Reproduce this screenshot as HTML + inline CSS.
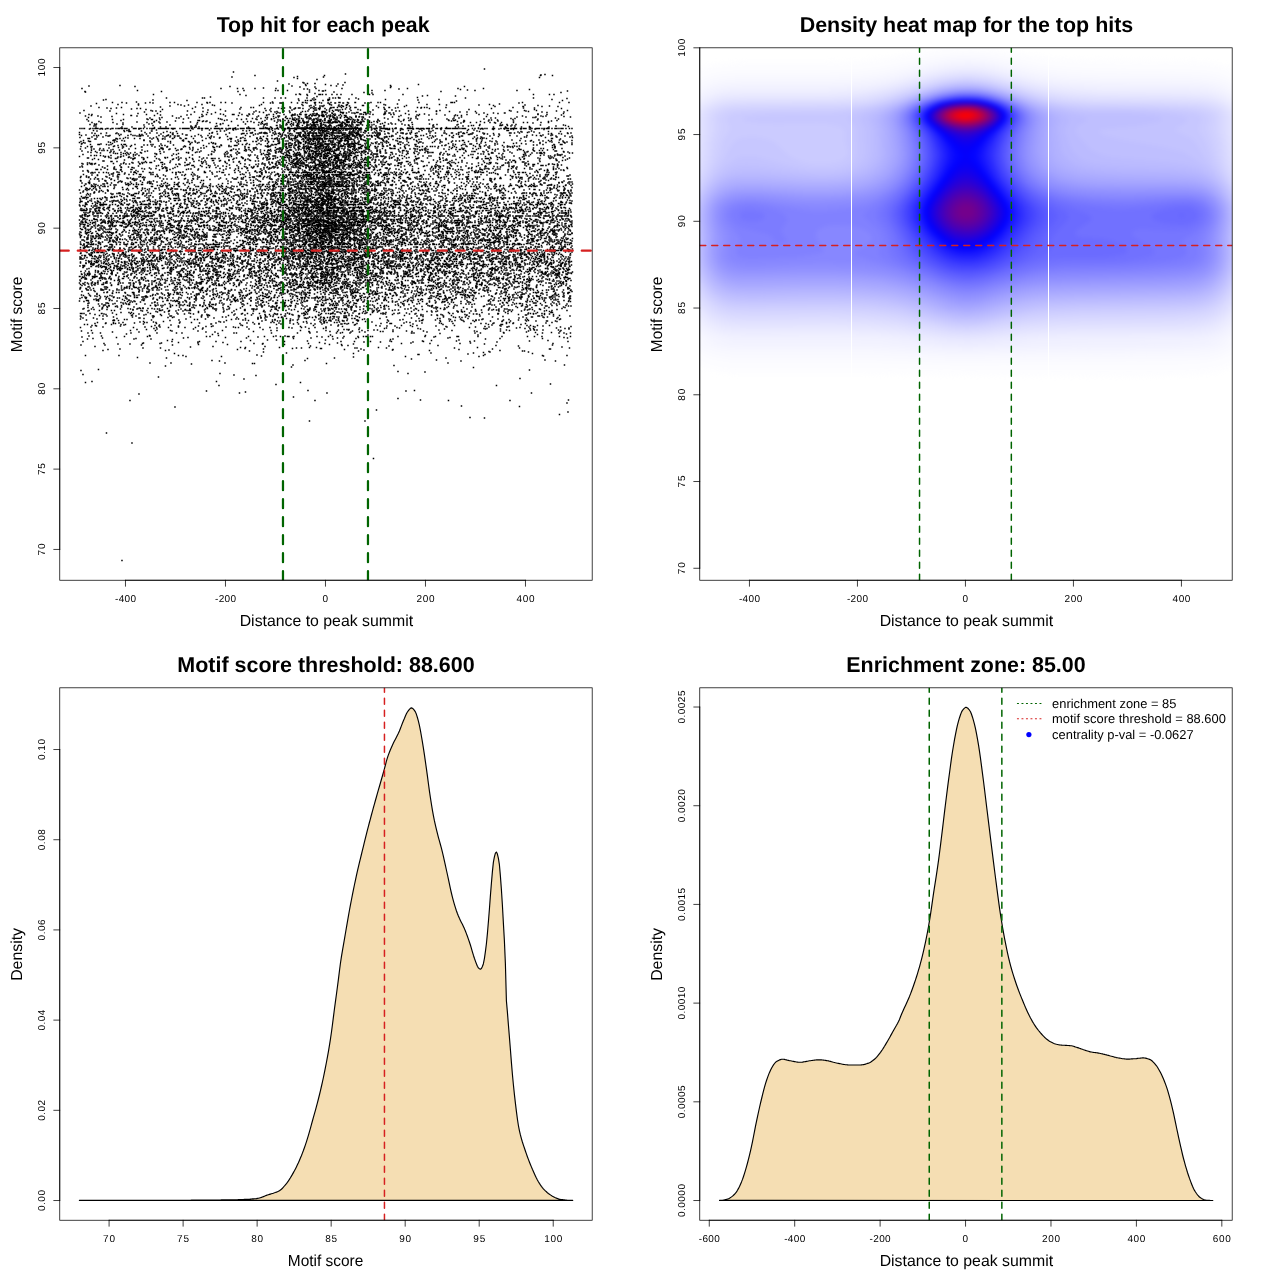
<!DOCTYPE html><html><head><meta charset="utf-8"><title>plot</title><style>html,body{margin:0;padding:0;background:#fff}svg{display:block}text{font-family:"Liberation Sans",sans-serif;fill:#000;text-rendering:geometricPrecision;opacity:.999}</style></head><body>
<svg width="1280" height="1280" viewBox="0 0 1280 1280">
<rect width="1280" height="1280" fill="#fff"/>
<defs>
<clipPath id="c0"><rect x="59.76" y="47.81" width="532.43" height="532.43"/></clipPath>
<clipPath id="c1"><rect x="699.76" y="47.81" width="532.43" height="532.43"/></clipPath>
<clipPath id="c2"><rect x="59.76" y="687.81" width="532.43" height="532.43"/></clipPath>
<clipPath id="c3"><rect x="699.76" y="687.81" width="532.43" height="532.43"/></clipPath>
<filter id="hb" x="-5%" y="-5%" width="110%" height="110%" color-interpolation-filters="sRGB"><feGaussianBlur stdDeviation="2"/></filter>
</defs>
<g id="scatter" clip-path="url(#c0)">
<g transform="translate(58.730 0) scale(.5)" stroke="#000" stroke-width="3" fill="none">
<path d="M0 138h1080" stroke-dasharray="0 850 3 3999"/>
<path d="M0 144h1080" stroke-dasharray="0 348 3 3999"/>
<path d="M0 148h1080" stroke-dasharray="0 572 3 3999"/>
<path d="M0 149h1080" stroke-dasharray="0 971 3 3999"/>
<path d="M0 150h1080" stroke-dasharray="0 963 3 3999"/>
<path d="M0 151h1080" stroke-dasharray="0 391 3 136 3 429 3 21 3 3999"/>
<path d="M0 153h1080" stroke-dasharray="0 476 3 3999"/>
<path d="M0 154h1080" stroke-dasharray="0 345 3 180 3 3999"/>
<path d="M0 155h1080" stroke-dasharray="0 469 3 488 3 3999"/>
<path d="M0 157h1080" stroke-dasharray="0 476 3 3999"/>
<path d="M0 159h1080" stroke-dasharray="0 515 3 3999"/>
<path d="M0 162h1080" stroke-dasharray="0 436 3 3999"/>
<path d="M0 165h1080" stroke-dasharray="0 487 3 81 3 3999"/>
<path d="M0 166h1080" stroke-dasharray="0 489 3 3999"/>
<path d="M0 167h1080" stroke-dasharray="0 496 3 12 3 3999"/>
<path d="M0 168h1080" stroke-dasharray="0 459 3 95 3 3999"/>
<path d="M0 169h1080" stroke-dasharray="0 492 3 37 3 183 3 3999"/>
<path d="M0 170h1080" stroke-dasharray="0 567 3 3999"/>
<path d="M0 171h1080" stroke-dasharray="0 121 3 369 3 47 3 116 3 3999"/>
<path d="M0 172h1080" stroke-dasharray="0 59 3 403 3 86 3 3999"/>
<path d="M0 173h1080" stroke-dasharray="0 151 3 187 3 319 3 144 3 3999"/>
<path d="M0 174h1080" stroke-dasharray="0 481 3 27 3 3999"/>
<path d="M0 175h1080" stroke-dasharray="0 662 3 3999"/>
<path d="M0 176h1080" stroke-dasharray="0 408 3 3999"/>
<path d="M0 177h1080" stroke-dasharray="0 45 3 275 3 30 3 8 3 21 3 39 3 77 3 49 3 128 3 98 3 48 3 3999"/>
<path d="M0 178h1080" stroke-dasharray="0 489 3 4 3 180 3 3999"/>
<path d="M0 179h1080" stroke-dasharray="0 802 3 135 3 3999"/>
<path d="M0 180h1080" stroke-dasharray="0 500 3 313 3 3999"/>
<path d="M0 181h1080" stroke-dasharray="0 156 3 210 3 60 3 2 3 16 3 60 3 10 3 90 3 23 3 177 3 81 3 3999"/>
<path d="M0 182h1080" stroke-dasharray="0 526 5 485 3 3999"/>
<path d="M0 183h1080" stroke-dasharray="0 51 3 150 3 150 3 403 3 3999"/>
<path d="M0 184h1080" stroke-dasharray="0 52 3 445 3 46 3 3999"/>
<path d="M0 185h1080" stroke-dasharray="0 609 3 391 3 3999"/>
<path d="M0 186h1080" stroke-dasharray="0 625 3 3999"/>
<path d="M0 187h1080" stroke-dasharray="0 511 3 3999"/>
<path d="M0 188h1080" stroke-dasharray="0 480 3 3999"/>
<path d="M0 189h1080" stroke-dasharray="0 188 3 170 3 109 3 6 3 10 3 21 6 1 3 4 3 9 3 7 3 5 3 19 3 32 3 4 3 57 3 258 3 29 3 6 3 3999"/>
<path d="M0 191h1080" stroke-dasharray="0 373 3 120 3 237 3 3999"/>
<path d="M0 192h1080" stroke-dasharray="0 726 3 63 3 3999"/>
<path d="M0 193h1080" stroke-dasharray="0 515 3 3999"/>
<path d="M0 194h1080" stroke-dasharray="0 302 3 3999"/>
<path d="M0 195h1080" stroke-dasharray="0 558 3 155 3 3999"/>
<path d="M0 196h1080" stroke-dasharray="0 214 3 69 3 1 3 115 3 20 3 9 3 6 3 40 3 11 3 28 3 4 3 2 3 4 5 29 3 216 3 133 3 3999"/>
<path d="M0 197h1080" stroke-dasharray="0 1015 3 3999"/>
<path d="M0 198h1080" stroke-dasharray="0 478 3 25 3 70 3 16 3 3999"/>
<path d="M0 199h1080" stroke-dasharray="0 93 3 416 3 22 6 109 3 104 3 223 3 3999"/>
<path d="M0 200h1080" stroke-dasharray="0 88 3 96 3 319 3 167 3 35 3 3999"/>
<path d="M0 201h1080" stroke-dasharray="0 255 3 221 3 10 3 1 3 3 5 20 3 7 4 465 3 3999"/>
<path d="M0 202h1080" stroke-dasharray="0 794 3 3999"/>
<path d="M0 204h1080" stroke-dasharray="0 154 3 269 3 3999"/>
<path d="M0 205h1080" stroke-dasharray="0 106 3 16 3 53 3 37 3 6 3 42 3 17 3 3 3 19 3 6 3 73 3 36 3 14 3 19 4 2 3 15 5 5 3 20 3 13 5 12 3 12 4 28 3 11 3 2 3 74 3 61 6 1 3 133 3 71 3 16 3 3999"/>
<path d="M0 206h1080" stroke-dasharray="0 134 3 35 3 12 3 106 3 46 3 74 3 2 3 11 8 27 3 16 3 26 3 10 4 10 4 12 4 7 3 30 3 5 3 297 3 3999"/>
<path d="M0 207h1080" stroke-dasharray="0 74 3 434 3 3999"/>
<path d="M0 208h1080" stroke-dasharray="0 158 3 379 3 133 3 201 3 3999"/>
<path d="M0 209h1080" stroke-dasharray="0 117 3 117 3 45 3 116 3 78 3 53 3 32 3 70 3 83 3 22 3 97 3 3999"/>
<path d="M0 210h1080" stroke-dasharray="0 158 3 82 3 12 3 45 3 203 3 29 3 12 3 12 3 75 3 119 3 62 3 89 3 3999"/>
<path d="M0 211h1080" stroke-dasharray="0 310 3 87 3 84 3 13 3 23 3 32 3 7 3 29 5 83 3 171 3 86 3 3999"/>
<path d="M0 212h1080" stroke-dasharray="0 63 3 155 3 26 3 247 3 18 3 1 3 30 3 5 3 11 3 51 3 343 3 3999"/>
<path d="M0 213h1080" stroke-dasharray="0 446 3 60 3 15 3 31 3 4 3 119 3 178 3 53 4 34 3 29 3 3999"/>
<path d="M0 214h1080" stroke-dasharray="0 202 3 67 3 186 3 3999"/>
<path d="M0 215h1080" stroke-dasharray="0 79 3 42 3 236 3 17 3 2 3 114 3 13 3 19 3 1 5 4 3 5 3 7 3 5 3 6 5 22 3 17 3 8 3 7 4 14 3 36 3 5 3 3 3 2 3 35 3 131 3 3999"/>
<path d="M0 216h1080" stroke-dasharray="0 95 3 16 3 170 3 148 3 9 3 9 3 7 3 3 6 18 3 5 6 27 3 126 3 48 3 202 3 19 3 3999"/>
<path d="M0 217h1080" stroke-dasharray="0 103 3 49 3 4 3 101 3 142 3 9 3 18 6 21 3 13 3 18 3 7 6 7 3 7 3 196 3 121 3 137 3 3999"/>
<path d="M0 218h1080" stroke-dasharray="0 144 3 214 3 105 3 100 3 6 3 66 3 3999"/>
<path d="M0 219h1080" stroke-dasharray="0 173 3 30 3 113 3 122 3 49 3 18 3 43 3 28 3 51 3 165 3 128 3 3999"/>
<path d="M0 220h1080" stroke-dasharray="0 297 3 121 3 41 3 42 7 17 3 3 3 9 8 1 3 38 3 22 3 35 3 3999"/>
<path d="M0 221h1080" stroke-dasharray="0 49 3 131 3 227 3 130 3 34 3 175 3 136 3 27 3 21 3 59 3 3999"/>
<path d="M0 222h1080" stroke-dasharray="0 101 3 82 3 4 3 60 3 73 3 58 3 53 3 8 3 34 3 58 3 93 3 16 3 4 3 15 3 53 3 146 3 27 3 58 3 3999"/>
<path d="M0 223h1080" stroke-dasharray="0 202 3 82 3 133 3 9 3 48 3 3 3 13 3 15 7 7 3 5 3 68 3 91 3 38 3 23 3 49 3 103 3 3999"/>
<path d="M0 224h1080" stroke-dasharray="0 170 3 97 3 116 3 8 3 28 3 91 3 4 3 27 3 14 3 40 3 26 3 147 3 11 3 98 3 46 3 41 3 3999"/>
<path d="M0 225h1080" stroke-dasharray="0 296 3 13 3 93 3 26 3 21 3 19 3 40 3 2 3 29 8 23 6 9 6 360 3 3999"/>
<path d="M0 226h1080" stroke-dasharray="0 41 3 316 3 78 3 91 3 7 3 26 3 8 3 1 3 60 3 4 5 4 3 163 3 12 3 16 3 19 4 3999"/>
<path d="M0 227h1080" stroke-dasharray="0 114 3 40 3 36 3 235 3 72 3 3 3 28 3 18 3 21 3 19 3 1 3 30 3 39 3 182 3 128 3 3999"/>
<path d="M0 228h1080" stroke-dasharray="0 304 3 15 3 54 3 5 3 81 3 7 3 22 3 4 5 7 3 23 3 47 6 14 3 27 3 76 3 21 3 200 3 3999"/>
<path d="M0 229h1080" stroke-dasharray="0 59 3 3 3 60 3 43 3 86 3 19 3 6 3 31 3 15 6 13 3 12 3 36 3 6 3 18 3 14 3 12 5 6 5 5 3 10 3 9 3 3 3 12 3 11 3 43 3 2 3 11 3 19 3 11 3 3 3 27 3 18 3 92 3 21 3 14 3 98 3 15 3 3999"/>
<path d="M0 230h1080" stroke-dasharray="0 202 3 50 3 157 3 48 8 2 3 13 4 12 3 7 3 21 3 7 3 160 3 21 3 29 3 18 3 209 3 3999"/>
<path d="M0 231h1080" stroke-dasharray="0 64 3 76 4 43 3 165 3 14 3 36 3 47 3 33 3 2 3 2 6 4 3 1 8 7 3 8 3 6 3 8 6 107 3 32 3 75 3 5 3 3999"/>
<path d="M0 232h1080" stroke-dasharray="0 52 3 22 3 75 3 68 3 58 3 42 3 42 3 18 3 36 6 22 3 31 3 3 3 27 3 4 3 1 3 15 3 26 3 194 3 133 3 34 3 7 3 3999"/>
<path d="M0 233h1080" stroke-dasharray="0 105 3 135 3 39 3 140 3 22 3 22 3 38 3 4 6 10 3 27 3 18 3 4 3 76 3 31 3 138 3 110 3 39 3 3999"/>
<path d="M0 234h1080" stroke-dasharray="0 83 3 309 3 40 3 39 3 9 7 36 3 2 3 5 3 4 3 16 3 4 3 9 3 3 3 3 5 10 3 43 3 135 3 108 3 15 3 17 3 66 3 3999"/>
<path d="M0 235h1080" stroke-dasharray="0 58 3 144 3 72 3 129 3 1 3 14 3 16 3 39 3 50 5 10 3 5 3 3 3 5 3 21 3 336 3 1 3 3999"/>
<path d="M0 236h1080" stroke-dasharray="0 181 3 16 3 31 3 2 3 16 3 205 3 2 3 25 6 12 3 30 4 2 3 3 3 85 3 45 3 12 3 73 3 7 3 61 3 6 3 117 3 3999"/>
<path d="M0 237h1080" stroke-dasharray="0 318 3 65 3 14 3 23 3 23 4 2 3 15 3 2 3 8 3 5 3 7 3 15 3 6 3 35 3 122 3 197 3 5 3 3999"/>
<path d="M0 238h1080" stroke-dasharray="0 175 3 70 3 71 3 30 3 16 3 16 3 19 3 6 3 20 3 17 3 5 3 9 3 9 5 5 3 2 3 14 3 15 3 1 3 22 5 2 3 18 3 2 3 43 3 56 3 56 3 9 3 59 3 105 3 38 3 3999"/>
<path d="M0 239h1080" stroke-dasharray="0 55 3 48 3 19 3 46 3 4 5 12 3 121 3 36 3 28 3 26 3 10 3 7 3 16 6 2 3 32 3 5 3 1 5 18 3 6 5 18 3 3 3 3 3 5 3 6 3 29 3 38 3 8 3 53 3 159 3 3999"/>
<path d="M0 240h1080" stroke-dasharray="0 335 3 103 3 25 4 5 3 24 7 10 3 5 3 8 5 25 6 14 3 4 3 15 4 82 3 34 3 36 3 11 3 64 3 2 3 9 3 77 3 3999"/>
<path d="M0 241h1080" stroke-dasharray="0 123 3 68 3 80 6 47 3 78 3 37 3 4 3 11 3 5 3 4 3 27 3 11 3 4 3 34 3 19 3 37 3 39 3 6 3 8 3 77 3 6 5 16 3 183 3 3999"/>
<path d="M0 242h1080" stroke-dasharray="0 58 3 171 3 53 3 4 3 132 3 4 3 2 3 33 5 4 3 8 3 15 3 1 5 1 3 9 7 6 5 1 4 14 3 8 3 1 3 13 4 10 3 17 3 141 3 23 3 45 3 16 3 28 3 73 3 3999"/>
<path d="M0 243h1080" stroke-dasharray="0 79 3 108 3 93 3 4 3 48 3 29 3 4 3 20 3 55 3 12 3 7 3 15 3 4 3 4 4 13 6 15 4 12 3 1 3 4 3 6 3 5 3 3 3 7 3 7 3 3 3 45 3 110 3 10 3 30 3 133 3 3999"/>
<path d="M0 244h1080" stroke-dasharray="0 155 3 31 3 7 3 13 3 44 3 103 3 87 3 12 3 18 5 9 3 36 9 10 3 5 6 228 3 3999"/>
<path d="M0 245h1080" stroke-dasharray="0 65 3 15 3 21 3 65 3 69 3 26 3 22 3 85 3 7 3 2 3 28 3 19 5 16 4 1 3 2 6 1 5 6 13 10 5 1 9 2 5 1 7 2 3 3 5 4 6 3 3 1 5 3 10 13 3 1 3 9 3 12 3 51 3 114 3 9 3 13 3 8 3 6 3 11 3 21 3 17 3 5 3 24 3 12 3 3999"/>
<path d="M0 246h1080" stroke-dasharray="0 127 3 71 3 264 3 53 3 12 3 1 5 17 3 95 3 137 3 66 3 72 3 3999"/>
<path d="M0 247h1080" stroke-dasharray="0 185 3 126 3 10 3 76 3 6 3 36 3 7 3 9 3 10 3 17 3 10 4 38 3 4 3 11 3 14 3 41 3 3999"/>
<path d="M0 248h1080" stroke-dasharray="0 70 3 1 3 38 3 61 3 93 3 44 3 47 3 28 3 6 3 63 4 13 3 4 3 3 3 55 3 2 4 28 3 36 3 13 3 4 3 4 3 10 3 52 3 139 3 3999"/>
<path d="M0 249h1080" stroke-dasharray="0 61 3 63 3 192 3 85 3 42 3 4 3 2 3 6 3 31 3 2 3 5 3 2 3 10 3 18 3 9 4 7 3 41 3 74 3 46 3 39 3 41 3 51 3 15 3 3999"/>
<path d="M0 250h1080" stroke-dasharray="0 71 5 93 3 49 3 174 3 8 3 3 3 23 3 9 3 12 3 25 6 2 7 1 3 2 3 5 3 3 3 25 3 2 3 7 5 1 3 4 3 4 8 4 3 11 3 2 3 63 3 4 3 47 3 44 3 88 3 16 3 54 3 43 3 3999"/>
<path d="M0 251h1080" stroke-dasharray="0 187 3 83 3 62 3 16 3 74 4 36 6 6 3 6 3 7 3 1 5 9 3 6 4 4 6 11 8 1 3 4 3 6 3 11 3 16 3 31 4 46 3 45 3 74 3 1 3 9 3 38 6 9 3 113 3 3999"/>
<path d="M0 252h1080" stroke-dasharray="0 69 3 191 3 6 3 40 3 125 4 17 3 10 4 14 3 6 3 15 3 7 3 3 3 13 3 5 3 1 3 9 3 2 3 47 3 171 3 8 3 82 3 5 3 79 3 3999"/>
<path d="M0 253h1080" stroke-dasharray="0 312 3 197 3 8 3 38 3 6 3 8 3 29 3 321 3 75 3 3999"/>
<path d="M0 254h1080" stroke-dasharray="0 73 3 49 3 17 3 22 3 29 3 8 3 47 5 5 3 3 3 96 3 27 3 11 3 16 3 2 3 26 4 1 3 8 4 7 3 2 9 2 4 1 3 8 9 1 3 3 3 10 4 3 3 8 3 3 3 2 3 26 6 13 6 3 3 49 3 2 3 38 5 40 3 3 3 67 3 21 3 29 3 52 3 3999"/>
<path d="M0 255h1080" stroke-dasharray="0 190 3 77 3 139 3 9 3 9 3 4 3 11 5 33 4 1 7 18 7 17 6 3 3 30 3 1 4 175 3 115 3 45 5 3999"/>
<path d="M0 256h1080" stroke-dasharray="0 123 3 140 3 83 3 20 3 1 3 33 3 29 3 21 3 3 3 3 9 2 5 10 3 7 5 1 3 12 3 24 3 15 3 15 3 9 6 3 3 7 3 36 3 21 3 64 3 71 3 53 3 13 3 64 3 3999"/>
<path d="M0 257h1080" stroke-dasharray="0 41 3 1 3 1 4 9 3 2 3 1 9 3 5 7 5 5 5 3 3 1 6 1 5 1 8 10 8 3 7 2 3 4 3 3 3 1 8 5 23 3 10 7 3 2 16 2 3 10 6 1 5 3 8 3 3 4 12 2 5 4 3 3 6 2 8 7 10 3 3 1 7 1 6 8 11 1 10 3 3 5 5 6 9 2 148 9 3 13 9 5 16 1 3 3 3 2 5 7 4 9 14 4 7 2 8 3 9 2 3 5 6 3 5 5 13 1 14 1 3 1 10 11 3 2 3 4 3 3 5 2 3 1 3 9 6 10 3 3 5 1 6 2 14 5 5 1 8 9 3 5 10 2 3 1 4 1 8 3 3 3 7 1 3 1 7 3 3 4 3 2 3 3999"/>
<path d="M0 258h1080" stroke-dasharray="0 60 3 18 3 2 3 3 3 7 3 54 3 23 3 39 3 37 3 51 3 13 3 17 3 58 3 3 3 4 3 4 3 8 6 5 3 8 3 10 12 5 9 5 3 1 4 7 3 1 21 1 6 2 3 1 3 2 3 1 10 6 3 4 7 9 3 6 3 13 3 8 7 23 6 19 4 9 6 3 3 110 3 2 3 16 3 10 3 8 3 10 3 17 3 14 5 6 4 3999"/>
<path d="M0 259h1080" stroke-dasharray="0 139 3 205 3 3 3 92 5 19 5 14 3 24 3 4 3 9 3 14 3 31 3 2 3 3 3 29 3 23 6 24 3 73 3 52 3 47 3 37 3 58 3 3999"/>
<path d="M0 260h1080" stroke-dasharray="0 194 3 88 3 12 3 31 3 11 3 69 3 38 3 24 3 14 3 2 5 5 3 1 3 3 3 9 3 2 5 20 6 22 6 18 3 40 3 69 3 87 3 3999"/>
<path d="M0 261h1080" stroke-dasharray="0 68 3 58 3 3 3 1 3 120 3 102 3 10 3 8 3 32 3 21 3 7 3 6 3 33 3 14 3 1 5 3 4 10 8 3 6 2 3 18 3 20 3 20 3 4 3 38 3 13 3 24 3 19 3 66 3 76 6 3999"/>
<path d="M0 262h1080" stroke-dasharray="0 75 3 86 3 17 4 134 3 5 3 41 3 72 3 34 4 5 4 19 3 1 3 7 3 12 3 5 3 2 3 18 3 3 3 1 3 2 5 10 5 28 3 57 3 63 3 62 3 106 3 3999"/>
<path d="M0 263h1080" stroke-dasharray="0 130 3 6 6 70 3 16 3 78 3 113 3 26 3 7 3 16 3 10 3 4 3 14 3 1 6 1 3 7 3 63 3 34 3 14 3 49 3 17 3 1 3 94 3 80 3 52 3 21 3 3999"/>
<path d="M0 264h1080" stroke-dasharray="0 421 3 67 3 7 3 25 3 7 3 16 3 2 3 14 3 1 7 7 3 2 3 24 3 2 3 165 3 111 3 5 3 11 3 7 3 3999"/>
<path d="M0 265h1080" stroke-dasharray="0 40 3 128 3 34 3 11 3 81 3 77 3 15 3 4 3 34 3 31 3 34 3 5 3 14 6 30 3 7 3 2 3 10 3 65 3 25 3 92 3 13 3 118 3 3999"/>
<path d="M0 266h1080" stroke-dasharray="0 65 3 26 3 18 3 63 3 11 3 29 3 75 3 32 3 39 6 12 6 2 9 10 4 1 3 5 3 14 3 14 12 5 4 2 20 2 11 4 4 5 24 1 7 6 7 5 6 12 3 4 3 5 4 2 3 2 7 13 3 23 7 11 3 11 3 23 3 8 3 14 5 10 5 9 3 7 3 15 4 17 3 50 6 4 3 7 3 37 3 53 3 4 3 3999"/>
<path d="M0 267h1080" stroke-dasharray="0 71 3 9 3 27 3 120 3 61 3 63 6 3 3 33 3 1 3 20 3 21 3 13 3 11 3 2 5 5 3 3 4 4 3 11 7 17 3 3 3 11 3 10 9 58 3 25 3 5 3 14 3 92 6 37 3 15 3 113 3 12 3 15 3 3999"/>
<path d="M0 268h1080" stroke-dasharray="0 118 3 53 3 26 3 20 3 17 3 67 3 45 3 25 3 2 3 33 3 5 3 2 3 11 3 2 3 30 3 7 3 19 3 13 3 32 5 1 3 8 3 34 9 7 3 19 3 17 3 6 3 29 3 37 3 17 3 25 6 21 3 4 3 20 3 96 3 3 3 17 3 3999"/>
<path d="M0 269h1080" stroke-dasharray="0 40 3 80 3 17 3 14 3 2 3 59 3 48 3 52 3 94 3 9 3 36 3 4 3 8 3 21 3 7 3 5 3 22 8 1 3 7 5 5 8 38 3 154 3 17 5 3999"/>
<path d="M0 270h1080" stroke-dasharray="0 53 3 162 3 32 5 130 3 55 3 2 3 24 6 4 3 2 3 11 3 4 3 8 4 2 3 10 6 31 3 18 3 1 4 25 3 231 3 8 3 63 3 18 3 16 3 3999"/>
<path d="M0 271h1080" stroke-dasharray="0 44 3 22 3 2 3 1 3 12 3 5 3 16 3 14 3 7 3 1 3 7 5 1 3 29 3 14 4 63 3 11 3 72 3 50 3 25 3 2 3 2 3 1 3 2 3 6 3 4 6 2 6 3 3 6 13 3 3 2 4 5 3 3 3 2 3 8 3 7 6 4 6 2 4 2 3 12 3 2 3 1 3 3 3 2 3 1 3 23 3 44 5 6 3 2 3 10 3 21 3 12 3 5 3 44 3 63 3 31 3 16 3 5 3 18 3 3999"/>
<path d="M0 272h1080" stroke-dasharray="0 97 5 53 3 1 6 12 3 27 3 4 3 5 3 5 4 2 6 29 3 30 3 109 3 19 3 3 4 10 3 15 3 2 3 3 5 7 3 4 8 10 3 4 7 19 5 1 3 3 10 1 3 3 7 7 7 10 3 4 3 6 3 31 3 11 3 62 3 3 3 49 5 52 3 51 3 46 3 26 3 15 3 11 3 3999"/>
<path d="M0 273h1080" stroke-dasharray="0 264 3 69 3 42 3 24 3 61 3 7 3 55 3 9 3 5 3 28 3 9 3 19 3 9 3 14 3 3 3 1 3 49 3 81 3 75 3 3999"/>
<path d="M0 274h1080" stroke-dasharray="0 65 3 7 3 9 3 104 3 14 3 7 3 61 3 15 3 3 3 42 3 45 3 38 3 8 3 2 3 9 3 2 3 5 3 3 7 10 5 1 10 6 5 12 3 2 3 1 3 12 13 10 3 6 3 5 3 12 3 8 3 11 8 55 3 20 3 9 3 34 3 12 3 27 3 10 3 84 3 1 3 57 4 23 3 3999"/>
<path d="M0 275h1080" stroke-dasharray="0 41 3 88 3 95 3 67 3 18 3 43 3 104 3 15 3 4 3 28 3 23 3 7 3 7 3 17 3 38 3 46 3 6 3 7 3 79 3 55 3 124 3 51 3 3999"/>
<path d="M0 276h1080" stroke-dasharray="0 137 3 41 3 4 3 50 3 76 3 40 3 29 3 37 3 12 3 6 4 9 3 20 3 12 3 9 3 25 3 6 3 3 3 1 3 10 4 5 3 8 3 34 3 8 3 42 3 46 3 89 3 10 3 3999"/>
<path d="M0 277h1080" stroke-dasharray="0 57 6 50 4 4 3 4 3 19 3 8 3 32 3 8 3 16 4 13 3 6 5 11 3 22 3 6 3 36 6 15 3 6 3 21 3 3 6 7 3 8 3 4 3 1 3 10 3 12 3 2 6 12 3 2 3 5 6 1 8 1 12 2 9 1 17 5 6 6 7 22 3 9 3 23 3 1 3 28 3 1 4 4 3 3 6 1 4 34 3 31 3 51 3 12 3 1 3 5 3 9 3 54 3 58 5 3999"/>
<path d="M0 278h1080" stroke-dasharray="0 71 5 40 3 66 3 18 3 2 3 202 3 11 3 7 3 2 3 12 3 2 3 20 3 6 3 2 3 8 3 4 3 3 3 5 3 35 3 9 3 10 3 21 3 8 3 9 3 11 3 33 4 26 3 28 3 76 3 165 3 3999"/>
<path d="M0 279h1080" stroke-dasharray="0 197 3 137 3 3 3 90 3 8 3 13 3 19 3 10 4 1 3 2 5 2 4 1 4 1 3 3 3 18 3 8 3 6 3 4 7 1 3 13 5 39 3 17 3 39 3 7 3 51 3 58 3 3999"/>
<path d="M0 280h1080" stroke-dasharray="0 109 6 54 3 76 3 106 3 37 3 6 3 7 3 52 3 1 3 11 3 3 3 7 3 6 5 7 3 10 3 6 3 5 3 5 3 5 3 2 3 9 3 16 3 141 3 6 3 81 3 57 3 51 3 38 3 3999"/>
<path d="M0 281h1080" stroke-dasharray="0 48 3 56 5 13 3 41 3 74 3 37 3 81 6 63 3 24 3 8 3 17 4 40 3 15 3 1 5 2 8 32 5 3 3 26 4 22 3 38 3 89 5 110 3 20 3 31 3 3 3 38 3 3999"/>
<path d="M0 282h1080" stroke-dasharray="0 58 3 69 3 48 3 14 3 47 3 20 3 78 3 7 3 38 3 6 3 22 3 8 3 2 3 1 3 42 3 2 4 8 4 4 3 8 3 4 4 13 3 6 3 2 3 11 3 6 3 11 3 32 3 3 3 19 3 16 3 88 3 4 3 4 3 31 3 24 3 9 3 56 3 7 3 22 3 37 3 3999"/>
<path d="M0 283h1080" stroke-dasharray="0 43 3 14 5 50 3 99 3 2 3 33 3 82 3 12 3 26 3 3 4 21 3 7 3 42 3 2 4 6 3 1 3 6 3 4 3 6 5 6 3 1 3 7 3 15 6 12 3 74 3 57 3 32 3 9 3 53 3 23 3 18 3 113 3 3999"/>
<path d="M0 284h1080" stroke-dasharray="0 98 3 9 3 69 3 75 3 9 3 143 3 18 4 34 3 14 3 2 3 10 3 11 6 14 5 7 5 14 3 5 3 2 3 6 3 33 3 13 3 26 6 34 6 39 3 16 3 88 3 70 3 34 3 20 3 4 3 3999"/>
<path d="M0 285h1080" stroke-dasharray="0 40 3 5 3 51 3 160 3 11 3 22 3 48 3 113 3 5 6 7 3 23 3 22 3 9 3 19 3 17 3 32 3 8 3 12 3 37 3 45 3 61 3 39 3 34 3 69 3 9 3 23 3 8 3 3999"/>
<path d="M0 286h1080" stroke-dasharray="0 51 3 168 3 51 3 29 3 129 3 16 6 6 3 9 3 10 6 2 3 9 3 2 6 18 4 9 6 27 3 20 3 7 3 19 3 5 3 30 3 28 3 6 3 31 3 79 3 68 3 94 3 11 3 3999"/>
<path d="M0 287h1080" stroke-dasharray="0 45 3 58 3 153 3 34 3 5 3 2 3 60 3 21 3 14 3 18 5 12 3 21 3 1 3 7 3 4 3 6 7 17 3 4 3 9 3 5 4 6 3 3 3 6 7 1 6 13 3 3 3 7 3 3 3 41 3 98 3 54 3 33 3 34 3 13 3 34 3 3999"/>
<path d="M0 288h1080" stroke-dasharray="0 44 3 36 3 117 3 106 3 43 3 88 3 1 3 2 3 3 5 9 3 20 3 1 3 10 7 1 3 1 3 1 5 2 3 14 3 15 15 7 3 37 5 35 3 106 3 31 6 49 3 54 3 3999"/>
<path d="M0 289h1080" stroke-dasharray="0 62 3 12 6 11 3 6 3 18 3 2 6 16 3 29 3 1 3 71 3 102 3 4 3 4 3 12 3 5 3 19 3 3 6 16 3 15 3 14 3 12 7 6 3 4 3 7 3 2 3 4 9 16 6 3 4 7 3 5 7 41 3 12 3 18 3 10 3 13 5 76 3 12 3 1 3 26 3 124 3 19 3 10 6 17 3 3999"/>
<path d="M0 290h1080" stroke-dasharray="0 99 3 67 3 4 3 49 3 92 3 101 3 44 3 12 3 5 3 12 3 8 3 1 3 6 5 4 3 5 3 2 3 2 3 12 3 7 4 20 3 7 3 36 3 27 3 79 3 77 3 15 3 74 3 4 3 32 3 3999"/>
<path d="M0 291h1080" stroke-dasharray="0 117 3 24 3 58 3 3 3 74 3 33 3 12 3 8 8 59 3 3 3 21 3 9 8 5 3 4 3 29 6 5 8 38 3 9 3 8 3 11 5 60 3 26 3 63 3 3 3 13 3 14 3 21 3 55 3 97 3 3999"/>
<path d="M0 292h1080" stroke-dasharray="0 110 3 13 3 5 3 48 3 12 3 47 3 159 3 36 3 15 3 22 3 15 3 5 5 11 3 11 3 4 3 2 8 7 3 3 3 4 3 53 4 5 4 10 3 40 3 98 3 24 3 7 3 7 3 33 3 11 3 7 3 3999"/>
<path d="M0 293h1080" stroke-dasharray="0 43 3 10 3 6 3 40 3 31 3 71 3 33 3 39 3 10 3 5 3 2 3 16 3 1 3 25 3 41 9 30 3 21 6 4 3 1 3 3 3 1 3 12 7 1 3 1 3 2 3 2 3 6 5 6 3 1 6 2 3 3 3 4 8 11 5 12 3 8 4 2 3 8 3 20 3 16 3 22 4 7 3 6 3 4 3 1 3 2 3 4 3 29 3 22 3 14 3 7 3 54 3 4 3 6 3 73 3 3999"/>
<path d="M0 294h1080" stroke-dasharray="0 63 4 61 3 33 4 23 3 21 3 30 3 69 3 94 3 39 4 15 3 9 3 4 3 3 3 7 3 1 3 1 3 8 3 16 3 24 5 8 3 17 3 1 4 101 3 57 3 74 3 29 3 4 3 3 3 85 4 3999"/>
<path d="M0 295h1080" stroke-dasharray="0 118 3 139 3 4 3 38 5 65 4 11 3 36 3 18 3 7 3 3 3 5 3 15 3 1 7 5 6 1 3 7 3 3 3 1 3 6 5 6 3 21 3 4 3 7 6 7 3 4 3 69 3 92 3 5 3 110 3 76 3 3999"/>
<path d="M0 296h1080" stroke-dasharray="0 52 3 44 3 24 3 74 5 75 3 3 3 79 3 14 7 45 6 8 3 29 6 15 3 13 3 6 3 7 3 13 5 8 3 24 6 10 3 15 6 23 3 18 3 47 3 22 3 45 3 34 3 14 4 85 3 40 3 3999"/>
<path d="M0 297h1080" stroke-dasharray="0 81 3 68 3 49 6 22 3 221 3 12 3 5 3 7 3 2 8 10 5 3 3 4 3 26 3 6 3 22 3 7 3 1 3 11 3 25 3 13 6 1 5 18 3 14 3 72 3 22 3 15 3 8 3 78 3 41 3 2 3 34 3 3999"/>
<path d="M0 298h1080" stroke-dasharray="0 42 3 19 3 2 3 16 3 48 3 79 3 20 4 13 3 3 3 78 3 8 3 26 3 4 3 38 9 33 4 12 3 2 3 9 3 3 3 1 3 1 3 4 16 6 7 8 3 5 3 7 3 4 3 15 8 81 3 7 4 1 3 11 6 33 3 34 4 67 3 3999"/>
<path d="M0 299h1080" stroke-dasharray="0 107 3 90 3 4 3 9 3 21 3 31 3 30 3 40 3 16 3 4 3 40 3 9 3 9 3 12 3 19 3 13 3 28 3 2 10 13 3 26 3 3 3 23 4 55 3 44 3 9 3 39 3 11 3 4 5 3 3 23 3 29 3 3 3 13 3 29 6 21 3 38 3 3999"/>
<path d="M0 300h1080" stroke-dasharray="0 80 3 20 3 14 3 42 3 69 3 104 3 27 3 12 3 10 3 13 3 23 3 6 3 5 6 6 3 2 3 8 3 9 3 10 3 1 3 18 6 5 3 1 4 1 3 7 3 5 6 8 3 3 3 35 3 3 3 8 3 66 3 2 3 2 3 120 3 40 3 16 3 57 3 3999"/>
<path d="M0 301h1080" stroke-dasharray="0 64 3 18 3 1 3 4 3 135 3 29 3 42 3 28 5 23 3 9 3 25 3 4 6 8 3 24 3 43 5 15 3 5 11 8 6 24 3 6 4 15 3 24 3 48 5 29 3 88 3 113 3 17 3 9 3 3 3 3999"/>
<path d="M0 302h1080" stroke-dasharray="0 45 3 83 3 42 3 104 3 87 3 47 3 14 3 2 3 9 3 30 3 3 3 8 3 7 3 5 10 6 3 2 3 31 5 26 3 5 3 1 3 26 3 24 3 4 3 5 3 14 3 19 3 135 3 15 4 57 3 38 6 3999"/>
<path d="M0 303h1080" stroke-dasharray="0 72 3 28 3 3 3 59 3 27 3 101 3 27 3 18 3 74 3 7 3 9 3 10 3 21 3 5 3 1 3 2 9 2 3 5 4 12 3 1 3 11 3 6 3 12 3 15 6 3 3 19 3 4 3 52 3 15 3 18 3 34 3 20 3 14 3 9 3 1 5 13 3 7 3 77 3 68 3 3999"/>
<path d="M0 304h1080" stroke-dasharray="0 57 3 149 3 63 3 2 3 26 3 73 3 14 3 11 3 19 3 1 3 13 3 29 4 17 3 26 3 6 4 17 4 1 4 15 3 2 4 8 4 26 3 37 3 53 3 109 3 49 3 26 3 2 3 71 3 5 3 3999"/>
<path d="M0 305h1080" stroke-dasharray="0 63 3 9 3 23 3 19 3 9 3 13 3 8 3 89 3 1 3 11 3 57 3 97 3 16 3 5 3 14 3 1 3 8 6 15 3 10 3 8 3 45 3 5 3 1 3 6 3 17 3 35 5 41 3 19 3 7 3 1 5 13 3 99 3 95 3 3 3 3999"/>
<path d="M0 306h1080" stroke-dasharray="0 82 3 23 3 31 3 19 3 91 3 76 3 13 3 2 5 56 3 11 3 8 3 7 3 13 3 6 3 11 3 3 3 6 3 2 3 3 3 2 3 4 3 4 5 6 3 9 3 5 3 5 3 1 4 3 3 18 3 5 3 22 3 7 5 29 3 7 3 20 3 15 3 69 3 52 6 35 3 23 3 11 3 7 3 2 6 4 3 47 3 3 3 3999"/>
<path d="M0 307h1080" stroke-dasharray="0 112 3 1 3 9 3 1 3 2 3 51 3 8 3 33 3 167 3 36 3 10 3 11 4 28 3 4 5 1 6 7 3 1 8 5 6 5 3 5 6 7 3 1 3 1 3 11 3 11 3 77 3 10 3 48 3 5 3 65 3 39 3 5 3 73 5 3999"/>
<path d="M0 308h1080" stroke-dasharray="0 155 3 36 3 31 3 73 3 23 3 2 3 66 3 12 5 24 3 20 3 8 3 5 3 5 6 2 5 3 12 8 3 5 3 18 3 7 4 3 3 8 3 30 3 1 11 27 3 4 3 100 3 64 3 2 3 7 3 71 3 61 3 3999"/>
<path d="M0 309h1080" stroke-dasharray="0 47 3 73 3 13 3 6 3 43 3 37 3 67 3 48 3 46 3 7 5 35 3 11 3 2 3 2 6 29 3 12 5 20 3 1 3 21 3 28 3 8 3 68 3 20 3 41 3 16 3 7 3 30 3 1 3 29 3 66 3 11 3 60 3 3999"/>
<path d="M0 310h1080" stroke-dasharray="0 134 3 15 3 111 3 29 3 30 3 8 4 32 3 1 3 6 3 17 3 4 3 35 3 13 6 1 6 15 5 13 3 2 4 2 4 2 3 7 3 8 6 2 3 1 3 1 3 3 3 23 3 28 3 24 3 102 3 7 3 105 3 41 3 37 3 19 3 2 9 3999"/>
<path d="M0 311h1080" stroke-dasharray="0 63 3 4 3 1 3 5 3 18 3 53 3 63 3 224 3 1 8 11 3 19 3 1 3 7 3 3 4 10 3 3 4 8 3 1 3 4 3 8 3 1 3 3 6 9 4 4 3 20 3 50 3 2 3 118 3 9 3 112 3 26 3 37 3 3999"/>
<path d="M0 312h1080" stroke-dasharray="0 88 3 37 3 17 3 229 3 13 3 28 8 20 3 11 8 4 3 1 3 2 3 6 3 4 3 3 7 5 3 3 8 12 3 1 6 7 4 7 3 12 3 47 3 2 3 76 3 9 3 1 3 41 3 1 3 80 3 32 3 27 3 36 3 1 3 5 3 18 3 3999"/>
<path d="M0 313h1080" stroke-dasharray="0 40 3 49 3 3 3 22 3 65 3 137 3 2 3 5 3 72 3 20 3 2 3 14 3 31 5 3 3 12 6 2 3 1 6 6 3 5 3 18 3 2 3 8 5 23 3 14 5 4 5 20 3 18 3 19 3 137 3 74 3 3999"/>
<path d="M0 314h1080" stroke-dasharray="0 91 3 23 3 2 3 14 4 95 3 39 3 56 3 22 3 46 3 30 3 1 3 7 6 19 3 7 3 5 3 2 3 4 3 27 3 4 3 2 3 6 9 3 3 38 3 6 3 2 3 15 5 4 3 174 3 46 3 1 3 33 3 56 3 3999"/>
<path d="M0 315h1080" stroke-dasharray="0 99 3 36 3 24 3 8 3 32 3 2 3 41 3 102 3 27 3 18 3 17 3 7 3 1 5 1 3 15 3 9 4 12 3 1 7 15 3 1 3 6 5 7 8 13 3 12 3 2 3 7 3 5 3 8 3 39 3 31 3 58 3 38 3 22 3 33 3 11 3 1 3 96 3 25 3 3999"/>
<path d="M0 316h1080" stroke-dasharray="0 56 5 42 3 10 3 24 3 5 3 14 3 41 3 19 3 6 3 42 3 4 3 56 3 10 3 38 3 21 3 14 3 7 3 12 5 14 4 2 3 1 3 6 3 6 3 8 3 4 3 10 9 11 3 6 3 4 3 24 3 3 3 27 3 10 3 9 3 15 3 22 3 14 3 28 3 40 3 24 3 80 3 34 3 23 3 2 3 29 3 3999"/>
<path d="M0 317h1080" stroke-dasharray="0 70 3 39 4 31 6 41 3 56 3 10 3 35 6 1 3 5 3 27 3 15 3 27 3 15 3 3 3 4 3 14 4 15 3 8 3 4 3 3 4 19 4 7 3 3 5 1 3 3 3 7 11 17 3 30 3 3 3 29 3 8 3 14 3 6 3 24 7 114 5 13 9 2 3 17 3 44 3 28 3 17 3 3999"/>
<path d="M0 318h1080" stroke-dasharray="0 169 3 27 3 26 3 8 3 43 3 89 3 27 3 10 3 4 3 29 3 9 3 1 3 2 3 12 6 1 6 3 3 26 3 15 3 10 6 17 3 9 3 7 3 8 3 131 3 10 3 68 3 38 3 40 3 61 3 20 3 3999"/>
<path d="M0 319h1080" stroke-dasharray="0 66 3 9 3 66 3 18 3 55 3 38 3 77 3 22 3 43 3 47 3 2 3 12 3 6 3 13 3 22 3 3 3 4 3 10 3 5 3 1 3 24 3 4 4 18 3 79 3 44 3 29 3 80 3 43 3 3999"/>
<path d="M0 320h1080" stroke-dasharray="0 130 3 68 3 34 3 13 3 82 3 38 3 32 3 23 3 6 3 7 3 7 3 5 5 21 6 6 5 2 3 22 5 4 9 5 3 5 6 4 3 22 3 8 3 4 3 4 3 5 3 21 3 2 3 1 3 27 3 35 3 21 6 82 3 30 3 5 3 56 3 31 3 15 3 3999"/>
<path d="M0 321h1080" stroke-dasharray="0 279 3 9 3 12 5 11 3 14 3 29 3 8 3 68 3 28 3 4 6 14 3 19 3 3 3 8 4 4 4 5 6 16 3 6 3 7 3 157 3 14 3 17 3 99 6 81 4 8 3 3999"/>
<path d="M0 322h1080" stroke-dasharray="0 87 5 98 3 29 3 95 3 69 3 3 3 36 3 20 3 2 6 5 5 37 5 14 3 2 3 9 3 4 6 2 4 7 3 33 3 13 3 40 3 32 3 11 3 29 3 89 3 3999"/>
<path d="M0 323h1080" stroke-dasharray="0 103 5 7 3 54 3 94 3 12 3 44 3 26 3 105 3 4 4 3 3 24 4 8 3 1 3 1 7 5 3 12 3 9 3 1 3 12 3 14 3 36 3 8 3 37 6 27 3 51 3 128 3 22 3 21 3 3999"/>
<path d="M0 324h1080" stroke-dasharray="0 158 3 127 3 2 3 52 3 8 3 57 3 12 3 7 3 39 3 5 3 8 3 1 3 35 3 3 3 33 3 8 3 3 3 11 3 24 3 112 3 40 3 90 3 3 3 19 6 67 3 3999"/>
<path d="M0 325h1080" stroke-dasharray="0 129 3 13 3 17 3 1 3 2 3 4 6 16 6 12 3 27 3 78 3 90 3 10 5 11 3 6 6 6 3 1 3 6 3 11 4 3 3 8 6 2 4 2 5 6 6 4 3 3 10 20 4 15 7 4 3 6 4 9 3 5 4 30 3 13 3 35 3 12 3 21 3 4 3 1 3 6 3 49 3 7 6 46 3 3999"/>
<path d="M0 326h1080" stroke-dasharray="0 56 3 1 3 84 3 111 3 21 3 21 3 94 3 10 3 4 3 43 6 3 6 2 3 7 3 4 3 2 3 14 4 1 4 4 4 7 3 41 3 1 6 72 9 24 3 1 3 58 3 36 3 20 3 32 3 16 3 1 6 31 3 3999"/>
<path d="M0 327h1080" stroke-dasharray="0 45 3 16 4 4 3 33 3 17 3 29 3 3 3 117 3 46 3 24 3 68 3 23 3 6 8 1 3 5 3 1 3 28 3 1 5 24 4 4 4 4 3 16 3 9 3 75 3 99 3 9 3 60 3 4 3 11 3 52 3 23 3 3999"/>
<path d="M0 328h1080" stroke-dasharray="0 47 3 12 3 5 3 50 3 7 3 4 3 18 3 46 3 26 3 52 3 74 3 24 3 4 3 1 5 18 3 4 5 21 3 3 6 6 3 1 3 22 3 10 4 8 7 2 4 3 3 8 3 1 3 8 3 2 3 5 3 4 3 16 3 24 3 9 3 3 3 32 3 15 3 106 3 31 3 76 3 38 3 4 3 7 3 3999"/>
<path d="M0 329h1080" stroke-dasharray="0 56 3 6 3 138 3 24 3 5 3 12 6 131 3 25 3 27 3 8 3 6 3 2 5 10 3 22 8 6 3 4 3 9 3 20 6 8 3 9 3 1 3 7 3 3 3 1 3 14 3 7 4 5 5 20 3 17 3 47 3 26 3 60 3 90 3 6 6 25 3 8 4 3999"/>
<path d="M0 330h1080" stroke-dasharray="0 79 3 173 3 53 3 26 3 37 3 50 3 7 3 48 6 13 3 11 3 7 3 2 3 11 3 35 6 10 3 19 3 12 3 10 3 225 3 8 3 29 3 63 3 4 3 3999"/>
<path d="M0 331h1080" stroke-dasharray="0 121 3 74 3 50 3 11 6 11 3 13 3 54 3 53 3 21 3 13 3 2 3 8 3 1 4 5 6 6 6 13 6 5 8 1 3 4 3 1 3 3 4 3 3 3 3 1 3 1 5 4 9 2 3 9 6 8 3 53 3 2 5 20 3 31 3 18 3 23 3 53 3 44 4 74 7 3 3 20 3 3999"/>
<path d="M0 332h1080" stroke-dasharray="0 45 3 48 3 59 3 33 3 104 3 13 3 7 3 67 3 73 3 5 3 2 3 8 3 2 3 2 3 8 5 6 8 10 3 5 3 1 3 34 3 12 3 2 3 6 3 4 5 53 3 37 3 18 3 5 3 6 3 13 3 9 3 14 3 36 3 54 3 22 3 10 4 3999"/>
<path d="M0 333h1080" stroke-dasharray="0 205 3 28 3 46 3 46 3 33 3 16 3 4 3 29 3 42 3 12 3 7 3 11 3 6 3 4 3 22 3 2 5 7 3 5 8 7 3 3 3 43 3 58 3 19 3 14 3 5 3 6 3 69 3 16 3 13 3 27 3 3 5 3999"/>
<path d="M0 334h1080" stroke-dasharray="0 41 3 2 3 37 3 21 3 10 3 12 3 70 3 56 3 85 3 12 3 8 3 29 3 7 3 1 5 15 3 1 3 7 7 6 3 13 3 3 3 2 3 3 3 14 3 4 6 9 5 2 5 5 5 8 5 16 3 3 3 19 3 3 3 46 3 66 3 4 3 14 3 24 3 45 3 22 3 3 3 30 3 70 3 5 3 3999"/>
<path d="M0 335h1080" stroke-dasharray="0 124 3 18 4 64 3 15 3 60 3 3 3 10 3 72 3 18 3 3 3 19 3 29 3 1 3 2 3 12 3 7 3 2 3 1 3 9 6 1 3 14 3 1 3 5 3 19 3 2 3 3 5 4 3 1 3 12 3 120 3 78 3 79 3 31 3 71 3 3999"/>
<path d="M0 336h1080" stroke-dasharray="0 90 4 15 3 37 3 28 3 25 3 4 3 123 3 32 3 7 3 31 3 1 3 2 3 4 3 16 5 21 3 9 3 4 4 5 12 4 5 22 3 12 3 5 3 13 3 16 3 5 3 9 3 19 6 94 3 6 3 16 3 36 3 19 3 69 3 3999"/>
<path d="M0 337h1080" stroke-dasharray="0 165 3 25 3 10 3 4 3 11 3 91 3 34 3 4 3 7 3 43 3 56 5 25 3 18 3 6 5 2 3 4 6 7 3 33 3 12 5 32 3 3 3 54 3 27 3 25 3 2 3 34 3 3 3 26 3 1 3 7 3 34 3 23 3 55 3 8 3 14 3 3999"/>
<path d="M0 338h1080" stroke-dasharray="0 109 4 57 3 10 3 72 3 2 3 12 3 52 3 16 3 47 4 3 3 6 4 23 3 15 3 11 3 21 3 13 3 26 6 8 3 6 3 7 3 3 3 25 3 57 3 30 3 33 3 21 3 18 3 60 3 6 3 15 3 1 3 30 3 24 3 1 3 15 3 27 3 3999"/>
<path d="M0 339h1080" stroke-dasharray="0 73 6 4 3 10 3 14 3 7 3 17 5 73 3 30 3 194 3 2 6 38 3 4 4 3 3 8 3 35 3 6 3 36 3 16 3 9 3 14 3 17 3 9 3 64 3 37 3 2 3 35 6 26 3 22 3 59 3 13 3 9 3 3999"/>
<path d="M0 340h1080" stroke-dasharray="0 122 4 74 3 12 3 59 3 48 3 127 3 25 3 11 3 2 3 5 3 4 4 1 6 9 3 1 3 48 3 30 3 9 3 104 3 42 3 11 3 37 3 48 3 103 3 2 3 3999"/>
<path d="M0 341h1080" stroke-dasharray="0 56 3 94 3 59 3 132 3 5 3 16 3 25 3 70 3 10 3 10 3 9 3 7 6 10 3 8 3 31 3 24 3 19 3 66 4 22 3 91 3 5 3 35 3 80 3 13 3 3 4 29 3 3999"/>
<path d="M0 342h1080" stroke-dasharray="0 47 3 7 3 154 3 84 3 88 3 17 3 32 3 13 3 8 3 13 3 22 3 7 7 2 3 1 3 10 3 10 4 20 4 8 5 53 3 23 3 56 3 7 3 22 3 57 3 67 3 65 3 3999"/>
<path d="M0 343h1080" stroke-dasharray="0 125 3 29 3 7 3 120 3 27 3 68 4 7 3 122 3 3 3 1 6 5 6 15 5 13 3 12 3 113 3 41 3 10 3 17 3 32 3 22 3 98 3 3999"/>
<path d="M0 344h1080" stroke-dasharray="0 58 3 54 4 24 3 4 3 85 3 6 3 65 3 43 3 36 3 10 3 14 3 17 3 8 4 10 5 7 3 2 5 32 10 6 3 3 3 2 6 11 3 20 3 5 3 18 3 42 3 23 3 54 3 1 3 59 3 11 3 2 3 1 3 52 3 51 3 41 3 3999"/>
<path d="M0 345h1080" stroke-dasharray="0 65 4 2 3 5 3 6 3 3 3 22 3 27 6 25 4 3 3 36 3 4 3 5 4 21 3 21 5 10 3 17 6 20 3 19 3 19 3 6 3 6 3 3 3 3 3 18 3 11 10 2 3 3 4 5 15 6 8 1 7 3 18 1 3 2 3 6 11 7 8 13 5 6 3 1 9 19 3 18 3 8 3 11 3 3 3 10 7 3 5 52 8 9 3 5 3 13 3 13 4 1 3 6 6 17 3 38 3 5 6 3 5 1 3 22 3 15 3 1 3 10 3 3999"/>
<path d="M0 346h1080" stroke-dasharray="0 63 3 1 3 28 3 7 3 20 3 49 3 47 3 144 3 22 3 65 3 8 3 14 5 20 3 4 3 28 3 31 3 1 3 4 3 20 3 8 3 5 6 1 3 5 3 12 3 30 3 31 3 26 3 80 3 1 3 127 3 3999"/>
<path d="M0 347h1080" stroke-dasharray="0 154 3 247 3 29 3 57 3 10 3 7 3 39 6 9 3 3 4 52 3 31 3 18 3 62 3 111 3 66 3 3999"/>
<path d="M0 348h1080" stroke-dasharray="0 104 6 20 3 136 3 34 3 57 3 54 3 12 3 62 3 24 3 49 3 6 7 85 3 63 3 124 3 3999"/>
<path d="M0 349h1080" stroke-dasharray="0 48 3 66 6 16 3 6 3 9 6 17 3 1 3 5 3 35 3 16 3 9 3 72 3 20 3 4 3 33 3 25 3 1 3 8 3 8 4 3 3 1 3 15 3 1 11 1 6 3 6 11 3 6 3 3 5 2 16 1 3 4 3 1 10 1 3 1 3 8 3 4 5 2 3 7 3 6 3 6 11 1 3 6 3 1 3 3 3 2 4 12 3 25 3 8 3 17 3 10 3 2 3 3 3 8 3 4 3 3 3 8 3 22 3 31 3 32 3 4 3 12 3 36 3 2 3 12 3 3999"/>
<path d="M0 350h1080" stroke-dasharray="0 65 3 8 3 21 3 105 3 34 3 23 3 57 3 47 3 58 3 8 3 3 3 9 3 2 3 14 3 2 7 9 3 7 3 11 4 5 7 1 6 12 4 4 3 4 3 26 3 32 3 200 3 34 3 66 3 8 3 1 3 42 3 3999"/>
<path d="M0 351h1080" stroke-dasharray="0 76 3 171 3 147 3 28 3 20 3 11 5 4 3 3 3 5 3 1 3 1 3 2 3 8 3 13 3 5 3 12 3 14 3 2 6 4 6 7 3 5 5 3 3 20 3 7 4 22 3 45 5 29 3 40 3 100 3 42 3 5 3 30 3 3999"/>
<path d="M0 352h1080" stroke-dasharray="0 54 3 50 3 6 3 77 3 13 3 52 3 6 3 36 3 77 3 4 3 16 3 15 3 26 3 2 3 2 6 3 13 9 3 3 3 3 3 12 5 19 6 15 3 29 3 5 3 312 3 76 6 3999"/>
<path d="M0 353h1080" stroke-dasharray="0 43 3 47 3 66 3 27 3 2 3 111 3 58 3 24 6 5 3 4 3 19 3 8 3 2 3 20 3 6 3 8 8 2 4 2 3 7 9 1 3 3 3 5 3 3 5 1 3 6 3 27 3 12 3 28 3 7 3 24 3 36 3 18 3 29 3 8 3 30 3 84 5 51 3 11 3 3999"/>
<path d="M0 354h1080" stroke-dasharray="0 54 3 2 3 33 3 18 5 38 3 6 3 65 3 41 3 12 3 88 7 61 3 5 3 10 3 11 3 34 3 12 3 15 3 4 3 32 3 76 3 32 3 7 3 30 3 8 4 40 6 13 3 1 3 1 3 70 3 2 3 22 3 25 3 19 3 3999"/>
<path d="M0 355h1080" stroke-dasharray="0 42 3 13 3 11 3 91 3 2 3 58 3 42 3 76 3 9 3 9 4 5 3 16 3 4 3 3 3 28 3 22 3 4 3 7 3 6 3 2 3 3 11 4 5 3 3 5 3 14 3 1 3 9 5 13 6 3 5 1 6 2 4 27 3 15 3 8 3 14 5 10 3 44 3 3 3 26 3 86 3 37 6 13 3 6 3 16 3 21 3 2 3 3999"/>
<path d="M0 356h1080" stroke-dasharray="0 100 3 32 3 4 3 56 3 118 3 21 3 15 3 110 3 4 3 1 3 11 9 6 4 10 3 7 4 4 4 12 3 1 5 7 3 5 3 26 3 1 3 137 3 50 3 17 3 68 3 5 3 22 3 42 3 3999"/>
<path d="M0 357h1080" stroke-dasharray="0 137 3 8 3 101 3 12 3 150 3 21 8 10 3 45 3 6 4 7 4 5 6 30 3 45 3 33 3 8 3 9 3 16 3 9 3 62 3 35 3 42 4 6 3 7 5 35 3 43 3 1 3 3999"/>
<path d="M0 358h1080" stroke-dasharray="0 62 3 5 3 3 5 5 3 15 3 10 3 26 3 2 3 1 3 11 3 36 3 4 3 6 3 11 3 9 3 15 3 5 3 40 3 12 3 12 8 7 6 23 3 11 3 12 5 10 4 16 3 2 3 1 3 2 3 11 3 6 9 1 13 1 3 1 10 3 12 2 4 3 4 2 14 7 8 2 3 4 3 4 5 6 5 27 3 2 6 38 6 11 3 1 6 2 3 2 3 2 3 6 3 20 3 16 3 8 3 3 3 9 3 5 3 6 3 26 3 58 3 10 3 7 3 2 3 2 3 8 3 10 4 2 4 25 4 1 3 3999"/>
<path d="M0 359h1080" stroke-dasharray="0 103 3 40 3 152 3 121 3 62 3 10 3 103 3 203 3 30 3 19 3 29 3 87 3 3999"/>
<path d="M0 360h1080" stroke-dasharray="0 149 3 1 3 13 3 85 3 122 3 11 3 35 3 30 3 62 3 12 3 311 3 109 3 3999"/>
<path d="M0 361h1080" stroke-dasharray="0 42 3 46 3 16 3 37 3 112 3 16 3 1 3 82 3 12 3 52 3 36 3 23 3 1 3 4 3 11 3 5 6 20 3 6 3 6 5 5 3 49 3 16 3 10 3 5 6 70 3 11 3 82 4 54 3 40 3 12 3 3999"/>
<path d="M0 362h1080" stroke-dasharray="0 43 3 14 3 16 3 10 4 26 3 37 3 23 3 14 3 129 3 59 3 35 3 4 6 1 4 2 4 10 3 8 3 2 3 7 3 10 3 19 3 2 6 6 3 12 4 6 3 2 3 8 3 3 3 2 3 1 3 6 3 1 3 16 3 16 3 7 3 19 6 127 3 39 3 53 3 16 3 68 3 3999"/>
<path d="M0 363h1080" stroke-dasharray="0 119 3 3 3 52 3 219 3 39 3 9 4 13 3 4 6 7 4 1 3 1 7 2 5 9 5 8 3 8 3 3 3 1 3 11 3 4 3 8 3 7 3 15 3 11 6 18 3 60 3 31 3 58 3 114 3 26 3 3999"/>
<path d="M0 364h1080" stroke-dasharray="0 124 3 15 3 32 3 3 3 9 3 59 3 83 3 17 3 54 3 3 4 2 3 26 6 1 3 9 3 23 5 4 10 2 4 6 11 2 3 2 10 1 9 19 3 14 3 9 3 8 3 7 3 8 3 12 3 18 6 10 3 13 3 8 3 16 3 5 3 15 4 45 3 4 3 27 3 50 3 3 3 32 3 43 3 11 5 1 3 3999"/>
<path d="M0 365h1080" stroke-dasharray="0 58 5 54 3 46 3 43 3 15 3 6 3 13 3 7 3 14 3 73 3 14 3 10 3 43 3 19 5 25 3 7 3 2 7 9 3 6 3 1 3 1 4 20 3 12 3 4 3 6 3 50 3 2 3 8 3 68 3 72 3 192 3 4 3 3999"/>
<path d="M0 366h1080" stroke-dasharray="0 45 3 12 3 32 3 6 3 25 3 19 3 19 3 1 3 200 3 32 3 37 3 16 3 13 3 35 3 1 3 1 5 21 3 7 3 2 3 2 3 24 7 3 3 12 3 10 3 30 3 17 4 35 3 34 3 8 3 25 3 21 3 124 5 25 3 15 3 3999"/>
<path d="M0 367h1080" stroke-dasharray="0 60 3 33 3 38 3 4 3 34 5 23 3 4 3 18 3 8 3 9 3 25 3 35 3 8 3 92 3 9 3 29 3 2 4 18 4 3 3 3 5 8 5 9 3 5 4 1 3 11 3 17 3 16 3 15 3 7 3 1 3 108 6 51 3 111 3 23 3 3999"/>
<path d="M0 368h1080" stroke-dasharray="0 52 4 13 3 15 6 45 3 45 3 15 3 95 3 56 6 69 3 4 3 9 3 3 3 9 3 1 3 5 3 1 3 5 3 4 3 8 4 5 13 2 3 1 3 1 4 2 5 1 4 3 3 17 3 6 3 40 3 11 3 47 3 12 3 12 3 5 3 83 3 18 3 7 3 12 3 27 3 57 3 55 3 3 3 3999"/>
<path d="M0 369h1080" stroke-dasharray="0 73 3 57 5 3 3 4 3 3 3 1 3 3 5 61 3 1 5 79 3 48 3 29 3 2 5 4 3 1 3 7 3 3 3 31 3 1 3 21 14 11 3 2 9 1 6 7 3 1 8 1 3 1 3 7 3 14 3 14 5 10 3 2 3 32 3 4 3 55 3 24 3 78 3 13 3 15 3 55 3 10 3 15 4 18 3 3999"/>
<path d="M0 370h1080" stroke-dasharray="0 64 3 4 3 28 3 4 7 104 3 14 3 11 3 16 3 13 4 71 3 9 3 13 3 7 3 28 3 15 4 6 3 4 6 14 5 2 3 18 3 5 3 2 3 4 3 6 3 2 3 4 3 1 3 3 3 7 3 11 4 7 4 1 4 11 3 3 5 12 3 17 5 29 3 30 3 1 3 78 3 15 3 36 3 39 3 34 3 12 3 11 8 9 3 14 3 3999"/>
<path d="M0 371h1080" stroke-dasharray="0 50 3 24 3 3 3 52 3 55 3 2 3 3 3 3 3 1 3 80 3 21 3 48 3 10 3 4 3 8 3 17 5 32 3 11 3 2 3 30 3 7 3 1 6 5 3 9 3 4 4 2 5 3 3 3 3 3 3 7 3 10 5 12 3 7 6 1 3 7 3 10 3 18 6 26 3 4 3 4 3 7 3 13 3 7 6 21 3 84 3 3 3 10 6 9 3 5 3 6 3 5 3 3 4 25 4 10 3 19 3 8 3 3999"/>
<path d="M0 372h1080" stroke-dasharray="0 66 3 21 3 209 3 9 3 28 3 105 3 28 3 3 3 30 3 19 3 15 5 13 3 2 3 18 3 15 3 3 3 63 3 104 3 134 3 11 3 3999"/>
<path d="M0 373h1080" stroke-dasharray="0 44 3 17 3 1 3 1 3 12 3 1 3 3 3 52 6 26 5 14 6 5 4 11 3 6 5 15 3 12 3 1 4 4 3 1 3 1 3 11 3 10 3 3 3 5 3 12 3 3 3 7 5 29 3 1 3 6 3 1 3 2 3 3 6 5 4 1 3 2 4 1 3 2 3 9 4 3 3 4 4 2 6 2 6 5 3 3 11 2 12 1 5 1 5 2 12 2 14 5 5 4 3 5 3 4 3 8 3 59 3 19 3 2 3 10 4 4 3 1 3 10 3 13 3 44 3 8 4 2 3 2 3 3 3 8 3 4 3 8 3 1 4 4 3 15 3 17 3 1 6 9 3 3 3 2 6 45 3 5 3 3999"/>
<path d="M0 374h1080" stroke-dasharray="0 80 3 27 3 41 3 166 3 145 6 42 3 4 3 1 3 11 3 26 3 11 3 24 3 139 3 41 3 186 3 4 3 3999"/>
<path d="M0 375h1080" stroke-dasharray="0 71 3 52 3 167 3 17 3 18 3 3 3 73 3 11 3 42 3 35 3 20 3 228 3 68 3 76 3 102 3 3999"/>
<path d="M0 376h1080" stroke-dasharray="0 53 3 110 3 30 3 13 3 6 3 29 3 26 3 13 3 37 3 48 3 7 3 23 3 12 3 5 3 10 3 14 4 7 3 7 10 8 3 3 4 1 3 14 3 23 3 12 3 9 3 1 6 20 3 15 3 21 3 8 3 13 3 12 3 1 3 73 3 36 3 17 3 2 3 10 3 13 3 85 3 2 3 5 3 18 3 3999"/>
<path d="M0 377h1080" stroke-dasharray="0 55 3 3 3 4 3 10 3 25 3 24 3 8 3 6 3 12 3 17 5 30 3 32 4 17 3 41 3 4 3 49 3 27 3 29 3 9 8 8 3 6 3 8 6 2 7 1 3 3 3 10 3 22 3 8 3 8 4 21 3 9 3 36 3 23 3 56 3 12 3 46 3 32 3 30 3 36 3 70 3 9 3 3999"/>
<path d="M0 378h1080" stroke-dasharray="0 55 3 15 3 90 3 11 3 35 3 3 3 4 8 29 3 48 3 22 6 37 3 31 3 3 3 1 3 12 3 29 9 2 6 15 4 4 3 7 3 6 3 5 3 29 3 5 3 1 3 7 3 6 6 11 3 3 3 15 3 7 3 37 3 2 3 31 3 4 3 43 3 12 3 27 3 24 3 19 3 2 3 14 3 30 3 42 3 22 4 3999"/>
<path d="M0 379h1080" stroke-dasharray="0 52 3 3 4 65 3 4 3 39 3 43 3 18 3 28 3 53 3 24 6 7 3 28 3 6 4 43 8 22 3 9 3 10 5 4 9 3 3 11 3 11 3 10 3 13 3 23 6 10 5 26 3 16 3 25 3 64 3 32 3 13 3 48 3 67 5 28 3 3999"/>
<path d="M0 380h1080" stroke-dasharray="0 40 3 22 3 6 3 19 3 39 3 59 3 8 3 34 3 2 3 5 3 5 3 26 3 1 3 15 3 6 3 1 3 40 3 16 3 7 4 3 3 3 3 4 6 11 3 14 3 5 3 3 3 17 3 7 3 12 3 1 5 8 3 8 10 1 4 7 7 4 3 2 3 4 5 3 4 27 3 26 3 4 3 51 3 3 3 4 3 1 3 15 3 8 3 8 3 50 5 40 3 51 3 28 3 11 3 19 3 10 3 11 3 3999"/>
<path d="M0 381h1080" stroke-dasharray="0 55 3 26 3 10 3 64 3 82 3 1 3 11 3 9 3 15 3 56 3 68 3 15 6 8 3 4 3 2 5 16 3 9 3 7 3 1 3 3 6 9 4 16 3 4 5 18 3 13 3 7 3 6 6 4 3 14 3 1 3 27 3 19 3 12 3 2 3 48 3 7 3 4 3 59 3 20 6 6 3 86 3 15 3 7 3 5 3 3999"/>
<path d="M0 382h1080" stroke-dasharray="0 48 3 29 3 14 3 72 3 4 3 6 3 35 3 66 3 5 3 56 3 16 3 11 3 7 3 61 3 2 3 2 3 11 3 4 3 11 5 4 3 2 3 2 3 2 3 4 5 5 3 6 3 19 3 22 3 3 5 9 3 11 3 19 3 17 3 3 3 33 3 3 3 11 3 1 3 39 3 30 3 43 3 92 3 25 3 18 3 2 3 3999"/>
<path d="M0 383h1080" stroke-dasharray="0 87 3 119 3 63 3 25 3 6 3 10 5 2 3 7 3 36 3 12 3 63 3 1 3 36 3 36 6 11 4 10 3 53 3 29 3 39 3 30 3 100 3 37 3 14 3 10 3 3999"/>
<path d="M0 384h1080" stroke-dasharray="0 47 3 20 3 6 3 77 3 50 3 10 3 66 3 47 3 29 3 12 3 66 6 14 3 10 3 7 3 7 5 26 6 9 3 8 5 9 3 2 3 1 3 2 3 13 3 4 3 29 3 24 3 57 3 103 3 3999"/>
<path d="M0 385h1080" stroke-dasharray="0 70 3 181 3 18 3 4 3 65 3 79 3 3 6 27 3 2 3 1 3 3 3 6 3 13 3 17 3 5 3 8 3 53 8 35 3 24 3 86 3 15 3 29 3 34 3 30 3 90 3 2 3 23 3 7 3 3999"/>
<path d="M0 386h1080" stroke-dasharray="0 42 3 24 3 20 3 24 5 13 3 27 4 8 3 2 3 19 3 8 3 34 3 4 3 4 3 13 3 24 5 14 5 3 3 22 3 38 3 2 3 4 3 6 6 4 3 1 3 4 4 7 3 5 5 6 3 3 8 1 3 2 3 18 4 1 6 5 7 4 9 17 5 1 5 6 3 3 3 25 3 12 4 27 3 19 3 12 3 4 3 14 3 28 3 68 3 48 3 4 3 13 3 6 3 11 6 1 3 4 3 4 5 10 3 3 3 3 3 24 5 1 7 10 3 3999"/>
<path d="M0 387h1080" stroke-dasharray="0 56 3 44 3 9 3 1 5 27 6 1 3 7 3 4 3 24 3 7 3 3 3 5 3 5 5 20 3 8 5 12 3 1 3 11 3 7 3 7 3 6 3 1 3 29 3 24 3 2 3 13 3 7 3 11 3 7 3 4 5 10 3 5 3 1 3 15 3 12 4 9 9 2 4 1 3 7 3 5 3 7 3 2 6 1 3 17 3 9 3 19 5 3 3 5 3 3 3 1 3 47 4 3 3 4 4 31 3 1 3 12 3 18 3 5 3 7 3 4 4 16 3 33 3 34 3 13 3 8 4 7 3 39 3 13 3 3999"/>
<path d="M0 388h1080" stroke-dasharray="0 62 3 42 3 16 3 11 3 57 3 27 3 5 3 18 3 5 3 2 3 46 3 42 4 4 6 44 3 72 3 11 3 18 3 1 5 5 3 14 3 3 3 8 3 18 3 41 3 145 3 39 3 12 3 8 3 81 3 56 3 3999"/>
<path d="M0 389h1080" stroke-dasharray="0 58 3 44 3 21 3 16 3 15 3 63 3 2 3 11 3 4 3 22 3 16 3 31 3 23 3 26 3 28 3 4 5 13 3 2 5 15 3 29 3 1 3 7 3 2 6 9 4 11 3 1 3 14 3 34 3 1 5 10 3 8 3 4 3 61 3 7 5 50 3 165 3 16 3 24 3 3999"/>
<path d="M0 390h1080" stroke-dasharray="0 54 3 87 3 1 3 23 3 32 3 16 3 121 8 44 3 8 3 23 4 3 3 19 3 7 3 1 3 2 3 23 3 3 3 11 3 1 3 16 3 3 3 3 3 12 3 28 4 20 3 2 3 7 3 7 3 18 3 7 3 52 3 48 3 8 3 75 3 59 3 39 3 5 3 8 3 4 4 3999"/>
<path d="M0 391h1080" stroke-dasharray="0 121 3 20 6 32 3 33 4 11 3 2 3 22 3 42 6 26 3 21 4 15 3 20 3 14 3 2 4 3 3 3 3 1 3 11 7 6 3 2 3 3 3 5 3 6 6 6 3 5 4 3 6 5 6 20 3 9 3 13 3 20 3 1 4 11 3 6 3 20 3 4 3 4 3 126 3 8 3 1 6 22 5 3 3 23 4 38 3 3 3 18 3 4 3 1 3 2 3 34 3 4 4 3999"/>
<path d="M0 392h1080" stroke-dasharray="0 61 3 71 3 33 3 5 3 21 3 42 4 28 3 7 3 1 3 14 3 34 4 6 3 5 3 1 4 14 6 33 6 9 3 6 4 34 3 4 3 3 3 17 3 9 3 1 10 28 3 14 3 91 3 13 3 25 5 23 3 10 3 28 3 5 3 3 3 10 3 95 3 15 3 53 3 18 3 3999"/>
<path d="M0 393h1080" stroke-dasharray="0 44 3 63 3 2 3 6 3 9 3 12 3 51 3 4 3 1 3 32 3 53 3 1 4 13 3 28 3 13 3 28 3 16 3 5 3 25 3 18 3 6 3 4 4 20 3 4 3 1 3 1 3 2 7 4 3 11 3 2 3 2 3 12 3 36 3 47 3 11 3 14 3 26 3 18 6 22 3 1 3 3999"/>
<path d="M0 394h1080" stroke-dasharray="0 52 3 36 3 10 3 3 3 74 3 11 3 34 3 37 3 63 3 28 3 45 3 45 7 7 3 5 3 1 3 5 3 25 5 3 3 7 3 6 3 2 3 8 3 12 3 9 3 21 3 19 4 37 3 44 3 61 3 21 3 37 3 9 3 29 3 16 3 8 3 33 3 15 3 10 3 10 3 3999"/>
<path d="M0 395h1080" stroke-dasharray="0 49 3 2 6 32 3 8 6 66 3 141 3 48 3 23 3 42 3 15 3 4 3 16 3 19 6 6 4 4 3 4 3 6 4 3 3 32 3 25 3 23 3 2 3 11 3 2 3 38 3 99 3 11 3 21 3 13 4 2 3 14 3 3 3 23 3 3 3 50 3 35 3 3999"/>
<path d="M0 396h1080" stroke-dasharray="0 46 7 33 3 5 4 31 3 24 7 16 3 37 3 35 3 40 3 58 3 3 3 12 3 5 3 4 4 3 3 25 3 15 3 7 3 10 3 4 3 1 3 2 3 1 5 8 3 8 7 1 6 6 3 2 5 3 5 6 3 8 3 5 3 3 3 17 3 1 3 11 6 3 3 2 3 39 3 2 3 7 3 17 3 1 3 14 3 4 3 21 3 4 3 12 3 24 3 7 3 5 3 3 3 18 3 7 3 2 3 13 3 5 3 6 3 12 3 2 3 39 3 2 5 9 3 7 4 2 3 9 4 3999"/>
<path d="M0 397h1080" stroke-dasharray="0 41 3 26 3 3 3 2 3 63 6 48 3 17 3 5 9 1 3 16 3 2 3 5 3 15 3 28 3 7 4 3 3 7 4 19 3 16 3 20 3 22 3 3 4 18 6 2 3 3 3 4 6 5 3 2 3 10 4 4 7 5 6 3 3 2 6 4 3 2 3 6 3 3 3 5 3 1 3 4 3 11 3 3 3 5 3 2 3 14 3 2 3 9 3 9 3 18 6 12 3 10 3 55 3 1 3 5 3 1 5 14 9 11 3 5 3 13 6 4 3 7 3 11 3 17 3 9 4 14 3 36 3 3999"/>
<path d="M0 398h1080" stroke-dasharray="0 54 3 7 3 155 3 70 6 66 3 13 3 37 4 19 3 25 3 14 3 44 8 9 5 25 3 4 4 20 3 5 4 30 3 33 3 35 6 34 3 23 3 57 7 20 6 3999"/>
<path d="M0 399h1080" stroke-dasharray="0 83 4 36 3 4 3 1 3 42 3 68 5 49 3 58 3 54 3 2 3 8 3 13 4 3 3 33 6 8 3 2 3 5 8 4 3 1 4 3 14 4 3 21 3 3 5 11 5 18 3 84 3 19 3 2 3 60 3 3 3 27 3 77 6 27 3 3999"/>
<path d="M0 400h1080" stroke-dasharray="0 42 3 49 4 43 3 35 5 8 3 45 4 6 3 5 3 34 3 15 3 13 3 1 3 6 3 4 3 8 3 24 3 23 3 20 3 5 3 15 3 7 3 7 3 8 7 1 5 5 6 7 4 2 6 3 3 1 5 2 3 3 3 10 3 20 3 11 3 12 3 1 3 2 5 8 3 19 3 13 3 10 3 22 3 7 3 8 3 23 3 35 3 15 3 37 3 5 3 84 3 12 3 41 3 3999"/>
<path d="M0 401h1080" stroke-dasharray="0 61 3 45 3 5 3 6 3 23 3 21 3 51 5 3 3 26 3 15 3 8 3 5 3 11 3 2 3 2 3 8 3 40 3 30 3 12 4 10 3 13 3 4 3 23 6 3 3 8 5 6 4 5 3 2 3 3 3 2 3 6 3 6 3 2 3 17 3 7 3 17 4 42 8 7 3 7 3 8 3 30 3 2 3 18 3 20 3 5 3 4 3 8 3 55 3 2 3 40 3 72 3 25 3 3999"/>
<path d="M0 402h1080" stroke-dasharray="0 64 3 9 3 26 6 1 6 17 3 8 3 1 3 17 3 27 6 13 3 47 3 3 3 5 3 27 3 40 3 16 3 48 3 3 3 9 5 10 3 8 3 12 3 3 3 2 8 3 3 11 3 3 3 2 5 13 3 8 3 2 3 8 3 17 4 50 3 14 6 3 3 28 4 61 6 12 4 15 3 8 3 11 3 23 3 3 3 52 3 14 3 23 3 20 3 34 3 3999"/>
<path d="M0 403h1080" stroke-dasharray="0 42 6 9 3 18 3 10 3 7 3 20 3 26 3 11 3 12 3 2 3 6 3 10 3 39 3 5 4 11 3 25 3 3 3 13 3 59 9 6 3 32 4 8 6 19 3 1 4 1 3 4 3 2 3 5 8 5 7 5 7 3 4 6 3 1 3 8 3 6 3 8 7 3 3 1 3 14 3 5 3 34 3 2 3 6 3 7 3 17 3 12 3 30 4 7 3 10 3 21 3 10 3 16 4 5 3 1 4 2 3 45 3 9 3 23 3 25 3 4 3 30 3 3999"/>
<path d="M0 404h1080" stroke-dasharray="0 57 3 11 3 3 3 39 3 39 4 26 3 10 3 7 3 75 3 9 3 7 3 18 3 17 4 36 3 12 3 11 3 1 4 2 5 10 4 15 3 20 3 1 3 3 8 1 8 13 3 3 3 4 3 19 4 4 3 13 3 1 5 9 4 9 5 24 3 20 5 17 3 7 5 3 3 7 3 32 3 20 3 34 6 6 3 10 3 102 3 7 3 43 3 7 3 3999"/>
<path d="M0 405h1080" stroke-dasharray="0 41 3 37 3 22 3 39 3 2 3 57 3 47 3 50 3 25 3 68 3 11 3 5 4 1 3 19 3 15 3 4 3 5 3 11 3 4 4 3 3 14 4 1 3 8 3 1 6 5 6 4 3 6 3 15 3 9 4 11 3 3 3 4 3 17 3 4 4 11 3 21 3 94 3 18 3 11 3 13 3 8 4 10 3 44 6 3 3 10 3 23 3 16 6 3999"/>
<path d="M0 406h1080" stroke-dasharray="0 52 4 17 3 6 3 3 3 30 3 6 3 22 3 34 6 52 3 14 4 6 3 28 3 54 3 3 3 27 3 2 6 28 3 3 3 11 4 5 3 23 3 4 4 18 10 3 9 24 9 10 3 9 6 12 3 6 3 49 3 13 3 24 3 27 3 33 3 15 3 44 8 18 4 31 5 2 3 4 3 24 3 6 3 15 3 27 3 4 6 3999"/>
<path d="M0 407h1080" stroke-dasharray="0 53 3 10 3 7 3 45 3 37 3 12 5 39 3 10 3 4 3 34 3 12 3 37 3 16 3 28 7 12 3 6 6 8 3 8 3 22 3 3 7 11 4 23 3 10 6 4 4 8 3 3 3 4 3 35 3 2 3 3 3 22 3 18 3 8 3 9 3 39 3 2 3 11 3 16 3 8 3 30 3 101 7 26 3 14 3 5 3 10 4 3 3 9 4 22 3 3999"/>
<path d="M0 408h1080" stroke-dasharray="0 140 3 57 3 31 3 14 3 10 3 7 3 41 3 10 3 41 3 8 3 27 3 6 3 5 3 5 3 27 3 37 3 3 4 2 11 1 3 5 3 5 3 7 6 50 4 8 3 4 3 3 5 1 3 2 3 42 3 32 3 52 3 76 3 6 3 25 3 5 6 2 3 39 3 4 3 3999"/>
<path d="M0 409h1080" stroke-dasharray="0 52 6 14 3 6 16 9 3 3 3 8 5 7 5 22 6 1 9 3 3 4 3 1 5 4 4 36 3 11 4 7 3 12 3 9 3 29 3 1 3 2 3 20 7 40 10 1 3 5 4 13 5 5 7 3 3 5 6 2 11 1 11 6 4 1 5 1 8 1 6 4 3 5 6 1 4 6 3 2 5 5 20 2 5 1 13 17 3 9 3 8 3 11 15 11 3 14 3 4 5 10 3 5 3 1 4 6 3 41 3 44 8 10 3 21 6 4 3 30 3 5 7 5 6 2 3 4 3 2 3 7 5 14 6 2 4 3999"/>
<path d="M0 410h1080" stroke-dasharray="0 40 3 58 3 23 3 8 3 15 3 19 3 32 3 75 3 16 3 45 3 29 3 50 3 8 3 16 4 3 3 8 3 4 3 5 3 3 4 17 3 2 3 1 3 26 3 4 3 11 3 20 3 30 3 13 3 20 3 4 3 1 3 4 3 17 3 47 3 5 8 30 3 4 3 15 3 65 3 9 3 1 3 55 3 3999"/>
<path d="M0 411h1080" stroke-dasharray="0 47 3 32 4 1 3 28 3 27 3 78 3 10 3 33 3 86 4 26 3 14 3 28 6 1 3 30 3 3 3 1 3 9 3 3 3 1 3 3 7 6 3 4 4 4 3 9 5 8 3 9 3 48 6 17 3 7 3 14 3 14 5 47 3 7 3 1 3 25 3 4 3 51 3 7 4 2 3 13 3 17 3 2 3 27 3 5 3 43 3 3999"/>
<path d="M0 412h1080" stroke-dasharray="0 41 3 7 3 10 3 2 9 22 3 13 3 29 3 50 3 51 3 6 3 2 3 32 3 17 3 2 3 15 3 49 3 3 3 25 3 20 3 7 3 10 3 6 3 18 3 2 3 6 3 8 5 9 3 1 3 13 3 85 3 32 3 57 3 8 3 4 3 67 6 19 3 116 3 3999"/>
<path d="M0 413h1080" stroke-dasharray="0 51 3 119 3 3 3 46 3 9 3 25 3 119 3 16 3 14 3 26 3 38 3 6 3 1 3 5 5 18 3 7 3 45 3 10 3 8 3 40 6 43 3 40 3 50 3 9 3 29 3 119 3 18 3 3999"/>
<path d="M0 414h1080" stroke-dasharray="0 163 3 79 3 159 3 29 6 29 6 9 3 11 5 1 5 4 3 4 3 19 3 1 3 1 3 34 3 8 3 20 3 31 3 9 3 5 3 48 3 17 3 59 3 19 3 50 3 22 3 8 3 8 3 17 3 29 3 3999"/>
<path d="M0 415h1080" stroke-dasharray="0 67 3 8 5 6 3 5 6 19 3 11 3 4 7 8 4 9 3 1 3 5 3 6 3 2 3 14 5 4 3 16 3 1 3 8 3 11 5 17 5 2 3 11 6 20 3 10 3 1 3 31 4 13 3 4 4 23 3 2 3 2 3 3 4 2 3 1 4 6 5 2 6 2 6 4 4 2 3 2 3 1 11 6 11 2 6 2 7 1 6 1 3 5 7 1 6 2 12 6 4 1 9 7 4 4 3 6 3 6 3 4 5 21 3 13 3 5 6 3 4 22 3 7 3 4 5 14 5 24 3 5 6 4 3 1 3 2 3 1 3 22 3 2 5 11 3 3 7 14 4 9 3 3 3 7 3 17 3 2 6 5 3 14 3 3 4 3999"/>
<path d="M0 416h1080" stroke-dasharray="0 75 3 3 3 48 3 18 3 25 3 11 3 2 3 11 5 35 3 44 3 14 3 20 3 1 3 12 3 1 3 22 3 10 9 3 6 18 3 22 3 1 3 8 3 1 3 2 4 1 5 2 3 13 3 6 3 7 3 9 3 4 7 1 3 1 3 22 3 11 3 5 3 35 6 22 7 23 3 22 3 13 3 7 3 22 3 1 3 11 3 7 3 1 5 3 3 15 3 44 3 11 3 2 3 2 3 37 3 18 3 16 3 8 3 5 3 3999"/>
<path d="M0 417h1080" stroke-dasharray="0 43 3 8 3 16 4 10 3 5 3 20 3 2 3 11 3 1 3 11 3 2 6 5 3 5 3 17 3 5 4 16 3 8 3 11 4 22 5 4 3 9 3 12 5 24 6 29 3 13 3 1 3 5 3 13 3 30 6 8 3 1 3 6 5 7 4 10 3 2 6 7 5 9 8 10 3 1 3 15 3 4 6 7 3 13 6 25 3 17 3 25 3 5 3 2 3 14 3 21 3 28 6 3 3 11 3 36 3 5 9 4 3 1 3 1 3 14 3 14 3 6 3 30 3 10 4 14 3 4 3 32 3 3999"/>
<path d="M0 418h1080" stroke-dasharray="0 45 3 13 5 5 3 5 3 16 3 6 4 82 3 17 3 8 3 92 3 12 3 17 3 15 3 6 3 9 3 3 3 1 4 9 3 28 3 19 8 1 3 1 3 1 3 10 3 18 7 1 3 5 3 10 3 6 3 6 11 48 3 4 3 7 3 80 3 27 3 25 3 13 5 88 9 8 3 11 3 5 3 6 3 3 3 11 3 1 3 5 3 9 3 7 3 3999"/>
<path d="M0 419h1080" stroke-dasharray="0 49 3 3 3 30 3 57 3 1 3 1 3 3 3 34 3 134 3 20 5 19 3 44 3 4 3 20 3 23 3 3 5 2 3 3 3 10 3 1 3 9 5 18 3 8 3 16 4 34 3 3 3 16 3 48 3 6 3 8 3 32 3 13 3 46 3 39 3 58 5 3 3 2 3 27 3 3999"/>
<path d="M0 420h1080" stroke-dasharray="0 42 3 26 3 16 3 42 3 67 3 18 3 78 3 77 3 9 3 12 3 18 3 21 3 3 3 24 3 32 3 41 3 31 6 11 3 57 3 5 3 14 3 28 3 51 3 125 3 48 3 24 3 21 3 3999"/>
<path d="M0 421h1080" stroke-dasharray="0 44 13 16 3 2 5 17 3 8 3 3 3 1 6 12 3 4 3 2 3 4 3 12 3 21 3 15 3 34 3 5 3 36 3 12 3 23 3 17 3 6 3 5 3 3 5 3 3 16 3 9 3 13 3 1 3 6 4 5 6 2 5 1 8 2 4 8 3 1 6 6 7 1 9 6 4 1 7 1 5 1 7 3 7 4 3 6 9 1 6 1 9 5 10 3 3 2 6 2 3 6 3 2 3 12 3 9 3 5 3 4 3 8 3 2 3 2 3 7 3 2 3 7 3 19 3 2 3 5 3 6 4 11 4 1 4 3 4 29 3 3 5 1 3 9 3 2 3 6 3 2 3 4 3 16 3 2 9 31 3 27 3 4 3 11 3 3 3 3999"/>
<path d="M0 422h1080" stroke-dasharray="0 61 3 16 3 27 4 25 3 6 3 8 4 3 3 36 6 17 3 6 4 52 3 2 3 10 3 58 3 2 3 4 3 37 3 11 7 3 3 10 3 5 3 4 3 7 3 10 8 1 3 1 3 1 3 1 3 10 3 1 4 8 10 5 3 2 4 8 3 5 3 1 6 2 3 15 3 39 3 30 3 11 3 21 3 13 6 6 3 7 3 51 3 9 3 1 3 3 3 41 3 19 3 1 3 14 3 6 3 59 5 9 3 3999"/>
<path d="M0 423h1080" stroke-dasharray="0 62 3 7 3 42 3 24 3 3 3 5 3 1 5 4 3 13 3 2 4 30 3 10 3 5 4 9 3 16 3 2 3 1 4 2 3 10 3 4 3 4 3 40 3 11 6 12 3 4 6 13 3 6 3 24 3 2 3 5 3 3 5 9 4 4 5 6 5 7 5 2 3 5 6 6 3 13 4 6 3 2 8 16 9 3 3 9 8 3 3 2 3 3 4 4 6 3 5 23 3 5 4 10 3 30 4 29 3 10 8 1 3 25 3 27 3 12 3 3 4 34 3 4 3 7 5 24 7 10 6 3999"/>
<path d="M0 424h1080" stroke-dasharray="0 67 3 5 3 45 3 7 3 18 5 8 3 10 3 6 3 30 3 24 3 5 3 124 3 29 3 11 3 5 3 4 3 2 3 26 3 9 3 4 3 4 3 8 3 3 3 6 3 4 6 1 3 1 6 2 3 7 6 2 6 19 4 22 4 3 3 3 4 20 3 4 3 21 3 5 3 8 3 2 3 16 3 22 3 4 3 8 5 28 6 13 5 36 3 25 3 3 3 17 3 27 3 1 3 20 3 36 3 3999"/>
<path d="M0 425h1080" stroke-dasharray="0 49 3 1 3 4 3 19 3 12 3 25 3 20 3 3 3 18 3 13 4 42 3 4 8 4 3 31 3 6 3 26 3 1 3 51 3 2 3 19 3 3 3 2 3 3 3 27 3 3 3 2 7 10 3 13 4 18 7 2 3 1 3 7 3 2 3 4 3 11 5 11 3 13 3 12 5 8 3 4 5 1 4 1 3 23 3 16 3 22 4 22 6 19 3 15 3 16 3 5 3 12 3 21 8 31 3 11 3 3 5 36 3 2 4 12 3 30 3 3 3 3999"/>
<path d="M0 426h1080" stroke-dasharray="0 57 3 7 5 7 3 1 3 28 3 35 5 22 3 1 3 30 3 2 3 30 3 5 3 3 3 2 10 31 3 7 3 18 3 23 3 30 3 41 7 6 3 6 3 12 3 3 6 1 3 7 3 4 9 3 3 3 6 4 3 1 3 4 3 4 4 2 3 2 9 2 3 4 5 10 3 10 4 8 3 23 3 4 3 28 3 17 3 3 3 18 3 14 3 21 3 28 3 17 3 8 3 10 3 11 5 4 3 14 3 61 3 1 3 5 5 22 3 1 9 1 3 3999"/>
<path d="M0 427h1080" stroke-dasharray="0 75 5 6 3 9 3 6 3 21 3 20 6 19 3 1 4 31 8 16 3 3 3 21 3 21 4 2 3 8 3 16 3 3 3 31 6 17 5 8 3 11 3 1 3 18 5 15 3 14 3 3 3 8 3 3 3 8 3 4 9 2 5 7 3 14 3 9 3 7 8 25 3 2 3 21 3 2 3 4 3 6 3 20 3 43 3 6 3 28 7 1 3 30 3 11 3 21 3 15 3 4 3 9 3 28 5 18 3 2 3 6 3 20 3 25 3 3999"/>
<path d="M0 428h1080" stroke-dasharray="0 51 3 76 3 2 3 5 4 11 4 8 3 55 3 36 3 24 3 19 9 3 3 13 3 28 3 7 6 24 3 6 3 19 3 3 6 10 3 6 3 1 3 2 14 2 5 14 3 4 5 3 9 3 4 12 3 2 9 6 3 2 4 1 3 5 3 2 3 10 3 17 3 3 3 42 3 9 3 14 3 10 3 29 3 18 3 32 3 8 3 4 3 30 3 60 3 11 5 8 3 21 3 24 3 2 3 3999"/>
<path d="M0 429h1080" stroke-dasharray="0 51 5 11 3 25 3 64 3 23 3 9 3 24 3 52 5 88 3 33 3 20 3 1 3 3 3 6 3 9 3 10 6 7 3 3 8 4 3 3 3 8 3 25 3 16 4 1 3 3 3 4 3 10 5 69 3 25 3 24 3 22 3 2 3 16 3 173 3 36 3 12 3 3999"/>
<path d="M0 430h1080" stroke-dasharray="0 46 3 1 3 96 3 4 3 30 3 17 3 29 3 34 3 5 3 59 3 13 3 18 3 23 3 28 3 10 3 1 3 3 3 1 3 6 3 19 4 22 5 4 6 6 3 1 6 27 3 12 6 40 3 2 6 5 3 2 3 33 3 1 3 15 3 4 3 50 3 20 3 17 3 33 3 4 3 2 3 2 4 2 3 4 3 5 3 59 3 13 3 3999"/>
<path d="M0 431h1080" stroke-dasharray="0 60 3 14 3 24 3 14 3 11 3 6 3 2 5 23 3 5 3 14 3 29 3 53 3 55 3 21 3 20 3 13 3 3 3 5 3 3 3 62 3 14 3 16 3 3 4 1 3 23 3 18 3 14 3 3 3 22 3 29 3 14 3 4 3 49 3 29 3 5 3 36 3 47 3 6 6 8 3 71 3 14 3 25 3 2 3 3999"/>
<path d="M0 432h1080" stroke-dasharray="0 41 7 3 4 1 5 8 7 7 3 6 8 2 3 6 7 3 3 3 15 3 8 2 3 2 3 2 16 1 7 11 8 1 3 5 3 9 3 1 3 11 3 4 3 1 4 4 3 1 3 9 7 3 3 2 4 5 3 1 9 3 3 7 4 3 5 5 7 4 3 1 3 1 3 12 5 4 3 2 3 9 3 6 3 3 9 3 3 2 5 1 3 2 3 2 8 1 9 3 6 1 6 1 10 2 5 1 18 3 20 1 22 2 20 2 3 5 18 5 5 3 9 4 13 2 6 2 4 1 5 1 5 3 3 8 5 2 5 3 11 8 5 7 6 3 15 4 3 7 13 4 3 1 4 10 3 4 4 12 3 3 3 2 3 2 6 7 3 3 4 4 3 10 3 3 3 3 16 4 3 1 8 2 3 1 11 7 13 4 4 5 14 1 4 1 5 3 3 3999"/>
<path d="M0 433h1080" stroke-dasharray="0 56 3 72 3 1 3 32 3 5 3 57 3 24 3 6 3 22 3 11 3 10 3 46 3 28 3 1 3 24 3 5 6 5 3 1 3 12 3 17 6 11 3 2 3 13 3 6 3 2 3 7 3 11 3 30 3 1 3 3 3 6 3 57 3 20 7 25 6 17 3 51 3 1 3 9 3 5 3 14 3 15 3 1 10 3 3 19 3 3999"/>
<path d="M0 434h1080" stroke-dasharray="0 43 3 31 3 24 3 39 3 23 4 34 3 103 3 21 3 47 3 8 3 12 5 9 3 14 3 9 3 9 6 26 3 4 3 12 6 19 3 1 3 2 7 12 3 7 6 14 3 3 3 24 3 11 3 45 3 16 3 15 5 36 3 30 6 9 3 61 3 2 3 20 3 35 3 20 3 8 3 8 3 17 3 3999"/>
<path d="M0 435h1080" stroke-dasharray="0 46 3 45 3 20 3 10 3 19 3 2 3 4 3 35 3 19 3 84 3 7 3 35 3 1 3 22 3 13 3 2 3 5 3 15 3 14 3 20 3 2 3 26 3 2 3 1 3 27 3 1 4 6 6 14 3 3 3 3 4 15 3 10 3 8 3 30 3 25 3 3 3 11 3 33 3 49 6 39 6 22 5 12 3 10 3 8 3 38 4 16 3 3999"/>
<path d="M0 436h1080" stroke-dasharray="0 99 3 26 3 88 4 21 3 21 3 4 6 20 7 6 3 13 3 14 6 3 3 17 3 6 3 5 6 7 3 16 3 14 3 2 6 1 6 24 3 7 3 25 3 10 6 2 3 15 5 8 7 5 3 28 3 1 3 4 3 8 6 1 3 34 3 3 3 2 3 17 3 29 3 8 3 13 3 7 3 2 3 27 3 1 3 17 3 9 3 24 3 28 3 9 3 41 3 15 3 5 3 3999"/>
<path d="M0 437h1080" stroke-dasharray="0 48 5 16 3 26 3 7 3 11 3 2 3 37 6 8 3 1 3 3 3 1 3 4 3 17 3 20 3 9 3 9 3 11 3 21 3 11 3 4 3 11 3 18 3 8 6 3 5 5 3 15 6 17 5 7 3 13 3 4 3 7 3 2 3 7 3 5 6 2 4 2 3 3 3 9 7 5 7 14 3 5 3 19 3 8 3 23 3 45 3 8 3 4 5 17 3 119 3 3 3 14 3 27 4 8 8 14 3 7 3 25 3 33 3 7 3 3999"/>
<path d="M0 438h1080" stroke-dasharray="0 51 3 15 3 32 3 13 3 21 3 4 4 114 3 10 3 44 3 9 6 1 3 39 3 2 3 12 3 7 6 28 3 1 3 2 3 7 3 4 3 9 3 3 3 5 5 4 3 5 3 2 3 8 5 18 6 7 3 5 3 3 8 4 3 7 3 17 3 3 9 8 7 18 3 1 3 25 3 23 3 20 3 35 3 9 3 5 3 22 3 14 3 72 3 50 3 16 3 2 3 3 3 3999"/>
<path d="M0 439h1080" stroke-dasharray="0 47 3 5 3 12 8 6 3 18 3 56 6 19 3 32 3 49 3 6 3 14 3 8 3 37 3 3 3 10 3 26 3 24 3 1 3 18 12 9 3 5 3 1 6 1 6 9 3 6 3 2 3 14 4 9 4 2 3 8 3 5 3 1 11 1 3 7 8 3 3 9 5 6 3 5 4 7 3 3 6 1 3 2 6 58 3 36 3 58 3 30 3 5 4 13 3 35 3 6 4 5 5 38 3 9 3 3999"/>
<path d="M0 440h1080" stroke-dasharray="0 40 3 39 3 4 3 44 3 3 3 14 3 3 3 7 5 48 3 12 3 17 3 6 3 2 3 86 3 3 3 6 3 13 3 3 3 8 3 7 3 2 3 3 3 2 3 8 3 21 4 3 3 8 8 3 3 3 6 2 14 5 3 3 3 17 3 1 4 9 3 11 3 7 3 3 3 18 3 1 3 9 3 31 3 2 3 4 3 5 3 5 3 7 3 7 3 20 3 8 3 4 3 12 3 18 3 6 3 36 3 2 3 5 3 18 3 24 3 39 3 24 6 11 4 13 5 3999"/>
<path d="M0 441h1080" stroke-dasharray="0 60 3 2 3 31 3 2 3 2 3 100 3 4 3 26 3 6 3 5 3 2 6 24 3 21 3 70 3 15 6 8 3 1 5 2 5 14 3 15 3 7 3 1 3 5 3 1 3 1 3 2 3 1 8 2 5 1 3 12 3 6 7 26 3 27 3 27 5 9 3 3 3 32 3 9 4 42 3 26 13 40 3 27 6 1 3 25 3 4 3 58 4 5 3 3999"/>
<path d="M0 442h1080" stroke-dasharray="0 45 3 4 3 21 3 7 4 1 3 17 3 1 4 8 4 9 4 46 3 2 3 2 3 1 3 11 5 9 3 2 9 4 3 3 3 3 8 4 3 12 3 17 3 14 5 10 3 29 3 13 5 6 3 4 10 13 3 7 10 2 5 5 6 2 7 4 13 3 9 1 3 3 8 2 3 2 12 4 3 4 5 1 6 4 5 2 9 8 3 4 3 2 3 2 3 2 4 5 7 5 3 7 3 4 5 12 5 3 3 3 3 7 3 1 3 10 3 5 3 6 4 4 3 10 3 1 3 8 3 4 10 4 3 4 3 3 3 4 5 8 6 9 3 9 6 12 4 8 5 3 3 5 3 4 3 2 3 3 5 15 3 9 4 5 8 5 3 11 3 4 4 5 3 17 3 1 3 7 3 3999"/>
<path d="M0 443h1080" stroke-dasharray="0 52 3 42 6 13 3 33 3 5 3 17 3 1 3 10 3 34 3 23 3 34 3 25 3 23 3 10 5 10 3 3 6 18 3 15 4 3 3 9 5 1 3 24 3 7 3 7 5 9 3 3 3 1 3 3 11 6 3 8 3 8 3 2 3 16 11 3 6 2 3 3 6 5 3 14 3 14 3 40 3 14 5 4 3 31 3 67 3 12 3 27 3 25 3 8 3 71 3 22 3 3999"/>
<path d="M0 444h1080" stroke-dasharray="0 43 6 23 3 13 6 9 6 10 3 6 3 7 3 44 3 16 3 23 4 42 3 10 3 42 3 21 3 76 3 49 3 4 12 2 6 9 3 5 3 3 3 4 3 1 5 13 3 4 3 8 3 8 3 10 5 4 3 55 3 28 6 53 3 7 3 4 3 16 5 14 3 14 3 14 3 16 3 13 3 14 3 10 3 8 6 18 3 14 3 47 3 3999"/>
<path d="M0 445h1080" stroke-dasharray="0 46 4 2 5 5 3 2 6 11 5 2 3 4 3 1 3 3 3 3 3 6 10 7 3 3 4 1 9 13 4 6 3 6 3 21 3 22 3 15 3 22 6 4 4 16 5 1 3 5 8 2 3 4 4 18 8 11 8 4 6 2 3 7 6 8 3 2 3 6 3 1 5 4 3 1 3 12 6 5 3 7 6 5 3 1 11 5 4 2 20 4 20 1 8 4 3 3 13 2 3 9 11 3 3 2 3 3 8 22 10 3 3 4 3 2 3 7 6 9 3 2 3 10 3 1 6 7 3 7 3 4 3 3 3 2 7 1 3 13 4 1 3 1 3 3 3 9 3 3 3 1 3 2 6 2 3 4 3 5 3 3 3 1 6 20 5 5 3 3 5 8 3 6 3 3 6 2 3 2 5 4 3 1 5 7 3 3999"/>
<path d="M0 446h1080" stroke-dasharray="0 92 3 44 3 25 3 30 6 33 3 22 3 15 3 117 3 7 3 46 3 2 4 9 3 4 4 20 3 15 3 10 3 6 4 5 3 3 3 20 6 11 3 23 3 3 3 27 3 26 3 36 3 17 3 2 3 28 5 3 3 6 3 4 6 70 3 26 3 10 3 10 3 15 5 36 3 17 3 3999"/>
<path d="M0 447h1080" stroke-dasharray="0 41 3 13 3 6 3 14 3 11 3 6 3 18 3 12 3 6 3 8 4 41 3 9 6 14 3 13 3 76 3 7 3 30 3 28 5 9 3 25 6 22 3 7 8 10 7 8 4 3 3 5 6 1 6 1 6 9 3 11 3 2 3 9 3 13 3 9 3 14 5 21 4 1 3 8 5 45 3 29 3 2 3 12 3 11 3 37 3 75 3 1 3 39 3 46 4 3999"/>
<path d="M0 448h1080" stroke-dasharray="0 45 3 24 3 28 4 24 6 3 3 14 3 61 3 48 3 44 3 29 3 20 3 6 3 59 3 2 3 1 3 2 3 11 6 2 6 8 12 11 5 19 7 2 5 4 4 10 3 5 3 11 3 8 3 25 6 17 4 3 3 30 3 1 6 7 3 1 3 5 3 13 3 1 3 8 3 34 3 1 3 4 3 6 3 23 3 1 4 27 3 34 3 23 3 25 3 10 4 12 3 12 3 3999"/>
<path d="M0 449h1080" stroke-dasharray="0 42 3 3 6 7 3 42 3 29 3 9 3 7 3 19 3 3 3 10 3 13 7 13 3 37 3 41 3 54 3 35 3 4 5 15 3 3 3 15 6 3 3 18 3 1 3 2 3 5 14 1 3 1 3 3 3 6 3 2 3 7 5 12 3 1 3 1 6 3 3 1 3 6 3 88 3 56 3 35 3 5 3 53 3 25 5 11 3 114 4 3999"/>
<path d="M0 450h1080" stroke-dasharray="0 78 3 72 3 13 3 2 3 6 3 7 3 27 3 63 3 4 3 19 3 28 4 30 3 9 3 8 6 7 3 9 3 8 3 3 3 27 3 10 3 4 5 13 3 9 8 10 7 1 7 3 9 12 3 8 3 1 3 8 3 7 3 22 3 5 3 3 3 39 3 10 3 46 3 1 3 2 3 23 3 8 3 67 3 35 3 16 3 15 3 39 3 5 3 16 3 3999"/>
<path d="M0 451h1080" stroke-dasharray="0 57 3 9 3 7 3 19 3 1 4 4 3 5 7 9 3 5 3 18 3 2 3 5 3 1 3 17 7 13 6 7 7 2 3 6 4 3 3 15 3 6 5 1 5 21 3 1 6 1 3 7 6 8 3 15 3 8 3 1 3 12 5 1 3 8 4 2 10 18 3 4 4 7 3 2 3 4 3 1 15 3 3 1 6 1 8 2 3 2 15 3 5 5 3 1 4 2 3 3 6 3 8 1 11 2 3 15 3 1 5 3 3 2 3 3 3 2 10 16 3 15 5 5 3 3 6 17 4 1 3 10 3 1 3 3 3 1 3 2 4 16 7 5 4 18 8 1 6 14 3 2 4 1 3 4 3 9 3 1 3 12 3 1 6 6 4 15 3 1 3 1 3 1 3 41 4 1 3 16 3 3999"/>
<path d="M0 452h1080" stroke-dasharray="0 41 3 6 3 3 5 10 3 2 3 4 6 10 6 5 3 11 3 9 3 3 3 10 3 3 3 26 3 6 3 20 3 4 3 13 3 9 4 2 4 12 3 2 3 2 3 8 3 4 3 11 6 4 3 3 4 2 3 6 3 37 3 3 3 4 3 5 3 6 6 18 3 6 3 5 3 13 3 7 3 1 4 7 3 1 3 4 13 10 6 7 8 4 4 1 7 1 3 2 10 9 3 3 5 5 3 20 4 1 5 12 3 12 3 31 3 1 3 6 3 9 3 23 4 3 6 40 3 21 3 39 3 9 4 3 6 3 3 11 3 7 3 4 7 13 3 5 3 21 5 15 5 3999"/>
<path d="M0 453h1080" stroke-dasharray="0 107 3 1 3 19 3 8 3 15 3 9 3 9 3 1 3 22 3 33 5 23 7 24 3 13 3 30 3 12 6 17 3 39 8 13 3 7 5 10 4 1 3 1 3 19 5 1 3 3 11 5 3 4 6 11 8 30 3 3 3 30 3 2 3 1 3 11 3 10 3 50 3 3 3 17 3 1 3 6 3 44 3 3 3 51 3 4 3 11 3 12 3 15 5 8 3 6 3 31 3 14 3 9 4 2 3 3999"/>
<path d="M0 454h1080" stroke-dasharray="0 48 3 13 5 20 3 9 3 25 3 2 3 66 3 8 3 12 3 7 3 2 3 114 3 27 3 5 9 16 3 13 5 2 3 3 9 4 3 2 7 8 6 3 3 12 5 23 3 4 8 4 8 1 8 31 3 13 5 7 3 17 3 28 3 12 3 1 3 3 3 39 3 5 3 8 3 39 3 2 5 5 3 28 3 8 3 4 3 56 3 3 3 5 3 27 4 13 3 3999"/>
<path d="M0 455h1080" stroke-dasharray="0 132 3 25 3 60 6 14 3 44 3 20 3 2 3 15 3 5 3 8 3 24 3 19 3 3 3 34 3 13 4 3 3 5 4 3 3 16 5 8 4 16 3 4 5 22 3 3 3 1 6 10 3 56 3 26 3 36 3 3 3 22 3 14 3 12 3 5 3 3 3 25 3 1 3 26 3 6 3 1 3 13 3 4 3 4 3 2 3 15 3 58 3 17 3 3 3 3999"/>
<path d="M0 456h1080" stroke-dasharray="0 51 4 17 3 6 6 2 5 54 3 39 3 14 3 9 3 12 3 18 3 8 3 27 3 2 3 8 3 17 3 38 4 35 3 43 3 15 5 17 6 8 3 7 3 5 7 1 11 3 5 2 3 17 4 5 3 11 4 10 3 13 4 10 3 5 3 7 3 17 3 1 6 4 3 48 3 6 3 12 7 3 3 2 3 8 3 6 3 10 3 50 3 69 5 3999"/>
<path d="M0 457h1080" stroke-dasharray="0 42 3 7 3 8 3 38 3 110 3 14 3 14 6 62 3 7 3 32 6 27 3 3 3 17 3 13 3 6 3 4 3 9 6 4 5 2 3 21 3 1 7 3 3 5 13 5 3 2 3 3 3 7 3 1 8 2 3 13 3 15 5 10 3 16 3 4 3 6 3 14 3 19 3 8 3 3 3 21 3 3 3 2 3 14 3 33 3 19 3 18 3 13 3 3 6 1 6 17 3 57 3 8 3 23 3 6 3 3 3 3999"/>
<path d="M0 458h1080" stroke-dasharray="0 77 3 5 3 12 3 10 3 49 3 7 3 9 3 22 5 19 6 15 4 14 3 31 4 5 3 37 3 1 3 5 8 18 3 30 4 4 4 11 3 24 4 3 3 4 3 3 7 17 3 5 3 1 5 5 7 2 6 12 6 1 3 14 3 3 3 9 3 10 3 21 3 6 3 7 4 6 3 15 3 2 3 6 3 8 4 19 3 33 6 7 3 39 3 6 3 12 3 21 3 7 3 36 3 15 3 31 3 3999"/>
<path d="M0 459h1080" stroke-dasharray="0 44 5 8 3 1 3 29 3 1 3 3 3 23 3 18 3 5 3 12 3 15 3 44 3 1 3 13 3 1 3 2 3 3 3 4 3 4 3 9 6 17 5 13 3 4 3 5 3 5 3 9 3 7 4 1 3 16 7 6 3 4 3 1 3 8 3 5 6 3 7 11 3 10 5 11 5 4 3 1 5 1 6 2 3 6 3 2 12 1 6 5 6 3 3 1 4 1 5 8 3 4 4 7 3 1 7 11 5 2 3 5 3 1 3 12 3 11 5 1 3 5 3 10 6 33 3 8 3 5 6 56 3 5 4 9 3 32 3 1 4 6 3 28 3 15 4 4 5 12 3 14 3 3999"/>
<path d="M0 460h1080" stroke-dasharray="0 53 3 22 6 3 3 26 3 43 3 6 3 2 5 5 3 1 3 15 3 3 3 4 3 15 3 24 3 31 6 11 3 22 3 18 3 15 3 7 6 4 3 30 3 23 3 1 3 5 3 1 3 1 3 14 3 4 3 7 3 1 3 7 6 5 3 3 6 1 3 3 14 1 5 4 3 5 3 4 3 16 3 36 3 1 3 9 3 21 3 4 3 5 3 12 3 31 3 24 3 20 3 17 3 3 3 12 6 16 3 32 12 15 3 53 3 2 3 1 3 2 3 4 3 5 5 3999"/>
<path d="M0 461h1080" stroke-dasharray="0 58 3 18 3 48 3 7 3 4 3 1 6 29 3 1 3 28 9 11 3 5 3 11 3 41 5 1 4 2 5 17 4 23 5 8 3 3 3 6 3 10 3 2 3 10 3 12 3 17 3 5 3 1 8 13 7 10 5 2 5 2 3 1 7 1 3 6 3 1 3 16 3 1 3 8 6 5 3 4 3 5 3 9 3 23 3 6 3 7 3 6 3 19 3 2 3 14 3 35 3 9 3 22 3 1 3 2 3 6 6 21 3 15 3 1 3 2 3 2 3 6 3 32 3 16 3 17 3 7 3 6 3 5 7 1 3 3999"/>
<path d="M0 462h1080" stroke-dasharray="0 147 3 1 3 43 6 1 7 9 3 20 3 78 3 2 5 3 5 12 6 18 3 2 3 14 3 12 3 16 3 28 3 10 3 28 3 2 3 3 3 6 3 4 6 1 5 2 6 11 3 18 3 3 3 5 3 44 3 29 8 36 3 6 3 22 3 38 6 11 3 13 3 15 3 8 3 39 3 8 3 29 6 10 4 20 3 8 3 21 3 3999"/>
<path d="M0 463h1080" stroke-dasharray="0 52 3 7 3 8 3 13 3 8 3 11 3 10 3 26 3 37 3 11 3 11 3 15 3 5 3 1 3 6 4 3 3 13 3 28 3 18 4 7 3 14 3 7 3 1 3 8 3 2 3 6 3 21 11 28 3 6 5 3 5 1 4 2 3 3 7 2 3 1 3 3 3 2 3 2 3 2 3 4 10 22 3 2 3 3 3 3 4 2 3 10 4 32 3 10 7 8 3 30 3 28 3 3 3 9 3 4 3 4 20 22 3 46 3 15 4 10 3 10 3 33 3 4 3 8 3 16 3 3 6 3999"/>
<path d="M0 464h1080" stroke-dasharray="0 41 3 47 3 2 3 15 3 16 3 25 3 11 3 16 4 3 3 5 3 18 3 6 3 10 3 20 3 67 3 20 3 1 3 1 3 30 3 1 3 4 6 8 3 14 3 6 3 2 6 18 3 3 7 4 7 16 15 9 9 3 3 3 3 1 5 10 3 1 3 4 3 21 3 42 3 3 3 14 3 12 3 9 3 31 4 6 6 15 3 9 3 11 3 14 3 8 3 51 4 3 3 3 3 29 3 39 3 25 3 6 3 3999"/>
<path d="M0 465h1080" stroke-dasharray="0 43 3 10 6 31 3 2 8 7 3 9 3 30 3 7 3 6 3 3 3 34 3 14 3 12 3 22 3 8 3 43 3 2 3 20 3 10 3 7 3 10 4 6 3 13 3 4 3 6 3 18 3 15 5 6 3 19 5 2 13 2 3 3 3 9 8 8 3 7 8 17 3 10 4 8 3 9 3 9 3 1 3 1 6 6 6 1 3 20 3 10 3 7 6 7 3 6 3 17 3 38 3 5 3 5 3 15 3 10 3 22 5 28 3 22 3 21 3 7 5 12 3 3999"/>
<path d="M0 466h1080" stroke-dasharray="0 52 6 8 3 18 3 15 6 28 3 7 5 16 3 18 3 39 4 3 6 25 7 17 3 43 3 20 3 5 6 2 3 33 5 56 3 9 3 2 3 5 3 2 4 10 5 6 3 3 3 4 3 33 4 3 6 10 3 3 3 29 3 12 5 3 3 25 3 36 3 1 3 8 3 1 3 20 4 4 3 9 3 3 3 27 3 33 3 41 3 1 3 2 3 39 3 1 3 3 3 13 3 1 3 31 3 3999"/>
<path d="M0 467h1080" stroke-dasharray="0 54 3 7 3 8 4 26 3 45 3 1 3 16 3 31 3 43 3 99 3 30 3 9 3 5 3 4 6 24 3 1 6 2 3 15 3 1 3 9 11 1 3 5 6 6 3 7 3 1 6 3 3 15 3 3 6 8 3 16 3 17 3 7 3 9 3 19 3 5 3 8 3 24 3 4 3 5 6 29 4 6 3 8 3 9 3 10 3 7 3 20 3 20 3 7 3 14 3 14 3 6 3 16 3 14 3 2 3 4 3 5 3 13 3 29 3 3999"/>
<path d="M0 468h1080" stroke-dasharray="0 40 3 11 3 27 3 19 3 11 3 55 3 14 3 29 3 31 3 25 4 22 3 2 3 6 3 33 3 16 3 11 6 8 3 16 3 6 3 4 3 2 6 14 5 22 3 17 3 4 6 31 3 3 3 1 3 5 3 6 3 1 4 4 3 1 13 2 3 41 3 25 3 8 3 60 3 18 3 25 3 12 3 1 5 8 6 4 5 6 3 90 3 21 3 6 3 13 3 2 3 3999"/>
<path d="M0 469h1080" stroke-dasharray="0 78 3 40 3 21 6 8 3 16 3 9 3 3 3 31 3 4 3 9 3 20 3 2 3 12 3 14 6 11 3 8 3 2 3 42 3 5 3 30 3 1 3 32 3 6 3 8 3 5 5 5 3 6 6 13 3 3 3 2 3 6 3 4 10 1 8 12 3 6 3 20 3 7 4 12 3 2 3 27 4 3 3 7 3 18 3 36 3 72 3 36 3 6 3 14 3 34 3 1 6 41 5 25 6 3999"/>
<path d="M0 470h1080" stroke-dasharray="0 41 3 14 3 22 3 9 3 3 3 22 3 26 6 3 3 5 3 14 3 11 4 38 3 16 5 1 3 5 4 13 3 25 3 44 3 24 3 19 6 24 3 12 3 1 3 12 3 8 3 1 5 21 5 8 11 4 8 1 3 4 3 18 3 4 3 4 7 4 3 25 3 12 3 26 6 43 3 2 3 3 3 9 3 2 3 50 4 3 3 5 4 11 6 6 3 5 6 5 3 15 4 3 5 15 3 5 3 21 6 9 3 4 3 10 3 19 3 3999"/>
<path d="M0 471h1080" stroke-dasharray="0 44 3 26 3 4 3 21 3 7 3 38 3 4 3 37 3 31 3 2 3 3 3 4 3 22 3 3 3 2 3 41 3 3 3 20 3 58 3 35 3 15 3 9 14 5 3 6 6 3 6 5 7 5 3 14 3 6 4 17 3 12 3 1 6 44 3 5 3 26 3 1 3 29 3 15 4 4 4 2 3 20 3 6 3 2 3 38 3 22 3 29 3 2 3 47 6 24 3 3999"/>
<path d="M0 472h1080" stroke-dasharray="0 57 3 3 3 1 3 8 3 4 3 9 3 23 3 12 3 1 3 96 3 6 3 13 3 2 3 2 3 2 3 4 3 3 3 14 3 60 4 13 3 24 4 14 3 30 8 2 3 6 6 2 3 2 5 10 3 9 5 10 3 2 3 10 3 3 3 4 4 2 3 36 3 1 3 7 6 20 5 21 3 29 3 10 4 2 6 7 3 1 3 4 3 22 3 19 3 8 4 18 3 13 3 12 3 5 6 4 3 6 3 11 3 6 3 11 3 7 3 2 3 57 3 3999"/>
<path d="M0 473h1080" stroke-dasharray="0 42 3 21 3 6 3 6 3 168 3 27 3 6 3 10 3 72 3 47 3 67 3 2 3 11 14 6 3 3 3 16 3 46 3 29 3 20 3 11 3 6 3 8 3 29 3 25 3 40 3 5 3 21 3 62 3 30 3 39 3 13 3 3999"/>
<path d="M0 474h1080" stroke-dasharray="0 50 3 14 4 2 3 5 3 3 3 2 3 21 3 30 3 7 8 19 3 11 3 3 3 24 3 4 3 2 3 4 3 4 3 13 3 11 9 11 7 10 3 26 3 21 3 9 4 21 4 4 5 3 4 9 3 2 6 8 3 2 3 9 3 4 3 12 3 1 3 4 3 5 6 3 6 1 14 7 3 2 3 7 6 10 3 8 3 5 3 17 5 2 4 11 3 28 3 10 3 4 3 51 3 5 3 1 3 3 3 9 3 4 3 1 6 10 3 16 6 1 3 14 3 5 3 5 5 3 4 10 7 7 3 13 3 10 3 11 3 5 3 1 3 8 3 3 3 25 3 3999"/>
<path d="M0 475h1080" stroke-dasharray="0 42 3 12 3 39 3 1 4 4 3 3 3 20 5 10 3 16 3 6 3 8 3 32 5 6 3 5 3 17 3 21 3 32 3 8 3 30 6 3 3 9 3 41 3 15 3 3 7 2 4 13 3 21 4 5 8 18 3 2 3 4 3 4 5 3 4 4 5 4 3 1 4 7 3 9 3 4 3 11 3 14 3 19 3 4 3 66 3 17 3 34 3 4 3 50 3 19 3 1 3 1 3 6 3 69 3 10 3 3999"/>
<path d="M0 476h1080" stroke-dasharray="0 55 3 5 3 13 3 66 4 39 3 8 3 5 3 3 3 19 3 4 3 1 3 19 3 3 5 2 3 50 6 45 3 8 3 21 4 42 3 8 3 2 3 3 3 2 3 1 9 3 3 26 3 2 3 3 4 1 6 5 3 18 8 15 3 15 3 4 3 4 3 1 3 1 3 63 3 34 3 9 3 50 3 2 3 9 3 8 3 16 3 2 3 2 3 4 5 7 3 31 3 31 3 13 3 21 3 6 3 3999"/>
<path d="M0 477h1080" stroke-dasharray="0 56 3 11 5 3 3 1 3 10 3 3 5 9 3 43 4 18 6 6 3 1 5 10 3 31 3 19 3 61 3 38 3 1 6 7 4 12 3 12 3 10 3 9 6 12 3 12 3 5 4 10 3 15 11 3 3 2 4 8 3 1 3 5 3 2 4 3 3 2 3 1 3 3 3 12 5 9 5 9 3 4 3 29 3 6 3 1 3 6 3 12 6 19 3 20 3 2 3 7 9 10 3 2 3 5 3 3 3 14 4 3 3 30 3 4 6 10 6 17 3 26 9 18 6 7 3 21 3 7 3 6 3 3999"/>
<path d="M0 478h1080" stroke-dasharray="0 57 3 5 3 45 5 3 3 7 3 7 3 8 3 17 3 51 3 9 3 20 3 6 3 10 5 96 6 17 3 3 3 6 4 2 3 40 3 25 3 7 3 2 3 3 3 4 3 14 3 3 3 12 3 6 3 5 6 7 6 10 3 39 3 33 3 7 3 36 3 17 3 14 3 4 3 12 3 3 3 10 3 26 3 1 3 8 3 11 3 5 3 62 3 66 3 3999"/>
<path d="M0 479h1080" stroke-dasharray="0 55 3 6 3 48 3 3 3 2 3 21 3 9 3 36 3 10 3 5 3 34 3 18 3 11 3 90 3 4 6 1 3 4 3 1 3 14 3 11 3 5 3 1 4 31 3 8 3 7 3 2 3 11 3 1 4 28 3 11 3 5 3 13 3 3 3 2 3 60 4 7 3 17 3 78 5 47 3 34 3 14 3 38 3 5 3 14 3 49 3 3999"/>
<path d="M0 480h1080" stroke-dasharray="0 45 6 40 3 1 3 2 3 4 3 24 3 7 5 7 3 14 3 3 7 4 9 31 3 28 6 23 3 14 4 14 5 5 3 12 3 24 3 3 3 2 3 3 4 4 3 8 3 18 3 1 5 1 8 9 3 4 15 4 10 1 5 3 7 2 3 3 5 5 16 4 8 3 10 8 5 3 7 1 8 1 4 2 4 4 3 4 10 9 6 12 3 2 3 3 6 6 8 1 3 8 5 2 3 9 3 7 3 7 3 3 3 16 7 4 6 1 3 5 3 8 5 15 3 12 3 1 3 1 15 31 3 15 5 7 3 11 3 2 5 6 5 18 9 2 3 1 6 2 3 5 3 9 3 3999"/>
<path d="M0 481h1080" stroke-dasharray="0 63 3 35 3 11 3 46 3 2 3 44 3 11 6 6 3 42 3 17 3 21 3 27 3 2 3 22 3 22 3 3 3 4 3 8 3 10 3 1 3 14 3 30 4 1 6 17 3 5 3 10 3 11 3 17 5 5 3 1 3 31 3 13 6 1 6 5 3 13 3 4 3 34 3 5 3 24 6 4 3 8 5 9 3 10 3 14 3 4 9 3 3 2 3 1 3 9 3 4 3 4 3 23 3 22 3 6 3 5 3 49 3 3999"/>
<path d="M0 482h1080" stroke-dasharray="0 50 3 20 3 30 7 68 3 6 3 11 3 73 3 29 3 28 3 21 3 24 3 8 3 8 3 4 4 6 3 6 3 22 3 3 6 2 8 25 3 7 6 2 3 11 3 3 3 2 3 5 3 12 5 5 3 8 7 8 3 3 3 14 3 7 3 44 3 4 3 4 3 32 6 12 3 42 3 10 3 22 3 3 3 5 3 7 3 23 3 3 3 7 3 20 3 9 3 6 3 12 3 31 3 17 3 3999"/>
<path d="M0 483h1080" stroke-dasharray="0 66 3 31 4 33 3 27 3 12 3 1 3 16 3 46 3 1 3 12 3 3 3 87 6 13 3 31 5 6 3 19 3 21 3 10 5 2 10 7 3 8 5 10 3 11 4 5 3 28 3 14 3 38 3 3 6 1 3 11 3 32 3 10 3 3 5 3 3 16 3 14 3 46 3 44 8 6 3 57 3 21 3 5 3 1 3 2 3 6 3 8 3 3999"/>
<path d="M0 484h1080" stroke-dasharray="0 42 3 18 3 12 4 4 3 19 3 1 3 4 3 40 3 5 3 31 3 1 3 13 3 11 3 3 3 6 3 57 3 23 3 39 3 31 3 36 3 5 3 6 3 12 3 6 3 6 3 8 4 4 7 10 3 1 3 11 3 4 4 8 3 40 3 5 3 3 3 19 3 20 3 4 3 41 3 30 3 3 3 12 3 1 3 20 3 4 3 17 3 27 3 1 3 3 6 8 5 40 3 5 3 28 3 8 3 7 3 11 3 3999"/>
<path d="M0 485h1080" stroke-dasharray="0 54 7 37 3 21 3 4 3 13 3 4 5 19 3 10 6 24 3 93 3 13 4 1 3 1 3 12 4 9 3 5 3 2 3 6 3 13 6 3 3 1 3 16 3 3 3 20 3 3 3 16 5 16 3 1 8 3 3 1 5 2 6 14 3 2 3 2 3 28 3 5 3 3 3 27 3 8 3 5 3 17 6 1 3 7 3 6 3 5 3 3 3 13 3 26 3 60 3 22 6 1 10 15 3 5 3 43 3 23 3 33 3 6 3 1 3 3999"/>
<path d="M0 486h1080" stroke-dasharray="0 64 3 11 7 29 3 45 3 26 4 27 3 10 3 26 3 26 3 24 3 1 3 8 4 39 3 5 3 35 3 22 3 4 5 1 5 2 3 17 3 1 3 12 3 9 3 4 3 22 6 2 6 12 3 9 3 2 3 3 7 6 5 13 3 8 3 14 3 22 3 14 3 6 3 1 3 15 3 29 5 11 3 24 4 31 3 16 3 4 3 23 3 68 3 8 5 13 3 3 3 17 5 3999"/>
<path d="M0 487h1080" stroke-dasharray="0 79 3 66 3 34 3 43 3 9 3 62 3 37 3 16 3 56 3 8 3 49 3 1 3 18 3 5 3 1 4 8 3 3 3 13 4 5 7 2 6 6 3 3 3 10 3 12 3 6 3 12 3 1 3 4 3 15 3 10 5 18 3 15 3 13 3 54 6 8 8 1 3 8 3 40 3 23 6 4 6 11 6 1 3 10 3 41 3 22 4 3999"/>
<path d="M0 488h1080" stroke-dasharray="0 42 3 4 3 5 5 6 3 58 3 4 3 5 3 27 3 26 3 11 3 1 3 14 3 30 3 7 3 1 3 5 3 33 3 42 3 19 3 21 4 5 3 14 3 10 3 2 3 34 3 6 5 14 3 7 3 9 3 5 3 4 6 2 4 20 3 15 3 9 3 49 3 33 3 9 3 4 3 11 3 8 3 14 3 4 3 6 3 8 3 1 3 1 3 1 3 5 3 42 3 17 4 28 3 35 3 30 5 6 3 3999"/>
<path d="M0 489h1080" stroke-dasharray="0 43 3 3 3 10 9 2 3 6 3 16 6 7 3 4 3 7 6 7 7 12 5 1 3 9 3 5 5 18 4 5 3 12 3 2 3 15 3 1 3 5 6 1 3 6 3 5 5 1 5 1 16 40 4 11 6 4 3 1 5 17 3 32 3 2 4 5 3 1 3 2 3 5 3 3 9 3 3 1 8 2 8 5 5 6 6 9 3 1 10 1 7 3 3 2 4 5 3 6 4 3 10 7 6 3 3 5 3 2 3 1 5 2 6 1 3 1 3 14 5 9 3 1 6 3 5 4 5 1 3 4 3 5 3 3 6 1 3 2 3 4 4 10 3 2 11 3 3 6 3 2 5 1 3 7 4 1 3 11 3 3 3 4 3 15 3 12 5 1 3 3 3 4 3 1 6 1 3 2 3 11 3 12 4 13 3 2 3 19 3 6 3 2 3 1 3 3999"/>
<path d="M0 490h1080" stroke-dasharray="0 106 3 49 3 85 3 113 5 98 5 6 3 12 3 4 6 7 5 5 6 59 3 13 6 20 4 231 3 44 3 34 3 3999"/>
<path d="M0 491h1080" stroke-dasharray="0 47 3 5 3 19 3 119 5 45 3 37 3 6 3 65 3 96 5 39 3 5 3 24 5 35 3 4 3 6 3 27 3 39 3 1 3 13 3 44 3 26 3 14 3 1 6 63 3 103 3 19 3 3999"/>
<path d="M0 492h1080" stroke-dasharray="0 50 3 2 3 35 5 7 3 26 3 29 3 6 3 45 3 15 3 23 5 17 4 19 3 13 3 2 7 14 3 12 3 64 3 8 3 12 5 12 5 1 3 2 3 6 4 8 3 9 3 5 4 25 3 2 3 10 3 21 3 10 3 15 3 16 3 4 3 13 3 6 3 40 3 33 5 21 3 4 3 51 3 6 3 8 3 5 3 8 3 112 3 4 3 11 3 3999"/>
<path d="M0 493h1080" stroke-dasharray="0 54 3 6 3 24 3 60 3 41 3 18 3 19 3 20 3 46 5 2 3 19 3 14 6 29 4 12 3 9 3 9 3 6 4 14 3 15 3 1 4 15 3 8 3 3 3 7 6 3 10 9 3 13 3 7 3 5 3 6 3 39 3 162 3 36 3 7 3 49 4 41 3 55 3 3999"/>
<path d="M0 494h1080" stroke-dasharray="0 51 3 2 6 15 3 21 3 1 3 2 3 31 3 5 3 4 4 14 3 8 3 16 7 10 3 5 3 10 4 6 3 14 3 20 3 7 3 1 3 4 5 3 3 3 3 24 3 21 3 19 3 1 3 2 6 15 3 8 3 2 3 1 3 13 3 1 3 6 3 3 3 2 3 6 3 3 9 4 8 1 12 1 3 2 6 2 3 5 9 2 6 1 3 8 3 4 3 8 4 5 4 2 4 6 6 1 6 20 3 37 3 1 6 8 3 10 3 8 3 6 5 5 3 1 3 8 6 2 3 6 3 9 4 10 3 8 3 1 3 15 3 20 5 8 3 25 5 3 3 7 3 6 3 1 7 2 3 15 6 1 3 7 3 5 3 1 3 3999"/>
<path d="M0 495h1080" stroke-dasharray="0 42 3 6 3 29 3 13 3 1 3 35 3 6 3 10 3 71 3 9 5 37 3 6 3 1 6 58 5 9 3 33 3 22 3 35 4 20 3 1 5 12 3 9 3 5 3 25 3 2 5 9 3 6 3 1 3 29 3 24 3 2 3 2 3 37 3 17 3 2 3 21 3 39 3 8 3 8 3 21 6 37 5 21 3 19 3 41 3 15 3 15 3 3999"/>
<path d="M0 496h1080" stroke-dasharray="0 48 3 16 3 51 3 15 3 57 3 25 3 30 3 8 3 8 3 5 3 47 3 73 3 9 3 25 3 11 3 39 5 7 4 9 3 5 3 3 11 36 6 18 3 8 5 85 3 13 3 41 3 4 3 12 3 25 3 1 3 1 3 7 3 9 5 3 6 4 3 18 6 30 3 41 3 3999"/>
<path d="M0 497h1080" stroke-dasharray="0 49 3 20 3 1 3 42 3 5 3 15 3 27 3 38 3 32 3 14 3 6 3 14 3 10 3 17 3 17 6 11 3 11 5 2 3 16 3 9 6 1 3 21 7 2 3 4 3 3 3 14 3 2 3 6 3 4 3 7 3 3 6 1 3 13 3 8 4 26 3 8 3 6 7 10 6 42 4 25 3 37 3 6 3 23 3 27 3 11 3 31 3 14 3 7 3 20 3 7 3 20 3 7 3 36 3 8 3 3 5 3999"/>
<path d="M0 498h1080" stroke-dasharray="0 82 3 16 3 3 3 52 3 7 3 13 3 54 3 11 3 24 3 6 3 47 3 1 3 3 3 34 3 21 5 11 3 3 3 12 3 12 3 17 3 11 6 17 6 10 6 2 3 10 5 10 3 3 3 5 3 15 3 12 3 7 3 10 4 23 3 1 3 5 3 7 3 32 3 47 3 12 3 2 3 11 3 6 4 9 3 20 3 5 3 7 3 53 3 17 3 45 3 1 3 7 3 7 3 3999"/>
<path d="M0 499h1080" stroke-dasharray="0 42 3 22 3 1 3 4 3 15 5 5 3 22 3 11 3 17 3 23 3 10 5 1 4 3 4 50 3 28 4 1 6 3 3 23 3 23 6 13 4 9 3 3 3 38 3 3 3 3 3 2 3 2 3 7 3 7 3 5 3 6 3 14 3 3 3 7 3 1 6 9 3 7 5 17 7 3 3 2 3 7 3 3 3 36 6 11 3 33 3 23 3 1 3 32 3 3 3 31 3 4 3 38 4 6 4 11 3 1 3 2 8 1 3 10 3 6 6 18 3 18 3 2 3 20 3 11 3 3999"/>
<path d="M0 500h1080" stroke-dasharray="0 60 3 8 3 26 3 6 3 7 5 14 6 26 3 4 3 19 3 22 3 28 3 6 3 33 3 68 3 8 3 13 3 48 6 11 3 1 3 11 3 19 3 3 6 7 3 11 3 23 5 1 3 76 3 1 3 8 3 9 3 4 3 15 3 10 3 39 3 19 3 16 3 7 3 4 3 20 3 33 3 47 3 32 3 1 3 17 3 2 6 26 3 3999"/>
<path d="M0 501h1080" stroke-dasharray="0 41 3 7 3 5 3 3 3 11 3 16 3 5 6 7 5 19 3 8 3 6 4 11 3 20 6 19 3 2 3 30 8 6 8 13 3 23 3 21 11 9 6 9 6 9 11 8 3 16 3 20 3 17 7 2 6 2 7 2 3 1 3 2 7 12 3 3 3 3 8 1 3 1 4 10 3 3 3 4 3 6 4 19 3 24 3 1 3 9 4 17 3 5 3 17 3 19 4 9 6 14 14 26 4 37 6 15 3 1 3 6 3 24 3 12 3 43 3 14 6 2 8 1 5 14 3 3999"/>
<path d="M0 502h1080" stroke-dasharray="0 121 3 41 3 31 3 40 3 16 3 7 3 24 3 22 3 10 3 56 3 65 3 1 4 10 3 8 3 11 3 1 3 21 3 5 3 5 5 32 3 19 3 3 3 26 3 49 3 11 3 14 3 23 3 24 3 114 3 39 3 30 3 1 3 3999"/>
<path d="M0 503h1080" stroke-dasharray="0 52 3 14 3 4 3 1 3 10 3 42 3 87 3 9 3 2 3 104 3 26 3 12 3 9 3 21 3 12 5 1 3 1 3 5 3 13 3 9 3 6 5 22 5 3 3 6 3 5 3 1 8 3 5 1 3 2 3 20 3 14 3 45 3 2 3 5 3 2 3 10 3 11 3 18 3 39 3 47 3 6 3 5 5 6 3 13 3 16 3 10 3 3 3 19 3 7 3 38 3 7 3 24 4 3999"/>
<path d="M0 504h1080" stroke-dasharray="0 86 3 44 3 22 6 9 3 48 3 6 3 6 3 13 3 6 3 1 3 12 3 109 3 3 3 16 3 19 3 3 3 9 5 6 3 11 3 1 3 14 4 1 3 1 3 5 3 8 6 1 3 18 4 3 3 3 3 4 4 9 3 3 3 6 3 4 3 1 3 12 3 40 6 17 3 8 4 7 3 4 3 23 3 19 3 1 3 30 5 9 5 19 5 3 3 9 3 19 3 2 3 5 3 8 3 4 3 15 3 4 3 7 3 16 4 1 3 20 3 10 3 3999"/>
<path d="M0 505h1080" stroke-dasharray="0 55 3 7 3 2 3 2 6 2 6 37 5 28 3 8 3 9 3 1 3 18 3 3 3 82 3 3 3 7 4 8 3 9 3 1 3 28 3 3 3 20 3 4 3 4 3 59 3 2 5 15 8 2 4 7 3 9 4 1 3 20 3 4 3 5 3 5 8 4 3 8 3 5 3 3 3 32 3 6 3 4 3 2 6 8 3 1 6 24 3 5 3 14 3 1 3 4 3 11 3 4 3 10 5 23 3 28 3 16 3 2 6 52 3 18 3 7 3 17 3 3999"/>
<path d="M0 506h1080" stroke-dasharray="0 43 3 17 6 20 3 26 3 39 3 38 3 1 3 14 3 38 4 7 3 2 6 11 3 3 3 16 3 68 4 15 3 5 3 1 3 4 3 1 3 11 3 3 3 3 3 5 6 20 7 5 3 11 3 6 3 11 3 10 3 8 3 67 3 9 6 2 4 8 3 12 3 25 3 18 6 8 5 10 3 1 3 5 3 4 3 19 3 7 3 4 3 26 6 33 3 2 3 21 3 6 4 7 3 9 3 48 3 3999"/>
<path d="M0 507h1080" stroke-dasharray="0 42 3 50 3 8 3 19 3 75 3 5 3 3 3 10 3 95 3 29 3 4 3 6 3 1 3 19 3 22 3 6 4 2 3 12 3 4 4 4 3 7 4 6 7 4 3 6 3 5 6 10 6 8 3 5 3 9 3 14 4 18 3 2 5 10 3 1 3 10 3 6 3 11 3 12 6 9 6 35 3 9 3 9 3 18 6 15 3 5 5 1 3 5 3 46 3 38 5 13 3 3 3 8 3 35 3 25 3 3999"/>
<path d="M0 508h1080" stroke-dasharray="0 59 3 45 5 13 5 2 3 10 3 16 3 18 3 31 3 21 3 4 3 10 3 15 3 6 3 3 3 15 6 7 3 13 3 27 3 28 3 2 3 14 3 23 3 7 5 14 3 1 3 13 10 33 5 5 3 27 3 7 4 15 3 9 3 3 3 20 4 45 3 27 6 10 3 5 3 9 3 64 3 22 3 13 4 1 3 31 3 7 3 2 3 6 3 23 7 4 3 5 3 2 3 3999"/>
<path d="M0 509h1080" stroke-dasharray="0 60 3 1 3 25 3 14 3 18 3 43 4 55 3 11 3 7 3 3 3 5 3 5 3 11 3 3 3 8 6 14 3 12 3 15 3 15 3 9 3 11 8 2 3 44 7 17 5 2 3 1 5 6 3 2 3 6 3 9 4 5 3 1 3 18 3 8 3 5 9 9 3 16 3 15 3 31 4 2 4 6 3 24 3 2 3 23 3 11 3 19 4 8 3 1 3 6 6 3 3 2 3 2 3 22 3 4 6 36 3 12 3 4 3 1 3 4 3 7 3 3 3 3 3 2 3 9 3 15 3 2 4 3999"/>
<path d="M0 510h1080" stroke-dasharray="0 63 3 22 3 9 3 18 5 6 3 9 3 17 8 19 3 7 4 16 3 5 4 4 3 24 3 17 3 1 3 22 3 17 3 12 3 21 4 24 3 27 3 1 3 28 3 11 3 4 3 1 3 21 3 11 3 6 4 2 4 21 3 16 3 1 3 1 3 8 4 1 7 3 3 21 7 7 3 5 3 1 3 1 3 7 3 13 3 26 3 9 3 3 3 9 7 13 3 4 3 6 3 8 3 11 3 6 4 14 3 33 3 14 3 5 5 6 6 4 6 31 3 17 3 31 4 3999"/>
<path d="M0 511h1080" stroke-dasharray="0 45 3 2 5 6 6 13 3 33 3 13 3 4 4 6 3 30 3 3 3 45 3 49 3 7 3 25 5 3 3 9 3 23 3 4 3 9 4 9 5 9 3 7 3 34 3 13 3 2 3 1 3 26 6 11 3 1 3 8 3 2 3 5 3 34 4 5 3 15 3 2 4 9 3 8 4 5 4 11 3 3 3 13 3 9 3 2 3 9 3 8 3 32 4 4 3 11 3 25 3 7 3 3 4 8 3 6 3 19 3 9 3 41 3 9 3 8 3 1 3 15 3 15 3 3999"/>
<path d="M0 512h1080" stroke-dasharray="0 51 3 17 3 9 3 3 3 5 3 8 4 16 3 4 3 41 3 8 4 7 3 1 3 3 3 11 3 5 3 3 3 30 3 53 5 9 3 11 3 33 3 24 3 27 3 1 4 2 3 10 3 2 3 5 6 12 6 10 3 67 3 10 3 1 3 1 3 5 5 8 3 4 3 16 3 6 3 5 3 5 6 13 3 17 6 6 3 11 3 37 3 12 3 5 3 7 3 18 3 15 5 10 3 10 3 72 3 3999"/>
<path d="M0 513h1080" stroke-dasharray="0 66 3 2 3 47 3 22 5 69 3 1 3 13 3 30 6 17 3 3 3 1 3 33 3 1 3 13 3 4 3 6 3 35 5 6 3 15 3 4 3 15 3 8 4 6 3 3 3 11 5 7 3 10 3 9 3 5 3 3 3 3 3 6 3 1 3 5 3 14 3 2 3 6 3 8 3 27 3 14 3 2 6 26 3 5 3 29 3 31 3 2 3 22 3 15 4 36 3 11 3 1 5 7 3 1 3 10 3 8 3 8 3 11 6 4 3 3 3 29 3 3999"/>
<path d="M0 514h1080" stroke-dasharray="0 41 3 30 3 2 3 12 3 6 3 25 5 37 3 4 3 6 3 8 3 5 4 74 3 5 3 15 3 1 3 7 3 20 3 25 3 1 3 35 3 16 3 4 3 1 3 1 6 3 3 3 3 7 3 2 3 9 7 2 4 2 3 10 3 1 6 10 3 20 3 4 3 2 3 9 3 10 3 7 5 3 3 3 3 8 3 5 3 1 5 11 3 1 6 70 3 3 3 2 3 17 3 3 3 14 3 4 3 4 3 3 3 20 4 38 3 7 3 10 3 23 6 12 3 9 3 1 3 14 3 15 3 7 3 2 3 3999"/>
<path d="M0 515h1080" stroke-dasharray="0 43 3 9 3 24 3 4 3 18 3 26 3 25 3 18 3 4 3 4 3 2 3 13 3 23 3 20 6 10 3 1 3 8 3 17 3 5 3 23 3 35 3 20 3 10 3 15 3 15 3 8 3 22 3 8 3 12 3 10 4 19 4 16 3 3 3 4 8 7 3 11 3 8 3 9 5 12 3 7 3 1 4 5 6 10 3 4 5 34 3 10 4 15 3 20 3 5 3 22 5 8 3 1 5 12 3 13 3 6 3 15 3 2 3 29 3 19 3 8 3 31 3 3999"/>
<path d="M0 516h1080" stroke-dasharray="0 42 3 5 3 25 3 33 3 3 3 14 3 6 3 5 3 29 3 6 3 16 3 19 3 4 3 35 4 17 3 14 3 6 3 5 3 4 3 10 3 1 4 53 3 18 3 8 4 4 3 7 3 9 5 5 3 4 3 3 6 3 3 5 3 18 3 7 3 8 3 15 3 8 3 2 3 7 3 12 3 4 3 17 3 1 3 28 3 11 3 3 3 7 3 6 3 2 3 15 3 8 4 6 3 6 3 16 3 26 3 5 3 12 3 5 3 11 8 17 3 18 3 23 3 2 3 23 3 3999"/>
<path d="M0 517h1080" stroke-dasharray="0 65 3 1 3 4 3 14 3 14 3 5 3 30 3 9 3 10 3 22 6 1 3 3 3 22 3 4 3 13 3 18 3 17 6 5 3 2 3 39 3 18 3 38 3 2 3 8 5 17 3 3 3 2 3 11 3 11 3 17 3 12 3 20 5 5 3 5 3 2 3 10 3 1 3 37 3 3 3 35 6 2 3 1 3 17 3 33 3 2 3 2 3 12 3 3 3 10 3 14 4 15 4 30 4 11 4 12 3 1 3 21 6 19 3 7 5 48 3 3999"/>
<path d="M0 518h1080" stroke-dasharray="0 41 9 21 3 24 4 22 3 41 3 23 3 3 4 10 3 4 3 45 6 3 3 2 4 2 4 15 3 1 3 2 5 10 3 4 3 5 3 5 3 2 4 26 3 9 3 6 4 10 3 10 9 3 11 7 3 2 6 1 3 4 3 3 5 3 3 4 3 2 3 3 3 8 3 1 3 2 3 4 6 1 3 2 3 3 8 11 6 2 4 2 4 1 8 21 3 1 3 21 3 11 4 1 3 3 6 1 3 5 3 2 3 4 7 1 3 6 3 4 5 4 5 1 3 5 5 11 5 2 3 6 3 15 3 9 3 3 12 2 4 23 3 2 6 5 3 2 3 7 3 8 8 21 3 11 3 1 3 11 3 4 3 2 3 14 3 3 3 8 7 3999"/>
<path d="M0 519h1080" stroke-dasharray="0 89 3 2 3 42 3 23 3 1 3 2 3 24 3 21 3 6 3 6 3 11 3 50 3 3 3 101 3 12 3 35 3 3 3 32 3 6 3 13 3 3 3 2 3 32 3 1 4 13 3 49 3 21 3 65 3 23 3 9 3 1 6 19 3 40 3 3 3 17 3 62 3 9 3 3999"/>
<path d="M0 520h1080" stroke-dasharray="0 79 3 16 3 12 3 28 3 4 3 30 3 4 3 2 3 18 3 40 3 4 3 8 3 25 3 9 3 4 3 44 3 3 3 20 3 18 3 6 3 3 3 4 3 33 3 13 3 30 3 8 3 1 3 23 6 2 5 2 5 6 3 36 3 10 3 72 3 6 3 69 3 15 3 30 3 3 3 29 3 15 4 17 4 6 3 19 3 3 3 36 3 3999"/>
<path d="M0 521h1080" stroke-dasharray="0 53 3 18 4 40 3 19 3 6 3 13 3 15 5 16 3 71 3 2 3 3 4 25 3 21 3 3 3 14 3 28 3 12 3 34 3 5 3 32 3 3 3 9 3 4 3 4 3 4 3 6 3 4 3 3 7 19 3 1 4 32 3 16 3 3 4 39 3 27 3 18 3 3 8 6 3 2 3 5 3 8 5 55 3 16 3 1 3 42 4 1 3 13 3 28 6 17 3 1 3 11 3 3999"/>
<path d="M0 522h1080" stroke-dasharray="0 58 3 3 3 16 3 6 3 1 3 19 3 19 3 2 3 17 9 1 11 1 3 1 3 27 3 5 3 4 3 2 3 1 3 1 3 1 3 4 3 2 3 5 3 7 3 30 4 4 6 6 5 6 3 15 3 1 5 11 8 14 3 7 3 13 4 20 5 2 4 13 4 25 3 18 3 11 3 5 3 3 3 15 4 9 3 16 3 5 3 7 4 13 3 7 8 1 3 1 5 10 3 2 3 11 3 24 3 10 3 12 3 46 3 15 3 21 3 13 3 18 4 5 3 29 3 21 3 7 3 13 3 17 3 16 3 3 3 3999"/>
<path d="M0 523h1080" stroke-dasharray="0 59 5 6 3 1 3 1 3 25 3 9 3 9 4 12 3 6 4 1 3 15 3 16 5 52 6 45 3 9 3 4 3 4 3 19 3 11 3 7 3 28 3 30 3 51 5 2 3 8 3 4 4 1 4 8 5 20 5 3 6 17 4 1 3 3 4 17 3 1 3 6 6 6 3 1 3 8 3 5 3 6 3 7 3 31 3 11 3 27 5 4 3 4 3 1 3 1 3 26 3 11 3 4 3 1 3 11 3 3 3 8 3 1 3 4 5 5 3 23 3 17 3 2 3 1 3 5 3 7 3 42 3 3 3 3999"/>
<path d="M0 524h1080" stroke-dasharray="0 42 3 29 3 12 3 21 3 8 3 8 3 26 3 3 3 39 3 3 3 10 3 6 3 16 3 6 3 30 3 52 3 70 7 22 3 5 4 11 3 9 3 21 3 6 3 25 3 15 3 4 3 26 3 38 3 2 5 59 3 3 3 16 3 54 6 22 3 35 3 9 3 13 3 6 3 7 3 8 3 33 3 7 3 3 3 10 3 9 3 8 3 6 3 3999"/>
<path d="M0 525h1080" stroke-dasharray="0 59 3 2 3 6 6 11 3 32 3 3 3 16 3 16 3 51 3 19 3 8 3 15 3 44 5 5 3 14 3 15 3 25 3 3 5 35 3 13 3 10 3 25 3 2 4 2 3 11 3 9 6 16 5 3 3 16 3 2 4 11 3 7 3 2 3 41 3 2 3 27 3 3 3 1 3 15 5 11 3 7 3 52 3 26 3 43 3 28 3 1 3 22 3 11 3 24 3 14 3 4 4 9 3 3999"/>
<path d="M0 526h1080" stroke-dasharray="0 42 3 8 3 28 3 11 3 29 3 10 4 10 3 18 3 3 3 29 3 2 3 8 3 15 3 10 5 4 3 6 3 2 3 16 5 18 3 13 3 15 4 9 5 20 3 1 3 11 3 26 3 25 3 10 3 6 3 11 3 14 3 5 3 5 3 45 3 34 3 5 3 11 3 3 3 2 6 47 3 24 3 14 3 12 3 10 3 12 4 26 3 13 3 14 3 14 3 2 3 9 4 27 3 15 3 5 3 6 5 4 3 7 3 1 3 3999"/>
<path d="M0 527h1080" stroke-dasharray="0 53 3 7 3 3 3 16 3 3 3 8 6 7 3 17 3 10 6 10 4 54 3 31 3 1 3 2 5 40 3 28 3 29 3 62 3 15 3 19 3 38 3 8 3 6 5 1 3 3 4 19 3 8 5 11 3 7 3 2 3 15 3 32 3 30 3 44 6 9 3 24 3 2 3 21 3 5 3 1 3 1 3 47 3 14 3 64 3 5 3 20 5 3999"/>
<path d="M0 528h1080" stroke-dasharray="0 63 9 20 3 22 3 11 3 8 3 19 3 13 3 4 5 3 3 14 3 43 3 2 3 3 3 25 3 14 3 27 7 14 4 10 3 1 3 29 5 5 3 38 3 6 5 8 3 1 9 12 3 5 3 1 3 5 3 3 3 1 3 1 7 1 3 8 3 1 3 5 4 5 3 9 3 3 6 14 3 2 3 14 3 3 3 1 6 17 3 5 5 20 4 3 3 5 3 28 5 8 7 5 6 26 3 1 3 1 3 2 3 4 7 23 3 13 3 3 8 15 3 1 3 2 3 9 3 1 3 1 3 5 3 7 3 19 3 1 3 16 3 5 6 2 3 3999"/>
<path d="M0 529h1080" stroke-dasharray="0 63 3 13 3 13 3 2 4 29 3 8 4 5 3 20 3 5 3 28 3 2 3 6 3 20 3 5 3 10 9 12 3 40 3 1 5 1 3 27 3 1 3 5 3 9 3 6 3 13 3 2 3 3 3 6 3 3 3 7 3 12 3 10 5 5 3 17 3 12 4 6 3 26 5 1 5 3 3 13 4 6 5 5 3 1 5 10 3 7 6 12 3 3 3 8 3 6 5 16 3 6 3 3 4 2 4 2 5 6 6 6 9 2 3 1 3 17 8 5 3 29 6 4 3 3 3 4 3 14 9 3 3 3 3 8 8 25 3 4 3 12 3 4 3 2 3 16 3 5 3 3999"/>
<path d="M0 530h1080" stroke-dasharray="0 66 5 52 3 41 3 50 3 13 3 9 3 26 3 75 3 99 3 22 3 33 3 52 3 5 3 10 3 85 3 2 3 89 3 20 3 25 3 14 3 4 3 74 3 11 3 50 3 23 3 3999"/>
<path d="M0 531h1080" stroke-dasharray="0 47 6 25 3 2 3 12 3 9 3 2 3 11 3 5 3 4 3 14 3 3 3 10 3 5 3 2 3 9 4 19 3 11 3 48 3 2 3 4 3 2 3 8 3 21 3 2 3 4 3 23 3 33 3 5 6 14 3 5 3 4 3 1 4 9 3 23 5 4 7 25 3 25 3 9 5 20 3 14 3 19 4 1 3 3 4 10 3 1 3 15 6 5 3 1 3 8 3 10 3 36 3 12 9 42 7 64 3 6 3 32 3 19 3 20 5 3999"/>
<path d="M0 532h1080" stroke-dasharray="0 41 3 4 5 22 3 33 3 12 3 1 3 24 3 26 3 48 3 1 3 11 3 13 3 3 6 2 3 5 3 4 3 1 5 8 10 13 3 32 3 19 6 60 3 4 3 13 3 1 9 5 3 3 3 8 3 3 3 26 3 1 11 1 3 1 4 20 3 3 5 20 3 22 3 1 8 1 3 27 3 5 3 7 3 6 3 8 5 15 3 2 3 1 3 7 8 6 3 21 3 31 3 35 4 12 3 1 3 8 3 42 3 11 3 17 3 4 3 4 5 5 3 3999"/>
<path d="M0 533h1080" stroke-dasharray="0 63 4 6 3 6 3 2 6 9 3 9 6 36 3 104 3 18 3 10 3 4 3 6 3 6 5 1 3 18 3 7 3 6 4 2 3 10 5 20 3 10 3 19 3 26 3 9 7 6 3 6 6 17 6 16 5 6 5 32 6 24 3 27 3 1 5 2 4 1 3 1 3 5 3 2 3 37 6 12 3 8 3 2 3 10 3 19 3 22 3 13 3 2 3 2 3 14 5 41 3 3 3 26 3 2 3 21 4 6 3 7 3 15 3 3999"/>
<path d="M0 534h1080" stroke-dasharray="0 48 3 27 3 5 3 2 5 26 3 8 3 9 3 39 6 2 3 19 3 12 5 27 3 3 3 49 3 76 3 6 3 4 3 32 3 4 3 9 3 7 6 6 3 10 3 2 3 8 5 35 3 15 5 16 3 12 3 1 3 4 4 6 3 3 3 10 3 14 3 8 3 9 3 10 3 20 3 17 3 10 3 4 3 3 5 6 3 3 3 85 3 4 3 23 3 1 5 3 3 54 6 3999"/>
<path d="M0 535h1080" stroke-dasharray="0 47 3 34 3 7 3 5 3 4 3 9 3 16 3 10 3 20 3 2 3 3 3 1 3 30 3 1 3 50 3 23 3 15 3 23 3 12 3 30 5 9 3 9 3 3 3 8 3 14 3 8 3 49 3 7 3 4 3 1 12 2 3 10 3 2 3 1 3 10 11 33 3 10 3 3 3 39 3 1 3 10 3 24 5 34 3 11 3 18 3 9 3 17 3 16 3 10 3 18 3 19 3 21 6 35 4 3999"/>
<path d="M0 536h1080" stroke-dasharray="0 93 3 19 3 13 3 10 3 1 3 10 3 7 3 23 3 9 3 4 3 3 3 8 3 21 3 21 3 35 3 43 3 5 3 9 3 2 3 7 3 11 3 47 3 12 3 43 4 2 3 14 3 2 7 3 3 25 3 10 6 46 6 2 3 27 3 11 3 22 3 3 3 2 3 8 3 70 3 4 3 27 3 3 3 10 3 7 3 5 3 35 3 33 3 28 3 8 3 3999"/>
<path d="M0 537h1080" stroke-dasharray="0 59 3 31 3 3 3 7 3 6 4 1 6 7 3 8 3 7 3 6 5 21 3 11 4 15 3 19 5 37 3 4 3 12 3 69 3 20 3 4 3 15 3 11 3 3 3 4 3 13 3 10 3 5 3 8 3 3 5 4 3 1 3 22 3 23 3 3 4 4 3 10 3 4 4 5 3 8 4 4 3 3 6 24 3 2 5 30 3 18 3 6 3 7 4 17 3 19 3 13 3 8 4 2 3 29 3 1 6 5 3 4 3 4 3 21 3 26 3 25 4 15 3 5 3 6 3 3 3 3999"/>
<path d="M0 538h1080" stroke-dasharray="0 55 3 62 6 21 3 17 3 11 3 8 3 1 3 23 4 19 3 1 3 29 3 16 3 5 6 16 3 47 6 36 3 19 4 2 3 1 3 11 3 14 6 2 5 6 3 2 3 4 6 2 5 4 5 8 3 10 6 27 3 1 3 7 3 60 3 50 4 3 3 4 6 7 3 10 3 20 3 56 3 13 6 62 3 12 5 4 3 22 3 22 3 3999"/>
<path d="M0 539h1080" stroke-dasharray="0 92 3 1 3 17 3 17 3 1 3 44 3 6 3 23 3 3 3 41 4 37 3 23 3 2 3 11 3 1 3 14 6 29 6 27 4 9 3 23 3 27 3 1 8 7 3 6 3 1 3 5 3 33 3 18 3 25 3 21 3 39 3 14 3 10 3 20 3 71 3 29 3 2 4 2 3 27 3 26 3 1 3 8 3 35 3 8 3 6 3 4 7 3999"/>
<path d="M0 540h1080" stroke-dasharray="0 102 3 15 3 19 3 2 3 6 4 4 3 2 5 23 3 25 3 16 3 6 3 26 3 2 3 18 3 4 3 21 3 20 3 3 3 30 4 8 3 45 3 10 3 15 3 38 3 4 3 2 4 13 3 10 9 6 3 5 3 41 5 23 3 25 6 10 5 17 3 11 3 3 3 10 3 32 3 19 3 3 4 7 3 19 3 4 5 12 3 3 3 7 3 6 3 4 3 17 3 17 3 28 6 18 3 3999"/>
<path d="M0 541h1080" stroke-dasharray="0 72 3 29 3 1 3 11 3 42 3 12 3 14 3 19 3 22 3 14 3 26 4 11 3 1 3 24 3 10 3 27 3 25 3 6 5 14 3 1 3 9 3 28 3 11 3 2 4 7 3 18 3 17 3 35 3 3 3 5 3 11 4 2 3 14 3 58 4 14 3 1 3 17 3 8 7 42 3 11 3 14 5 22 3 7 3 6 3 6 3 13 3 7 6 16 3 13 3 32 3 22 3 3999"/>
<path d="M0 542h1080" stroke-dasharray="0 52 3 22 3 8 3 62 4 8 3 8 4 43 3 16 3 36 3 3 3 1 5 2 3 40 3 12 3 8 3 20 3 4 6 1 3 17 3 16 3 2 3 88 3 6 3 21 3 31 3 6 3 27 5 21 3 14 3 9 4 18 3 43 3 9 3 9 3 32 3 27 3 11 3 28 3 37 3 4 3 33 3 6 3 1 3 11 3 3999"/>
<path d="M0 543h1080" stroke-dasharray="0 43 3 13 3 16 3 10 3 3 3 5 3 39 5 18 3 51 3 29 3 1 3 6 3 11 4 12 5 5 3 10 3 25 3 6 3 22 3 1 3 91 3 18 3 4 3 12 5 29 3 24 3 12 4 9 3 41 3 31 3 28 3 10 3 8 3 7 3 11 7 7 3 2 3 15 3 113 3 6 3 2 3 24 3 8 3 34 3 3999"/>
<path d="M0 544h1080" stroke-dasharray="0 72 3 55 3 2 3 15 3 7 3 32 3 22 3 9 8 5 3 63 7 1 3 31 3 21 3 7 3 5 3 7 3 39 5 43 3 31 3 1 3 6 6 12 9 5 3 1 3 12 3 14 3 11 3 12 3 2 3 10 3 1 3 4 3 15 3 3 3 2 3 27 4 30 5 19 3 43 3 26 3 14 3 3 3 47 3 20 3 1 3 6 3 13 3 16 3 16 3 3999"/>
<path d="M0 545h1080" stroke-dasharray="0 77 3 4 3 18 3 25 3 46 3 31 6 39 3 5 3 25 3 12 6 11 3 62 3 20 3 4 3 56 6 11 3 12 3 10 4 2 6 51 3 1 3 6 3 55 5 8 3 18 3 8 3 8 3 17 3 1 3 26 3 5 5 14 3 43 3 17 3 84 3 10 5 4 3 7 3 4 3 7 3 4 3 7 3 3999"/>
<path d="M0 546h1080" stroke-dasharray="0 50 3 6 4 42 3 8 3 31 3 7 3 4 3 21 6 14 3 54 3 65 3 9 3 29 6 5 5 57 3 7 3 5 3 26 5 3 4 12 3 15 11 25 3 19 3 19 6 13 3 1 6 4 3 13 3 2 3 13 6 45 3 7 3 2 3 5 3 11 4 8 5 8 3 10 3 11 3 6 3 1 5 4 5 3 3 6 3 5 3 11 3 1 3 9 3 18 3 38 5 11 3 8 3 18 3 1 3 3999"/>
<path d="M0 547h1080" stroke-dasharray="0 56 3 25 5 1 3 10 5 37 3 32 3 16 3 19 4 13 5 13 3 1 3 30 3 1 5 26 3 8 3 13 3 1 3 42 3 6 3 10 3 4 3 15 3 17 3 7 4 3 3 16 3 2 3 7 6 8 5 15 3 37 3 4 3 1 3 5 3 4 3 7 6 9 3 12 3 24 3 2 3 17 6 24 3 5 3 19 3 14 3 13 3 18 3 11 5 3 3 37 3 10 3 34 3 14 3 6 3 3 3 12 3 3 3 1 5 22 3 3999"/>
<path d="M0 548h1080" stroke-dasharray="0 44 3 12 5 16 5 10 3 29 5 11 3 44 3 30 3 26 3 38 3 11 3 5 3 24 3 6 3 26 3 2 3 28 3 14 3 19 3 2 8 2 3 1 3 3 3 10 3 1 3 5 3 9 3 5 4 1 3 3 3 6 7 2 3 9 3 9 3 5 3 12 3 1 3 11 3 2 4 5 3 6 3 10 4 5 3 2 3 4 3 12 7 4 3 9 3 12 3 11 6 3 3 15 5 17 4 6 3 4 3 6 3 7 6 2 3 1 3 20 3 1 3 13 3 11 6 20 3 42 3 1 3 4 3 1 3 7 3 1 6 10 6 3999"/>
<path d="M0 549h1080" stroke-dasharray="0 45 3 3 3 2 3 1 3 8 3 31 3 46 3 7 3 6 5 28 3 32 5 11 3 3 3 15 3 12 3 14 7 12 3 4 3 5 3 50 3 59 3 3 3 2 3 9 3 37 3 4 3 1 3 1 3 12 3 7 3 2 3 5 3 14 3 12 5 18 3 57 3 3 3 10 3 15 3 56 3 4 3 26 3 31 3 4 3 20 3 22 3 21 3 30 3 22 3 16 3 3999"/>
<path d="M0 550h1080" stroke-dasharray="0 113 3 21 3 3 3 71 3 16 3 16 3 3 3 23 3 6 3 13 5 3 3 24 3 20 3 3 3 14 3 4 3 26 3 14 3 6 3 7 7 3 3 28 3 3 4 7 3 2 3 2 9 1 6 8 3 4 4 2 3 9 3 16 3 12 3 10 3 44 3 10 3 40 3 7 3 25 3 17 3 20 3 13 3 23 4 34 3 1 3 18 5 41 3 9 5 10 6 8 3 3999"/>
<path d="M0 551h1080" stroke-dasharray="0 54 3 2 3 21 3 27 3 68 4 6 3 8 5 33 3 10 3 5 5 9 3 41 3 14 6 24 3 6 3 9 3 17 3 19 3 49 3 18 3 48 3 13 3 13 4 3 4 6 3 6 3 17 4 60 3 41 3 8 4 14 3 62 3 2 3 16 3 33 3 11 3 62 3 18 4 3999"/>
<path d="M0 552h1080" stroke-dasharray="0 50 3 18 3 61 3 65 3 34 6 69 3 22 3 39 6 4 6 17 6 2 3 10 3 28 3 11 3 11 3 25 3 1 3 1 3 2 3 17 3 49 3 13 3 5 3 3 3 36 3 3 3 10 3 7 3 31 3 44 3 38 3 8 3 5 3 11 6 94 3 20 3 12 3 3999"/>
<path d="M0 553h1080" stroke-dasharray="0 40 4 22 6 1 5 5 3 15 3 15 3 7 4 2 3 13 3 90 3 4 6 48 5 9 3 8 3 4 3 4 4 4 3 5 3 6 3 31 3 17 3 8 6 33 3 27 3 1 5 1 4 6 7 1 4 7 4 4 6 8 3 3 3 30 3 5 3 13 6 8 3 1 3 29 3 8 6 3 3 1 6 7 3 1 3 4 3 1 3 16 3 7 3 15 4 8 3 10 3 20 3 1 3 17 3 7 3 3 3 44 3 7 3 6 3 13 3 5 3 20 3 32 3 3999"/>
<path d="M0 554h1080" stroke-dasharray="0 46 3 18 7 76 3 17 3 75 3 17 3 12 3 11 3 2 3 32 3 42 3 29 3 48 3 36 3 8 3 26 3 1 3 1 3 17 3 21 6 3 3 28 4 87 5 8 3 6 3 41 3 8 3 7 3 4 3 50 3 11 3 12 3 21 3 9 3 24 5 23 3 3 3 3999"/>
<path d="M0 555h1080" stroke-dasharray="0 46 6 18 3 11 5 11 3 61 3 24 3 29 3 13 3 14 3 20 3 25 3 14 3 1 3 67 5 18 3 14 3 10 3 21 5 4 3 5 3 10 9 3 3 5 3 1 3 3 3 3 3 9 3 37 3 7 3 5 3 1 3 3 3 20 3 8 3 16 3 9 3 50 3 61 3 12 3 8 7 2 3 28 3 7 3 19 3 7 3 81 3 11 10 3999"/>
<path d="M0 556h1080" stroke-dasharray="0 52 3 26 5 3 5 24 3 17 3 8 3 3 3 6 5 35 3 23 3 27 3 31 3 1 3 1 3 12 3 16 3 1 3 7 3 23 3 7 3 9 6 43 3 6 5 21 4 10 6 2 3 18 3 4 3 18 3 1 4 37 3 5 3 40 3 3 3 49 3 35 3 13 3 1 3 6 3 18 5 11 3 29 3 51 3 19 3 71 3 3999"/>
<path d="M0 557h1080" stroke-dasharray="0 44 3 6 3 10 3 11 3 16 3 1 3 20 5 41 3 41 3 13 3 25 3 35 5 12 5 23 6 24 3 30 3 12 3 6 3 61 4 25 3 18 3 14 4 31 5 26 3 2 3 6 3 12 3 67 3 11 3 91 3 25 3 9 8 3 6 25 3 3 3 15 3 1 3 18 3 34 3 13 6 3999"/>
<path d="M0 558h1080" stroke-dasharray="0 51 6 29 3 2 5 68 3 29 6 45 3 33 3 18 3 119 3 55 3 3 3 14 3 24 3 9 3 7 6 12 3 1 3 41 3 61 3 67 6 20 3 30 3 11 3 35 6 22 3 12 3 23 3 34 3 4 3 27 3 3999"/>
<path d="M0 559h1080" stroke-dasharray="0 103 3 12 3 47 3 35 3 2 3 10 3 10 3 23 3 18 5 1 3 45 3 1 3 11 3 42 3 8 3 36 3 12 3 2 3 27 3 3 3 20 3 1 3 8 3 3 3 16 3 28 3 8 3 18 3 10 3 28 3 57 5 3 3 41 3 7 3 14 3 46 3 19 3 3 3 12 3 18 3 3 3 9 3 8 3 15 3 9 3 26 3 3999"/>
<path d="M0 560h1080" stroke-dasharray="0 41 3 19 3 54 3 18 3 16 3 5 3 31 3 35 3 7 3 2 3 2 3 5 3 29 3 2 3 7 3 25 3 12 3 6 5 20 3 5 3 5 5 12 3 26 3 4 3 7 3 10 3 21 3 6 3 10 5 41 3 24 3 10 3 1 6 45 3 42 3 5 6 10 3 3 3 8 3 34 6 29 3 7 3 5 3 1 3 8 3 8 8 14 3 12 3 16 3 7 7 34 3 3999"/>
<path d="M0 561h1080" stroke-dasharray="0 82 3 25 3 4 3 26 3 9 3 16 3 12 3 20 3 13 3 6 3 10 3 8 3 29 3 16 3 21 3 12 5 53 3 5 3 44 3 2 3 41 4 1 7 6 3 1 5 7 3 5 3 28 3 5 3 1 3 7 3 3 3 9 7 24 3 10 3 1 3 12 3 2 3 21 3 15 5 8 3 15 3 7 3 3 4 6 3 1 3 29 3 15 3 46 3 37 6 10 3 55 3 7 3 3999"/>
<path d="M0 562h1080" stroke-dasharray="0 42 3 32 3 93 3 2 3 4 3 2 3 19 3 8 3 1 3 67 4 10 3 4 3 41 3 34 6 17 3 1 6 36 3 2 3 47 3 18 3 14 3 52 5 18 3 63 3 8 5 23 3 43 4 10 3 13 3 15 3 18 3 18 3 58 3 19 3 1 3 16 6 3 3 1 3 11 3 3999"/>
<path d="M0 563h1080" stroke-dasharray="0 94 4 22 3 66 3 92 6 40 3 3 5 53 3 1 3 30 3 26 3 3 3 6 3 4 3 3 3 5 3 4 3 4 9 3 3 5 3 12 3 7 3 9 3 1 6 16 3 12 3 25 3 5 3 6 3 28 3 19 6 37 3 58 3 22 7 11 3 21 3 19 4 8 8 18 3 20 3 40 3 8 3 3999"/>
<path d="M0 564h1080" stroke-dasharray="0 66 3 84 3 4 3 37 3 54 6 11 3 87 3 16 3 57 5 63 3 21 3 43 3 24 3 8 3 32 3 28 3 21 3 13 3 20 3 19 3 13 3 19 3 46 3 47 3 12 3 1 3 5 3 21 3 3 3 41 3 3999"/>
<path d="M0 565h1080" stroke-dasharray="0 51 3 22 4 13 3 139 3 4 3 36 5 9 3 7 3 56 3 51 3 13 3 22 3 27 3 6 3 12 6 1 3 18 6 40 3 11 3 12 3 2 3 2 3 14 3 1 3 9 3 45 6 25 3 21 3 33 3 21 3 20 3 92 3 58 3 3 3 3999"/>
<path d="M0 566h1080" stroke-dasharray="0 40 3 13 3 5 4 3 3 14 3 1 6 4 3 13 3 1 3 2 3 9 6 3 3 9 5 20 3 6 3 13 5 12 4 8 3 18 3 3 3 5 13 24 5 12 3 2 3 12 4 8 3 12 3 22 4 9 3 3 3 4 3 11 8 7 3 3 5 3 3 1 5 9 3 5 6 1 3 2 3 3 6 3 19 1 3 5 8 7 15 9 7 1 3 5 3 5 3 8 3 9 3 25 3 12 3 3 3 15 3 4 5 4 3 2 7 21 3 2 6 9 5 11 4 4 3 10 3 3 3 3 3 11 3 18 3 10 3 10 3 7 3 6 3 4 4 6 3 5 3 44 3 3 5 9 3 6 3 2 3 3999"/>
<path d="M0 567h1080" stroke-dasharray="0 47 3 22 3 74 3 50 3 20 3 10 3 53 3 44 3 48 3 4 3 99 3 22 3 1 5 24 3 8 3 20 3 7 3 48 3 8 3 7 3 8 3 23 3 42 3 8 3 16 3 44 3 8 3 23 3 5 3 12 3 22 3 9 3 49 3 12 3 3999"/>
<path d="M0 568h1080" stroke-dasharray="0 49 3 6 3 3 3 10 3 68 3 28 3 17 3 72 3 4 5 22 3 1 3 4 3 38 3 42 3 48 3 2 3 3 3 59 3 6 3 58 3 17 3 26 3 4 3 4 3 41 3 48 3 21 3 61 3 13 3 23 3 13 3 98 3 1 3 3 3 3999"/>
<path d="M0 569h1080" stroke-dasharray="0 42 3 24 3 13 6 26 4 40 3 21 3 32 3 7 3 3 3 2 3 27 3 32 3 10 3 8 3 17 3 6 3 32 3 36 3 2 3 8 3 9 3 9 6 2 6 1 3 7 3 5 3 12 3 2 3 11 3 5 3 16 3 2 3 2 7 9 3 23 3 4 3 6 3 31 3 12 4 17 3 46 4 12 3 14 4 2 3 11 3 1 3 4 3 14 3 2 7 12 5 1 3 5 3 21 3 34 3 25 3 25 3 1 3 3999"/>
<path d="M0 570h1080" stroke-dasharray="0 51 3 17 3 30 3 35 3 25 3 25 3 1 6 53 5 43 3 13 3 45 3 17 3 14 3 28 3 37 3 14 3 26 3 11 3 50 3 4 3 9 3 22 3 16 3 103 3 29 3 96 3 8 3 30 5 12 3 3999"/>
<path d="M0 571h1080" stroke-dasharray="0 45 3 17 3 36 3 41 3 21 3 18 3 52 3 25 3 35 3 2 5 1 3 20 3 8 3 20 3 16 6 8 3 10 3 3 4 14 6 9 6 13 3 8 9 1 3 1 3 13 3 12 3 7 5 18 4 7 3 37 3 33 3 20 3 1 6 2 3 32 3 3 8 1 4 16 3 3 3 8 3 46 3 8 3 4 4 15 3 4 3 46 3 38 3 34 3 6 3 3999"/>
<path d="M0 572h1080" stroke-dasharray="0 124 3 52 3 119 3 82 3 32 3 5 6 1 3 24 3 14 4 20 3 25 3 4 3 28 3 4 3 4 3 8 3 14 3 3 4 29 3 34 3 50 3 1 3 9 3 128 6 11 3 27 3 1 3 12 3 27 4 13 3 17 3 3999"/>
<path d="M0 573h1080" stroke-dasharray="0 59 3 73 3 2 3 5 3 19 3 4 3 12 3 21 3 13 6 33 3 3 3 74 3 33 3 4 3 78 3 2 3 25 3 2 3 21 3 6 3 11 6 6 3 1 3 3 3 57 3 18 3 2 3 40 3 19 3 12 3 9 3 7 3 57 5 17 3 61 3 69 3 3999"/>
<path d="M0 574h1080" stroke-dasharray="0 57 3 30 7 43 3 6 3 11 3 27 4 14 3 27 3 7 3 46 3 113 3 3 3 25 3 6 3 2 3 11 6 4 3 7 5 4 3 14 3 17 4 17 3 31 3 20 3 67 3 22 3 3 3 21 3 9 3 5 3 7 5 5 3 1 3 3 3 19 3 11 3 64 3 7 3 3 3 35 3 22 3 2 3 11 3 3999"/>
<path d="M0 575h1080" stroke-dasharray="0 42 3 51 3 31 3 1 3 13 7 2 3 14 3 10 3 3 3 2 3 55 3 8 5 12 4 40 3 75 3 32 3 16 3 19 3 3 6 19 5 1 3 2 3 4 3 26 6 14 3 21 5 27 3 3 3 13 3 7 3 3 3 4 3 13 3 5 3 44 3 2 3 36 3 1 3 29 3 17 3 21 6 3 3 23 3 10 3 5 3 17 3 60 3 3999"/>
<path d="M0 576h1080" stroke-dasharray="0 42 3 16 3 60 3 4 3 1 3 31 3 15 3 40 5 24 3 3 3 7 3 107 3 7 6 74 5 19 3 40 3 18 3 4 3 1 3 15 3 40 3 7 3 22 3 5 3 106 3 6 3 27 3 5 3 11 5 5 3 25 3 9 3 31 3 2 3 48 3 26 3 3999"/>
<path d="M0 577h1080" stroke-dasharray="0 53 3 12 3 69 3 14 3 15 3 7 3 8 3 46 3 6 3 3 3 7 3 11 5 7 3 14 3 16 3 39 3 52 3 6 6 25 3 24 4 22 3 6 5 1 3 17 3 16 3 88 3 15 3 28 3 25 3 1 3 3 3 50 3 83 3 37 4 4 5 74 3 3999"/>
<path d="M0 578h1080" stroke-dasharray="0 41 3 10 3 26 3 5 6 18 3 11 3 13 3 18 3 8 3 24 3 29 3 4 3 32 3 27 3 20 3 35 3 32 3 102 4 3 3 2 3 26 7 1 3 2 3 15 3 4 3 4 3 5 3 8 3 36 3 4 3 8 3 16 3 28 6 7 3 27 3 16 3 5 3 5 3 15 3 21 3 46 6 13 3 16 3 8 3 5 3 34 5 28 3 3999"/>
<path d="M0 579h1080" stroke-dasharray="0 85 3 71 3 122 3 57 3 64 3 36 3 16 7 35 3 23 3 199 3 20 3 57 3 103 3 3 3 52 3 3999"/>
<path d="M0 580h1080" stroke-dasharray="0 55 6 2 3 17 8 9 3 12 3 1 3 2 5 50 4 3 4 5 3 1 3 11 3 1 3 7 4 2 3 8 4 32 6 9 4 7 4 34 3 4 3 8 3 25 4 7 5 9 3 16 6 3 3 10 3 4 5 23 3 8 3 6 3 13 3 1 3 4 3 4 3 1 7 11 3 12 7 3 3 2 5 20 3 10 3 20 9 1 3 23 7 14 3 10 3 3 3 5 6 12 3 17 3 8 3 16 6 8 3 12 3 5 4 4 6 14 3 13 3 31 3 14 3 3 3 23 3 1 3 14 3 10 3 12 3 3999"/>
<path d="M0 581h1080" stroke-dasharray="0 69 3 88 3 119 3 1 3 49 3 39 3 117 3 162 3 107 3 28 3 20 3 18 3 43 3 57 3 7 3 53 3 3999"/>
<path d="M0 582h1080" stroke-dasharray="0 107 3 56 3 61 3 59 3 6 3 10 3 24 3 20 3 6 3 43 3 36 3 8 3 14 3 43 3 12 3 5 3 7 3 22 3 25 3 2 3 3 3 55 3 15 3 3 3 10 3 41 3 16 3 22 3 11 3 22 3 2 3 3 3 19 3 48 3 52 3 3999"/>
<path d="M0 583h1080" stroke-dasharray="0 45 3 23 3 85 3 13 3 1 3 112 3 127 3 29 3 63 3 9 3 16 6 23 3 1 3 7 3 28 3 6 3 77 3 38 3 33 3 1 3 188 3 34 3 3999"/>
<path d="M0 584h1080" stroke-dasharray="0 96 3 60 3 16 3 86 3 12 3 22 3 14 3 11 3 51 3 4 3 86 3 84 3 13 3 38 3 49 3 53 3 39 3 20 5 2 3 68 3 5 5 25 3 34 3 45 3 3999"/>
<path d="M0 585h1080" stroke-dasharray="0 89 3 3 3 16 3 2 3 9 3 12 5 24 3 52 3 2 3 3 3 2 3 5 3 31 3 30 3 35 5 1 3 16 3 19 3 10 3 12 3 5 3 11 3 14 5 1 3 2 3 4 3 2 3 1 3 13 3 9 3 10 5 11 3 7 3 1 4 8 3 1 13 15 5 6 3 3 3 10 3 4 3 15 3 10 3 18 3 11 6 2 3 20 3 16 3 21 3 2 8 15 3 6 7 21 3 29 3 2 3 15 3 2 3 5 3 20 3 1 3 2 3 14 4 40 5 3999"/>
<path d="M0 586h1080" stroke-dasharray="0 106 3 23 3 14 3 52 3 10 3 16 4 87 3 1 3 3 3 43 3 58 3 37 3 12 5 27 3 9 4 2 8 84 3 28 3 12 3 6 3 24 5 14 3 2 3 19 3 51 3 48 3 56 3 18 3 8 3 24 3 14 3 5 3 3999"/>
<path d="M0 587h1080" stroke-dasharray="0 58 3 14 3 28 3 86 3 20 3 58 3 34 3 8 3 9 3 38 3 11 4 9 3 12 3 16 3 7 3 9 3 81 3 34 6 11 3 4 3 9 3 2 3 5 7 21 3 69 3 20 4 71 3 5 3 31 3 9 3 75 3 26 3 22 3 3999"/>
<path d="M0 588h1080" stroke-dasharray="0 148 3 46 3 6 3 13 3 10 6 16 3 3 3 8 6 15 3 11 3 48 3 17 3 29 3 1 3 28 4 9 3 2 3 13 3 5 7 14 3 10 3 30 3 25 3 23 3 8 3 6 8 14 3 7 3 8 3 15 3 15 3 2 3 5 3 34 6 19 3 8 3 11 3 60 3 6 3 9 3 18 3 9 7 8 3 23 3 21 3 14 3 3999"/>
<path d="M0 589h1080" stroke-dasharray="0 75 3 109 3 29 3 6 3 11 3 34 3 12 3 10 3 2 3 10 3 7 3 38 3 88 3 23 4 34 3 5 3 16 3 58 3 11 4 15 6 73 3 68 6 4 3 84 3 7 3 13 3 70 3 3999"/>
<path d="M0 590h1080" stroke-dasharray="0 44 3 13 3 73 3 11 3 6 3 30 3 15 3 6 3 52 4 30 3 5 3 28 3 12 3 11 3 35 4 13 3 10 3 24 3 10 3 74 3 10 3 6 3 41 3 25 3 17 3 79 3 33 3 11 3 6 3 7 3 30 3 44 3 14 3 49 3 11 3 1 3 3999"/>
<path d="M0 591h1080" stroke-dasharray="0 48 3 29 3 18 3 35 3 13 3 28 3 31 3 22 3 22 3 73 3 19 3 2 3 26 3 1 3 83 3 5 3 49 3 14 3 20 3 10 3 60 3 3 3 36 3 2 5 3 3 14 3 10 3 12 3 36 3 4 3 3 3 1 3 62 3 22 3 18 3 13 3 5 3 21 3 6 3 11 3 3999"/>
<path d="M0 592h1080" stroke-dasharray="0 62 3 6 3 31 3 20 3 11 3 5 3 20 3 6 3 32 3 67 3 11 3 16 3 15 3 6 3 16 3 5 3 30 3 20 3 6 3 20 3 9 3 71 3 25 3 7 3 4 3 5 3 35 3 24 3 21 5 12 3 35 3 6 3 30 3 22 3 4 3 7 3 17 3 12 3 40 3 37 3 5 3 63 4 3999"/>
<path d="M0 593h1080" stroke-dasharray="0 75 3 13 3 2 3 33 3 36 6 96 3 38 3 44 3 35 3 8 5 4 4 44 3 4 5 14 3 19 3 8 3 43 3 13 3 11 3 15 3 23 3 63 3 34 3 8 6 6 3 44 3 22 3 19 3 14 3 10 3 25 3 12 3 13 6 23 3 12 3 5 3 3999"/>
<path d="M0 594h1080" stroke-dasharray="0 51 3 28 3 24 3 53 6 5 3 22 3 60 3 22 3 52 3 181 3 1 3 77 3 37 3 27 3 3 3 50 3 67 3 87 3 17 3 1 3 10 3 19 3 17 6 1 3 1 3 15 3 9 3 3999"/>
<path d="M0 595h1080" stroke-dasharray="0 45 3 6 3 37 3 11 3 39 3 1 5 14 3 29 3 11 3 17 3 14 3 14 3 32 3 8 3 2 3 24 4 15 3 10 3 9 3 16 7 8 4 3 3 7 3 34 6 1 3 4 3 12 3 1 3 1 4 37 3 3 3 6 3 12 3 10 3 2 3 5 3 10 3 25 3 42 3 47 3 17 3 3 6 8 3 9 3 7 3 2 3 76 3 5 3 10 3 1 3 38 3 3999"/>
<path d="M0 596h1080" stroke-dasharray="0 52 3 61 3 1 3 9 5 51 3 9 3 9 3 12 3 13 3 14 3 10 3 8 3 51 3 10 3 11 3 3 3 9 3 38 3 39 3 16 3 3 3 5 3 3 3 1 6 11 3 11 3 6 3 5 3 5 3 18 3 1 3 45 3 9 3 53 4 34 3 32 3 11 3 32 3 39 3 6 3 17 3 9 3 1 3 4 3 24 3 18 6 5 3 35 3 3999"/>
<path d="M0 597h1080" stroke-dasharray="0 41 3 9 3 25 3 15 3 104 3 78 3 117 4 65 3 39 3 27 3 13 4 34 3 11 3 6 3 37 3 31 3 36 6 13 4 10 5 57 3 52 3 1 3 3 3 48 3 8 3 23 3 33 3 3999"/>
<path d="M0 598h1080" stroke-dasharray="0 73 3 17 3 39 3 29 6 14 3 26 3 19 3 19 3 7 7 28 3 2 3 16 3 4 3 9 3 11 3 1 3 11 3 13 3 1 3 20 3 59 3 2 3 39 3 29 3 72 3 10 3 69 3 43 3 3 3 11 3 18 3 49 3 24 3 6 3 21 3 10 3 21 3 3 3 23 3 25 3 3999"/>
<path d="M0 599h1080" stroke-dasharray="0 69 3 6 3 20 3 22 3 66 3 106 3 43 3 3 3 104 3 14 3 41 3 8 5 2 4 52 3 33 3 14 3 25 3 35 3 6 3 31 3 4 3 14 5 37 3 75 3 37 3 36 3 11 3 3999"/>
<path d="M0 600h1080" stroke-dasharray="0 75 6 58 3 23 3 28 3 136 3 3 3 49 3 26 3 22 3 61 3 49 3 1 3 24 4 6 3 3 3 22 3 11 3 44 5 7 3 11 3 49 3 83 3 6 3 37 3 58 3 16 3 1 3 3999"/>
<path d="M0 601h1080" stroke-dasharray="0 54 6 14 3 23 3 2 3 22 3 6 3 26 4 43 5 3 3 4 3 2 3 13 3 19 3 14 3 30 3 24 7 26 3 17 6 10 3 14 3 13 3 3 3 9 3 22 4 28 3 1 5 9 3 30 3 6 3 6 4 16 3 30 3 2 3 34 3 9 3 45 3 21 3 7 3 27 3 10 3 27 3 6 3 12 3 5 3 7 3 33 3 14 3 53 3 7 3 3999"/>
<path d="M0 602h1080" stroke-dasharray="0 40 3 15 3 17 3 34 3 25 3 3 3 75 3 4 4 15 3 65 3 33 3 6 5 12 3 41 3 46 3 5 3 2 3 3 3 18 3 2 3 35 3 4 3 27 3 23 3 7 3 31 3 36 3 32 3 115 3 17 3 17 3 68 3 3999"/>
<path d="M0 603h1080" stroke-dasharray="0 49 3 84 3 12 3 53 3 22 3 2 3 105 3 4 3 42 3 65 3 23 3 51 3 3 3 22 4 29 3 15 3 45 3 10 3 5 3 19 3 5 3 37 3 1 4 29 3 127 3 5 3 2 3 7 3 38 3 18 3 1 3 3999"/>
<path d="M0 604h1080" stroke-dasharray="0 146 3 13 3 26 3 46 3 4 3 4 3 13 3 28 3 39 3 62 3 3 3 46 3 51 3 39 3 20 3 22 3 48 3 5 3 3 3 65 3 10 3 13 3 12 3 29 6 40 3 70 3 48 3 10 3 3999"/>
<path d="M0 605h1080" stroke-dasharray="0 123 3 15 3 46 3 68 3 25 3 71 3 40 3 24 3 7 3 5 3 32 3 37 3 88 3 63 3 20 3 56 3 9 3 8 3 31 3 61 3 5 3 10 3 62 3 3999"/>
<path d="M0 606h1080" stroke-dasharray="0 59 3 31 6 28 3 2 3 50 3 8 3 41 3 58 3 16 3 2 3 65 3 1 3 35 3 12 3 11 3 16 3 47 3 17 3 11 3 10 3 6 3 53 3 104 3 132 3 6 3 49 8 33 3 3999"/>
<path d="M0 607h1080" stroke-dasharray="0 57 3 38 3 10 3 106 3 15 3 135 3 39 3 11 4 13 4 21 3 63 3 5 3 5 3 15 3 14 6 18 3 18 3 47 3 31 3 12 3 65 3 108 3 3 5 37 3 3999"/>
<path d="M0 608h1080" stroke-dasharray="0 78 3 4 3 19 3 18 3 3 3 2 3 12 3 14 3 86 4 25 3 21 3 13 3 33 5 33 3 44 3 24 3 49 3 21 3 121 3 7 5 23 3 16 3 43 3 30 3 3 3 8 3 26 6 16 3 26 3 13 3 54 3 8 3 3 3 12 3 3999"/>
<path d="M0 609h1080" stroke-dasharray="0 138 5 68 3 36 3 46 3 3 6 31 3 168 7 4 3 16 3 1 3 21 3 125 3 123 3 27 3 76 3 3999"/>
<path d="M0 610h1080" stroke-dasharray="0 89 6 96 3 3 3 22 3 15 6 21 5 9 3 16 3 9 3 12 3 39 3 27 3 1 3 4 3 36 3 33 3 69 3 16 3 9 3 30 3 2 3 43 3 96 3 17 3 71 3 2 3 16 3 13 3 33 3 21 3 3999"/>
<path d="M0 611h1080" stroke-dasharray="0 57 3 39 3 22 3 55 3 8 3 7 3 1 3 16 3 5 3 10 3 6 3 1 3 10 3 5 3 8 3 87 3 8 3 39 3 15 3 5 5 6 3 49 7 10 3 2 3 1 3 1 3 10 3 9 3 60 3 5 3 1 3 21 3 8 3 45 3 6 3 46 3 100 3 25 3 23 5 28 3 7 3 15 3 3999"/>
<path d="M0 612h1080" stroke-dasharray="0 80 3 5 3 8 3 13 3 74 3 65 3 24 3 11 3 100 5 10 3 4 3 21 3 9 3 22 3 5 3 78 3 14 3 13 3 17 3 77 3 28 3 1 3 103 3 32 3 36 3 9 3 33 6 40 3 2 3 3999"/>
<path d="M0 613h1080" stroke-dasharray="0 95 3 14 3 107 3 61 3 11 3 1 3 30 4 25 3 26 3 29 3 4 3 14 3 3 3 52 3 70 3 26 3 32 3 6 3 64 3 16 3 31 3 8 3 56 3 62 3 3999"/>
<path d="M0 614h1080" stroke-dasharray="0 116 3 5 3 22 3 53 3 14 3 15 3 25 3 134 3 15 6 1 3 39 3 16 3 17 6 61 3 1 6 6 3 4 3 46 3 29 3 60 3 5 3 69 3 45 3 8 3 45 6 70 3 3999"/>
<path d="M0 615h1080" stroke-dasharray="0 57 3 7 3 16 3 7 3 166 3 27 3 9 3 17 3 110 3 68 3 36 7 73 3 10 3 110 3 16 3 30 3 105 3 26 3 31 3 29 3 3999"/>
<path d="M0 616h1080" stroke-dasharray="0 86 3 71 3 4 3 100 3 67 3 19 3 68 3 3 3 6 3 50 3 33 3 44 3 50 3 63 3 43 3 1 3 14 3 15 3 69 3 107 3 3999"/>
<path d="M0 617h1080" stroke-dasharray="0 49 3 85 3 17 3 2 3 2 3 7 3 5 3 28 3 77 3 8 3 174 3 45 3 9 3 74 3 88 3 47 3 240 3 3999"/>
<path d="M0 618h1080" stroke-dasharray="0 47 3 14 3 18 3 34 3 17 3 10 3 32 3 3 3 1 3 40 3 15 3 28 3 15 7 11 3 8 3 43 7 3 3 33 4 24 3 27 3 8 4 5 3 11 3 3 3 6 5 3 4 3 3 3 3 2 3 3 3 1 3 6 3 22 3 14 3 6 3 12 5 5 3 29 3 3 3 14 3 37 3 14 3 41 3 41 3 17 3 8 4 1 3 33 3 7 3 16 3 3999"/>
<path d="M0 619h1080" stroke-dasharray="0 69 3 23 3 49 3 102 3 6 3 71 3 16 3 14 3 14 3 2 3 28 3 7 3 33 3 23 3 13 3 57 3 26 3 122 3 40 3 60 3 33 3 68 3 4 3 13 3 30 3 3999"/>
<path d="M0 620h1080" stroke-dasharray="0 147 3 56 3 29 3 10 3 36 3 77 3 91 3 31 5 26 5 7 3 40 3 48 3 33 3 4 3 28 3 92 3 37 3 11 3 4 3 6 3 1 3 17 6 2 3 21 3 3 3 3999"/>
<path d="M0 621h1080" stroke-dasharray="0 59 3 18 3 21 3 3 3 50 3 9 3 22 6 14 3 32 3 1 6 48 3 55 3 35 3 25 3 13 3 42 3 8 3 26 3 33 3 52 3 8 3 23 3 49 3 253 3 8 3 27 3 3999"/>
<path d="M0 622h1080" stroke-dasharray="0 57 3 106 3 50 3 11 3 11 3 79 3 17 3 36 3 31 3 100 3 22 3 37 6 16 3 11 3 9 3 103 3 9 3 36 3 25 3 6 4 43 3 7 3 32 3 23 3 17 3 3999"/>
<path d="M0 623h1080" stroke-dasharray="0 193 3 22 3 57 3 127 3 66 3 12 3 2 3 14 3 13 3 33 3 21 3 15 3 17 3 73 3 28 3 15 3 41 3 4 3 3 3 84 3 4 3 73 3 3999"/>
<path d="M0 624h1080" stroke-dasharray="0 196 3 11 3 78 3 34 3 80 3 141 5 76 3 106 3 49 3 6 3 175 3 3999"/>
<path d="M0 625h1080" stroke-dasharray="0 123 3 13 3 2 3 30 3 98 3 64 3 146 3 22 3 25 3 11 3 7 3 2 3 36 3 8 3 24 3 122 3 64 3 44 3 61 3 24 6 3999"/>
<path d="M0 626h1080" stroke-dasharray="0 106 3 126 3 21 3 194 3 30 3 95 3 16 3 4 3 31 3 30 3 11 3 123 3 115 3 3999"/>
<path d="M0 627h1080" stroke-dasharray="0 42 6 1 3 9 3 20 4 54 3 3 3 31 3 77 3 101 3 7 3 8 3 10 3 27 3 27 3 22 3 1 3 32 3 6 3 2 3 2 7 13 3 4 4 26 3 8 3 29 3 3 3 17 3 5 3 33 3 64 3 4 3 87 4 16 3 42 3 3 3 2 3 9 3 2 3 3999"/>
<path d="M0 628h1080" stroke-dasharray="0 89 3 67 3 57 3 15 3 10 3 15 3 80 3 10 3 65 3 1 3 13 3 5 3 28 3 2 3 43 3 6 3 25 3 17 3 45 3 2 3 45 3 8 3 114 3 3 4 21 3 15 3 57 3 8 3 29 3 3999"/>
<path d="M0 629h1080" stroke-dasharray="0 71 3 19 3 18 3 56 3 26 3 90 3 113 3 6 3 12 3 5 3 19 3 24 3 27 3 97 3 41 3 54 3 37 3 45 3 26 3 75 3 49 3 15 3 3999"/>
<path d="M0 630h1080" stroke-dasharray="0 53 3 90 3 20 3 113 3 10 3 48 3 19 3 10 3 41 3 36 3 48 3 206 3 14 3 8 3 8 3 46 3 114 5 3999"/>
<path d="M0 631h1080" stroke-dasharray="0 80 3 61 3 57 3 89 3 1 3 35 3 71 3 63 3 8 3 27 3 57 3 3 3 102 3 30 3 30 3 25 3 27 3 148 3 32 3 3999"/>
<path d="M0 632h1080" stroke-dasharray="0 42 3 42 3 5 3 55 3 30 5 30 6 57 3 115 3 17 3 25 5 25 3 86 8 16 3 119 3 50 3 70 3 113 6 25 3 30 3 3999"/>
<path d="M0 633h1080" stroke-dasharray="0 189 3 220 3 12 3 82 3 32 6 43 3 128 3 89 3 65 3 3999"/>
<path d="M0 634h1080" stroke-dasharray="0 43 3 62 3 35 3 80 3 30 3 19 3 10 3 26 3 4 3 79 3 27 3 30 4 18 3 20 3 16 3 10 3 1 3 92 3 111 3 17 3 9 3 9 3 51 3 58 3 14 5 18 3 6 3 3999"/>
<path d="M0 635h1080" stroke-dasharray="0 187 3 27 3 6 3 126 3 39 3 3 3 32 3 3 3 59 3 4 3 12 4 4 3 30 8 23 3 189 3 10 3 161 3 25 3 3999"/>
<path d="M0 636h1080" stroke-dasharray="0 47 3 18 3 88 5 145 3 91 3 5 3 33 3 40 5 2 3 22 3 16 3 5 3 152 3 212 3 12 3 3999"/>
<path d="M0 637h1080" stroke-dasharray="0 115 3 51 3 200 3 22 3 54 3 37 3 33 3 25 3 24 3 2 4 47 3 75 3 34 3 2 3 53 3 175 3 3999"/>
<path d="M0 638h1080" stroke-dasharray="0 42 3 30 3 9 3 163 3 36 3 58 3 2 3 36 3 62 3 13 3 38 3 24 3 27 3 31 3 166 3 20 3 42 3 27 3 122 3 3999"/>
<path d="M0 639h1080" stroke-dasharray="0 130 3 2 3 132 3 3 3 65 3 84 3 94 3 75 3 7 3 68 3 37 3 52 3 60 3 51 3 34 3 61 3 3999"/>
<path d="M0 640h1080" stroke-dasharray="0 54 3 52 3 72 3 52 3 125 3 2 3 37 4 10 3 2 3 33 3 6 3 31 3 10 3 15 3 9 3 2 3 33 5 57 3 22 3 68 3 49 3 26 3 3 3 46 3 27 3 11 3 3999"/>
<path d="M0 641h1080" stroke-dasharray="0 107 6 5 3 100 3 110 3 41 3 81 3 68 3 3 6 13 3 5 3 6 3 18 5 123 5 32 3 27 3 13 3 17 3 3 3 102 3 3999"/>
<path d="M0 642h1080" stroke-dasharray="0 405 3 28 3 2 3 17 3 64 3 12 3 21 5 25 3 58 3 52 3 4 3 57 3 79 3 21 3 13 3 29 3 16 3 18 5 13 3 3999"/>
<path d="M0 643h1080" stroke-dasharray="0 168 3 37 3 108 3 104 3 65 3 24 3 6 3 79 3 147 3 20 3 21 3 18 3 52 3 107 3 3999"/>
<path d="M0 644h1080" stroke-dasharray="0 161 3 24 3 50 3 78 3 4 3 156 3 69 3 62 3 66 3 3999"/>
<path d="M0 645h1080" stroke-dasharray="0 76 3 29 3 16 3 40 3 2 3 15 3 68 3 120 3 33 3 3 3 44 3 44 3 4 3 2 3 12 3 2 3 29 3 65 3 43 3 190 3 3 3 82 3 3999"/>
<path d="M0 646h1080" stroke-dasharray="0 93 3 23 3 28 3 87 3 37 3 30 3 59 3 61 3 19 3 31 3 31 3 157 3 33 3 32 3 106 3 36 3 62 3 3999"/>
<path d="M0 647h1080" stroke-dasharray="0 71 3 18 3 13 3 1 3 79 3 164 3 35 3 101 3 64 4 4 3 14 3 45 3 15 6 97 3 20 3 33 3 17 3 7 3 11 3 24 3 10 3 22 3 3999"/>
<path d="M0 648h1080" stroke-dasharray="0 168 3 132 4 83 3 6 3 41 3 22 3 7 3 30 3 11 3 35 5 7 3 129 3 3999"/>
<path d="M0 649h1080" stroke-dasharray="0 50 3 3 3 45 3 16 3 6 3 299 3 155 3 172 3 88 3 22 6 34 3 3999"/>
<path d="M0 650h1080" stroke-dasharray="0 129 3 68 3 20 3 137 3 177 3 12 3 29 3 272 3 3999"/>
<path d="M0 651h1080" stroke-dasharray="0 65 3 4 3 116 3 172 3 139 3 122 3 48 3 15 3 10 3 72 3 88 3 51 3 4 3 11 3 21 3 3999"/>
<path d="M0 652h1080" stroke-dasharray="0 74 3 45 3 74 3 36 3 37 3 26 3 247 3 81 3 11 3 13 3 79 3 127 3 81 3 3999"/>
<path d="M0 653h1080" stroke-dasharray="0 184 3 106 3 8 3 175 3 81 3 137 3 64 3 75 3 45 3 46 3 72 3 3999"/>
<path d="M0 654h1080" stroke-dasharray="0 63 3 21 3 81 3 27 3 34 3 92 3 12 3 24 3 114 3 38 3 239 3 54 3 24 3 33 4 40 3 9 3 48 3 3999"/>
<path d="M0 655h1080" stroke-dasharray="0 42 3 103 3 43 3 21 3 30 3 18 3 77 3 3 3 40 3 17 3 35 3 22 3 24 3 161 3 142 3 98 3 3999"/>
<path d="M0 656h1080" stroke-dasharray="0 287 3 145 3 27 3 65 3 64 3 51 3 23 3 231 3 77 3 22 3 3999"/>
<path d="M0 657h1080" stroke-dasharray="0 189 3 307 3 26 3 119 3 64 3 129 3 3 3 73 3 7 3 4 3 60 3 3999"/>
<path d="M0 658h1080" stroke-dasharray="0 195 3 70 3 15 3 90 3 340 3 45 3 79 3 27 3 134 3 3999"/>
<path d="M0 659h1080" stroke-dasharray="0 155 3 16 3 230 3 159 3 3 3 1 3 17 3 347 3 3999"/>
<path d="M0 660h1080" stroke-dasharray="0 558 3 17 3 48 3 4 3 28 3 89 3 132 3 45 3 5 3 2 3 9 3 28 3 3999"/>
<path d="M0 661h1080" stroke-dasharray="0 64 3 75 3 47 3 27 3 101 3 94 3 9 3 44 3 48 3 69 3 9 3 165 3 112 3 100 3 3999"/>
<path d="M0 662h1080" stroke-dasharray="0 44 3 178 3 49 3 306 3 105 3 31 3 99 3 49 3 53 3 3999"/>
<path d="M0 663h1080" stroke-dasharray="0 388 3 108 3 39 3 12 3 83 3 2 3 17 3 35 3 127 3 163 3 3999"/>
<path d="M0 664h1080" stroke-dasharray="0 106 3 50 3 131 3 15 3 186 3 12 3 65 3 14 3 8 3 121 3 196 3 3999"/>
<path d="M0 665h1080" stroke-dasharray="0 566 3 319 3 61 3 29 3 3999"/>
<path d="M0 666h1080" stroke-dasharray="0 57 3 6 3 13 3 58 3 49 3 36 3 8 3 101 3 2 3 67 3 49 3 22 3 50 3 5 3 16 3 120 4 1 3 119 3 8 3 44 3 74 3 30 3 7 3 10 3 3999"/>
<path d="M0 667h1080" stroke-dasharray="0 317 3 441 3 3999"/>
<path d="M0 668h1080" stroke-dasharray="0 134 3 877 3 3999"/>
<path d="M0 669h1080" stroke-dasharray="0 306 3 647 3 3999"/>
<path d="M0 670h1080" stroke-dasharray="0 542 3 72 3 217 3 3999"/>
<path d="M0 671h1080" stroke-dasharray="0 180 3 135 3 411 3 3999"/>
<path d="M0 672h1080" stroke-dasharray="0 59 3 22 3 94 3 249 3 15 3 3999"/>
<path d="M0 673h1080" stroke-dasharray="0 130 3 43 3 115 3 4 3 74 3 29 3 15 3 11 3 11 6 7 3 43 3 20 3 5 3 20 3 25 3 8 3 2 5 4 3 1 3 48 3 51 3 18 3 40 6 36 3 45 3 48 3 11 3 12 3 32 3 19 3 3999"/>
<path d="M0 674h1080" stroke-dasharray="0 45 3 349 3 67 3 55 3 221 3 3999"/>
<path d="M0 675h1080" stroke-dasharray="0 114 3 140 3 72 3 263 3 180 3 225 3 3999"/>
<path d="M0 676h1080" stroke-dasharray="0 86 3 159 3 123 3 126 3 50 3 8 3 207 3 236 3 3999"/>
<path d="M0 677h1080" stroke-dasharray="0 67 3 83 3 312 3 122 3 285 3 82 3 3999"/>
<path d="M0 678h1080" stroke-dasharray="0 56 3 90 3 31 3 361 3 117 3 182 3 3999"/>
<path d="M0 679h1080" stroke-dasharray="0 226 3 433 3 3999"/>
<path d="M0 680h1080" stroke-dasharray="0 416 3 15 3 95 3 264 3 3999"/>
<path d="M0 681h1080" stroke-dasharray="0 216 3 163 3 359 3 230 3 3999"/>
<path d="M0 682h1080" stroke-dasharray="0 496 3 162 3 62 3 65 3 33 3 107 3 3999"/>
<path d="M0 683h1080" stroke-dasharray="0 47 3 175 3 52 3 30 3 47 3 84 3 110 3 24 3 29 3 39 3 61 3 90 3 193 3 3999"/>
<path d="M0 684h1080" stroke-dasharray="0 277 3 329 3 30 3 62 3 165 3 3999"/>
<path d="M0 685h1080" stroke-dasharray="0 238 3 86 3 190 3 3999"/>
<path d="M0 686h1080" stroke-dasharray="0 168 3 33 3 70 3 276 3 144 3 116 3 3999"/>
<path d="M0 687h1080" stroke-dasharray="0 89 3 74 3 32 3 185 3 15 3 88 3 30 3 150 3 54 3 57 3 183 3 3999"/>
<path d="M0 688h1080" stroke-dasharray="0 117 3 21 3 262 3 179 3 259 3 3999"/>
<path d="M0 689h1080" stroke-dasharray="0 278 3 55 3 111 3 87 3 21 3 3999"/>
<path d="M0 690h1080" stroke-dasharray="0 43 3 45 3 70 3 59 3 757 3 3999"/>
<path d="M0 691h1080" stroke-dasharray="0 565 3 9 3 177 3 113 3 3999"/>
<path d="M0 692h1080" stroke-dasharray="0 502 3 154 3 256 3 3999"/>
<path d="M0 693h1080" stroke-dasharray="0 71 3 233 3 101 3 3999"/>
<path d="M0 694h1080" stroke-dasharray="0 262 3 740 3 3999"/>
<path d="M0 695h1080" stroke-dasharray="0 362 3 7 3 65 3 57 3 11 3 121 3 195 3 3999"/>
<path d="M0 696h1080" stroke-dasharray="0 167 3 32 3 269 3 7 3 104 3 1 3 56 3 133 3 127 3 97 3 3999"/>
<path d="M0 697h1080" stroke-dasharray="0 371 3 92 3 53 5 3999"/>
<path d="M0 698h1080" stroke-dasharray="0 121 3 284 3 192 3 260 3 111 5 3999"/>
<path d="M0 699h1080" stroke-dasharray="0 97 3 256 3 211 3 94 3 129 3 3999"/>
<path d="M0 700h1080" stroke-dasharray="0 219 3 387 3 54 3 3999"/>
<path d="M0 701h1080" stroke-dasharray="0 87 3 122 3 525 3 138 3 3999"/>
<path d="M0 702h1080" stroke-dasharray="0 380 3 215 3 325 3 1 3 3999"/>
<path d="M0 703h1080" stroke-dasharray="0 859 3 3999"/>
<path d="M0 704h1080" stroke-dasharray="0 408 3 450 3 74 3 3999"/>
<path d="M0 705h1080" stroke-dasharray="0 848 3 3999"/>
<path d="M0 706h1080" stroke-dasharray="0 454 3 286 3 82 3 3999"/>
<path d="M0 707h1080" stroke-dasharray="0 230 3 355 3 355 3 3999"/>
<path d="M0 708h1080" stroke-dasharray="0 817 3 3999"/>
<path d="M0 709h1080" stroke-dasharray="0 717 5 129 3 3999"/>
<path d="M0 710h1080" stroke-dasharray="0 395 3 3999"/>
<path d="M0 711h1080" stroke-dasharray="0 52 3 64 3 116 3 6 3 598 3 115 3 46 3 3999"/>
<path d="M0 712h1080" stroke-dasharray="0 404 3 561 3 3999"/>
<path d="M0 713h1080" stroke-dasharray="0 253 3 68 3 365 3 144 3 3999"/>
<path d="M0 714h1080" stroke-dasharray="0 588 3 3999"/>
<path d="M0 715h1080" stroke-dasharray="0 156 3 3999"/>
<path d="M0 716h1080" stroke-dasharray="0 214 3 333 3 220 3 3999"/>
<path d="M0 717h1080" stroke-dasharray="0 496 3 3999"/>
<path d="M0 718h1080" stroke-dasharray="0 704 3 3999"/>
<path d="M0 720h1080" stroke-dasharray="0 754 3 214 3 3999"/>
<path d="M0 721h1080" stroke-dasharray="0 305 3 183 3 3999"/>
<path d="M0 722h1080" stroke-dasharray="0 320 3 480 3 186 3 3999"/>
<path d="M0 726h1080" stroke-dasharray="0 181 3 39 3 105 3 443 3 3999"/>
<path d="M0 727h1080" stroke-dasharray="0 386 3 1 3 141 3 3999"/>
<path d="M0 728h1080" stroke-dasharray="0 264 3 3999"/>
<path d="M0 730h1080" stroke-dasharray="0 467 3 540 3 3999"/>
<path d="M0 731h1080" stroke-dasharray="0 669 3 3999"/>
<path d="M0 732h1080" stroke-dasharray="0 212 3 3999"/>
<path d="M0 734h1080" stroke-dasharray="0 464 3 3999"/>
<path d="M0 735h1080" stroke-dasharray="0 828 3 3999"/>
<path d="M0 739h1080" stroke-dasharray="0 78 3 3999"/>
<path d="M0 740h1080" stroke-dasharray="0 940 3 3999"/>
<path d="M0 741h1080" stroke-dasharray="0 43 3 3999"/>
<path d="M0 743h1080" stroke-dasharray="0 677 3 3999"/>
<path d="M0 744h1080" stroke-dasharray="0 731 3 3999"/>
<path d="M0 747h1080" stroke-dasharray="0 321 3 373 3 3999"/>
<path d="M0 749h1080" stroke-dasharray="0 47 3 3999"/>
<path d="M0 750h1080" stroke-dasharray="0 349 3 3999"/>
<path d="M0 751h1080" stroke-dasharray="0 393 3 3999"/>
<path d="M0 754h1080" stroke-dasharray="0 198 3 3999"/>
<path d="M0 757h1080" stroke-dasharray="0 921 3 3999"/>
<path d="M0 758h1080" stroke-dasharray="0 369 3 3999"/>
<path d="M0 763h1080" stroke-dasharray="0 65 3 246 3 3999"/>
<path d="M0 765h1080" stroke-dasharray="0 52 3 427 3 3999"/>
<path d="M0 768h1080" stroke-dasharray="0 982 3 3999"/>
<path d="M0 769h1080" stroke-dasharray="0 433 3 3999"/>
<path d="M0 771h1080" stroke-dasharray="0 319 3 552 3 3999"/>
<path d="M0 781h1080" stroke-dasharray="0 497 3 210 3 3999"/>
<path d="M0 782h1080" stroke-dasharray="0 294 3 396 3 3999"/>
<path d="M0 784h1080" stroke-dasharray="0 372 3 3999"/>
<path d="M0 786h1080" stroke-dasharray="0 360 3 172 3 406 3 3999"/>
<path d="M0 788h1080" stroke-dasharray="0 159 3 3999"/>
<path d="M0 794h1080" stroke-dasharray="0 468 3 3999"/>
<path d="M0 797h1080" stroke-dasharray="0 677 3 3999"/>
<path d="M0 800h1080" stroke-dasharray="0 722 3 293 3 3999"/>
<path d="M0 801h1080" stroke-dasharray="0 141 3 367 3 264 3 120 3 3999"/>
<path d="M0 806h1080" stroke-dasharray="0 1015 3 3999"/>
<path d="M0 812h1080" stroke-dasharray="0 804 3 3999"/>
<path d="M0 813h1080" stroke-dasharray="0 920 3 3999"/>
<path d="M0 814h1080" stroke-dasharray="0 231 3 3999"/>
<path d="M0 820h1080" stroke-dasharray="0 634 3 3999"/>
<path d="M0 824h1080" stroke-dasharray="0 1017 3 3999"/>
<path d="M0 829h1080" stroke-dasharray="0 1000 3 3999"/>
<path d="M0 835h1080" stroke-dasharray="0 821 3 3999"/>
<path d="M0 836h1080" stroke-dasharray="0 850 3 3999"/>
<path d="M0 842h1080" stroke-dasharray="0 500 3 108 3 3999"/>
<path d="M0 866h1080" stroke-dasharray="0 94 3 3999"/>
<path d="M0 886h1080" stroke-dasharray="0 145 3 3999"/>
<path d="M0 917h1080" stroke-dasharray="0 628 3 3999"/>
<path d="M0 1121h1080" stroke-dasharray="0 125 3 3999"/>
</g>
</g>
<g clip-path="url(#c0)">
<path d="M59.76 250.65H592.19" stroke="#d62020" stroke-width="2.25" stroke-dasharray="9 9" stroke-linecap="round" fill="none"/>
<path d="M282.98 580.24V47.81" stroke="#006400" stroke-width="2.25" stroke-dasharray="9 9" stroke-linecap="round" fill="none"/>
<path d="M367.97 580.24V47.81" stroke="#006400" stroke-width="2.25" stroke-dasharray="9 9" stroke-linecap="round" fill="none"/>
</g>
<rect x="59.76" y="47.81" width="532.43" height="532.43" fill="none" stroke="#000" stroke-width="0.75"/>
<path d="M125.48 580.24H525.47M125.48 580.24v5.98M225.48 580.24v5.98M325.48 580.24v5.98M425.47 580.24v5.98M525.47 580.24v5.98" stroke="#000" stroke-width="0.75" stroke-linecap="round" fill="none"/>
<text x="114.98" y="601.75" font-size="10.0" textLength="21" lengthAdjust="spacing">-400</text>
<text x="214.98" y="601.75" font-size="10.0" textLength="21" lengthAdjust="spacing">-200</text>
<text x="322.48" y="601.75" font-size="10.0" textLength="6" lengthAdjust="spacing">0</text>
<text x="416.47" y="601.75" font-size="10.0" textLength="18" lengthAdjust="spacing">200</text>
<text x="516.47" y="601.75" font-size="10.0" textLength="18" lengthAdjust="spacing">400</text>
<path d="M59.76 549.44V67.53M59.76 549.44h-5.98M59.76 469.12h-5.98M59.76 388.80h-5.98M59.76 308.48h-5.98M59.76 228.17h-5.98M59.76 147.85h-5.98M59.76 67.53h-5.98" stroke="#000" stroke-width="0.75" stroke-linecap="round" fill="none"/>
<text transform="translate(45.42 555.44) rotate(-90)" font-size="10.0" textLength="12" lengthAdjust="spacing">70</text>
<text transform="translate(45.42 475.12) rotate(-90)" font-size="10.0" textLength="12" lengthAdjust="spacing">75</text>
<text transform="translate(45.42 394.80) rotate(-90)" font-size="10.0" textLength="12" lengthAdjust="spacing">80</text>
<text transform="translate(45.42 314.48) rotate(-90)" font-size="10.0" textLength="12" lengthAdjust="spacing">85</text>
<text transform="translate(45.42 234.17) rotate(-90)" font-size="10.0" textLength="12" lengthAdjust="spacing">90</text>
<text transform="translate(45.42 153.85) rotate(-90)" font-size="10.0" textLength="12" lengthAdjust="spacing">95</text>
<text transform="translate(45.42 76.53) rotate(-90)" font-size="10.0" textLength="18" lengthAdjust="spacing">100</text>
<text x="216.63" y="32.01" font-size="21.6" font-weight="bold" textLength="212.9" lengthAdjust="spacingAndGlyphs">Top hit for each peak</text>
<text x="239.68" y="625.66" font-size="15.9" textLength="173.4" lengthAdjust="spacingAndGlyphs">Distance to peak summit</text>
<text transform="translate(21.51 352.17) rotate(-90)" font-size="15.9" textLength="75.5" lengthAdjust="spacingAndGlyphs">Motif score</text>
<g id="heat" clip-path="url(#c1)">
<g filter="url(#hb)" fill-rule="evenodd">
<path fill="#fdfdff" d="M956 47l15 0 18 1 16 2 38 6 30 2 30 1 84 1 20 1 12 2 10 3 8 4 8 6 0 281 -8 7 -8 4 -10 4 -10 2 -10 1 -12 1 -66 1 -142 -1 -116 -1 -128 0 -14 -2 -12 -3 -10 -4 -6 -4 -4 -4 0 -284 8 -5 8 -3 8 -3 10 -1 22 -1 82 0 30 -1 28 -3 52 -9z"/>
<path fill="#fcfcff" d="M946 51l21 -1 20 1 16 2 43 8 27 2 32 1 82 1 18 1 12 2 10 3 10 5 8 6 0 267 -2 2 -8 7 -6 3 -6 3 -12 3 -14 2 -16 1 -40 0 -162 0 -108 -2 -122 0 -18 0 -14 -2 -10 -3 -6 -3 -4 -2 -8 -7 0 -270 8 -6 8 -4 10 -3 8 -1 18 -1 78 0 36 -1 18 -2 14 -2 40 -7z"/>
<path fill="#fbfbff" d="M961 53l14 0 14 1 12 2 40 8 28 3 34 2 84 0 20 2 10 1 10 4 10 5 8 7 0 251 -2 2 2 2 -4 4 -6 5 -4 3 -10 4 -10 3 -14 2 -34 1 -128 0 -66 1 -100 -3 -120 0 -18 0 -12 -2 -6 -1 -6 -2 -6 -4 -4 -2 -8 -7 0 -259 8 -6 8 -4 8 -3 10 -2 20 -1 84 0 32 -1 18 -2 13 -2 47 -10 12 -1z"/>
<path fill="#f9f9ff" d="M944 57l19 -2 10 1 10 0 18 3 40 8 14 2 18 2 32 1 82 1 18 1 12 2 10 4 8 4 8 7 2 2 0 240 -8 8 3 2 -9 7 -10 5 -10 3 -14 1 -34 1 -130 1 -62 1 -20 0 -48 -2 -33 -1 -49 0 -72 0 -16 0 -12 -2 -6 -1 -6 -2 -8 -4 -8 -7 -1 0 3 -2 -6 -6 0 -244 8 -7 8 -4 8 -3 10 -2 18 -1 80 0 36 -1 17 -2 13 -2 42 -9z"/>
<path fill="#f8f8ff" d="M948 59l9 -1 10 0 18 1 16 3 41 9 14 2 17 1 30 2 82 0 20 2 12 2 10 3 8 5 7 7 3 2 0 230 -6 8 -7 6 2 2 -7 5 -10 4 -10 2 -12 2 -32 0 -122 1 -72 2 -20 -1 -46 -2 -34 -1 -48 0 -72 0 -16 0 -10 -2 -10 -2 -8 -3 -7 -5 2 -2 -5 -5 -6 -6 0 -234 8 -8 8 -4 10 -4 8 -1 8 -1 12 -1 86 0 30 -1 12 -1 16 -3 15 -3 29 -7z"/>
<path fill="#f6f6ff" d="M951 61l16 -1 18 1 14 3 39 9 15 2 18 2 34 2 82 0 18 2 10 1 10 4 4 2 6 4 8 7 2 2 0 221 -4 6 -5 5 -5 4 -6 4 4 2 -8 4 -8 3 -10 1 -10 1 -34 1 -116 1 -74 2 -20 0 -46 -3 -34 -2 -40 0 -92 0 -10 -1 -8 -1 -8 -3 -8 -3 4 -2 -6 -4 -4 -3 -4 -4 -4 -6 0 -225 8 -7 8 -5 8 -3 10 -2 8 -1 12 -1 84 0 32 -1 16 -2 12 -2 46 -11z"/>
<path fill="#f4f4ff" d="M952 63l17 -1 16 1 14 3 40 9 16 3 16 2 32 1 84 1 18 1 12 3 8 3 8 5 8 7 4 4 0 211 -6 9 -6 7 -8 6 -8 3 5 2 -7 3 -6 1 -8 1 -12 1 -144 2 -72 2 -22 0 -50 -3 -32 -2 -44 0 -84 0 -10 0 -8 -2 -6 -1 -6 -2 -1 0 6 -2 -5 -2 -6 -3 -4 -3 -4 -3 -4 -5 -4 -6 0 -216 2 -2 8 -7 8 -5 8 -3 10 -2 8 0 12 -1 82 0 16 0 16 -2 16 -2 15 -2 43 -11 10 -2z"/>
<path fill="#f2f2ff" d="M952 65l17 -1 16 1 14 3 27 7 17 4 14 2 16 1 32 2 80 1 20 1 10 2 8 3 8 4 8 7 3 3 3 4 0 202 -5 8 -5 7 -6 5 -6 4 -8 4 -10 2 9 2 -7 2 -8 1 -26 1 -128 1 -24 1 -36 2 -16 0 -20 0 -46 -4 -34 -2 -44 0 -78 0 -16 -1 -11 -1 7 -1 8 -1 -10 -1 -10 -3 -8 -3 -4 -3 -4 -3 -6 -7 -4 -7 0 -207 3 -4 7 -6 8 -5 8 -3 10 -2 8 -1 12 0 82 0 30 -2 14 -1 16 -3 13 -3 35 -9zM793 341l-2 0 50 0z"/>
<path fill="#f0f0ff" d="M951 67l16 -1 8 0 10 1 14 3 26 7 18 4 14 2 17 2 31 1 80 1 18 1 10 2 10 4 8 4 6 5 3 4 3 4 1 4 1 4 0 186 -6 11 -6 8 -6 5 -8 5 -10 3 -10 2 -26 1 -114 1 114 1 25 1 -1 0 -26 1 -124 1 -24 1 -38 2 -16 1 -22 -1 -40 -4 -27 -1 23 -2 -28 -2 -40 -1 -86 0 -16 0 -10 -2 -8 -2 -8 -4 -6 -4 -6 -7 -6 -11 0 -197 1 -2 3 -4 6 -5 8 -5 8 -3 10 -2 10 -1 10 -1 80 0 30 -1 16 -2 12 -2 17 -4 33 -9z"/>
<path fill="#ededff" d="M949 69l8 -1 10 0 8 0 10 1 14 3 27 7 17 4 14 2 16 2 32 2 80 0 18 2 10 2 8 2 8 4 6 5 4 5 3 6 0 4 0 12 3 33 0 136 -6 11 -6 9 -6 6 -8 5 -8 3 -12 2 -24 1 -98 1 -34 1 -28 2 18 2 -46 3 -18 1 -22 -1 -31 -3 8 -2 -25 -3 -24 -2 -40 -1 -86 1 -16 -1 -10 -1 -8 -3 -8 -4 -6 -5 -6 -8 -6 -11 0 -160 1 -14 0 -10 0 -4 1 -4 5 -6 7 -5 6 -3 8 -3 8 -2 8 -1 12 0 80 0 16 -1 16 -1 14 -2 12 -2 17 -4 33 -9z"/>
<path fill="#ebebff" d="M947 71l8 -1 10 -1 10 1 8 0 16 4 27 7 18 4 15 2 16 2 26 2 80 1 20 1 10 1 8 3 8 4 6 4 4 4 2 6 1 4 0 10 2 28 1 8 2 10 0 119 -4 9 -3 6 -3 5 -4 5 -6 5 -8 5 -8 3 -12 2 -22 1 -98 0 -32 1 -22 2 -28 3 7 2 -19 1 -14 1 -16 -1 -17 -1 4 -2 -39 -5 -28 -3 -38 -1 -86 1 -16 -1 -10 -1 -8 -3 -6 -3 -6 -5 -4 -4 -4 -5 -6 -13 0 -130 1 -11 2 -26 0 -14 2 -6 3 -4 6 -5 8 -4 8 -3 8 -1 18 -1 82 0 16 -1 14 -1 14 -2 12 -2 16 -4 32 -9z"/>
<path fill="#e8e8ff" d="M964 71l13 0 14 2 52 13 12 3 16 2 28 2 82 1 22 1 10 2 8 3 6 3 5 4 3 4 1 2 1 4 0 12 3 30 1 10 4 13 0 107 -3 8 -4 8 -4 6 -5 6 -6 5 -8 5 -8 2 -12 2 -22 1 -92 1 -30 1 -24 1 -42 5 -18 1 -20 -1 -48 -7 -30 -2 -36 -1 -84 0 -16 0 -10 -2 -8 -3 -6 -3 -6 -5 -4 -5 -4 -5 -3 -6 -3 -8 0 -117 2 -9 1 -10 3 -28 0 -12 1 -4 1 -2 3 -4 6 -4 7 -4 8 -2 10 -1 16 -1 80 0 18 -1 16 -1 12 -2 18 -4 34 -10 14 -3 12 -2z"/>
<path fill="#e5e5ff" d="M954 73l9 -1 8 0 16 2 16 4 26 7 16 4 12 2 16 2 30 2 82 1 18 1 6 1 8 2 6 3 6 4 4 4 1 2 1 4 0 12 3 32 2 10 5 17 0 73 0 22 -1 2 -3 8 -3 8 -4 6 -5 7 -6 5 -8 5 -10 3 -10 2 -22 1 -92 0 -28 1 -26 2 -42 5 -18 1 -20 -1 -48 -7 -32 -3 -36 -1 -82 1 -16 -1 -10 -2 -8 -3 -6 -3 -6 -6 -4 -5 -4 -6 -4 -7 -2 -7 0 -105 4 -14 2 -10 2 -30 0 -12 1 -4 3 -4 5 -4 7 -3 8 -3 10 -1 16 -1 82 0 18 -1 16 -2 12 -2 14 -3 46 -13 10 -2z"/>
<path fill="#e2e2ff" d="M949 75l8 -1 10 0 10 0 10 1 12 3 32 9 16 4 12 2 14 2 26 1 80 1 22 2 8 1 8 2 6 3 4 3 4 4 1 5 0 12 3 32 3 12 7 20 0 84 -3 10 -4 10 -5 8 -4 5 -6 6 -8 5 -8 3 -12 2 -22 1 -92 1 -30 1 -25 2 -41 5 -18 1 -20 -1 -48 -8 -14 -1 -18 -2 -36 -1 -82 1 -16 -1 -8 -1 -8 -3 -6 -3 -6 -5 -6 -7 -4 -6 -3 -8 -3 -8 0 -95 5 -17 3 -10 3 -32 -1 -12 2 -4 3 -4 6 -4 7 -3 8 -2 8 -1 16 0 80 0 18 -1 16 -2 20 -4 44 -12 14 -4z"/>
<path fill="#dfdfff" d="M945 77l8 -1 10 -1 10 0 10 1 18 4 31 9 17 4 12 2 14 2 26 1 82 1 18 1 8 2 6 1 6 3 4 3 3 4 2 4 0 14 3 26 1 8 2 8 9 26 0 71 -3 11 -4 10 -4 8 -5 8 -6 6 -8 5 -8 3 -12 3 -22 1 -90 0 -30 1 -26 2 -42 6 -18 1 -20 -1 -48 -8 -16 -2 -16 -1 -38 -1 -78 0 -16 0 -10 -2 -8 -3 -6 -3 -6 -6 -5 -5 -5 -8 -3 -8 -3 -10 0 -72 0 -11 7 -23 3 -10 3 -32 0 -12 2 -4 1 -2 5 -4 7 -3 8 -2 8 -1 18 0 80 -1 18 -1 14 -1 12 -2 12 -3 38 -11z"/>
<path fill="#dcdcff" d="M953 77l16 -1 8 1 10 1 16 4 39 11 13 3 12 2 13 1 15 1 72 1 28 1 8 0 8 2 7 3 5 3 3 3 1 4 0 14 3 26 2 8 2 8 8 22 3 11 0 54 -1 7 -3 12 -4 10 -4 9 -5 7 -6 6 -7 5 -4 1 -6 2 -10 2 -22 1 -90 1 -30 1 -26 2 -42 6 -18 1 -10 0 -10 -1 -50 -9 -14 -1 -16 -2 -38 -1 -78 1 -16 -1 -10 -2 -8 -3 -6 -3 -6 -6 -5 -6 -5 -8 -3 -10 -3 -11 0 -71 2 -8 8 -20 2 -8 4 -32 0 -14 2 -4 1 -2 5 -3 6 -3 8 -1 8 -1 16 -1 80 0 18 -1 14 -1 12 -3 11 -2 35 -11 14 -4 10 -2z"/>
<path fill="#d9d9ff" d="M947 79l10 -1 10 -1 10 1 10 1 18 4 39 12 11 2 14 2 26 2 66 1 32 1 10 1 8 2 6 2 4 3 2 2 1 4 0 12 4 28 1 6 3 10 9 24 2 8 1 8 -1 24 1 18 -2 12 -2 10 -3 9 -4 8 -5 7 -5 6 -4 3 -4 3 -8 3 -12 2 -22 2 -90 1 -30 1 -26 2 -42 7 -18 1 -10 -1 -10 -1 -50 -9 -14 -2 -16 -1 -38 -2 -78 1 -16 0 -8 -2 -8 -2 -6 -4 -6 -5 -6 -7 -4 -8 -4 -10 -3 -12 -1 -6 0 -55 3 -11 9 -24 2 -8 5 -32 0 -14 1 -2 2 -3 4 -3 5 -2 7 -2 8 -1 18 0 80 -1 16 0 14 -2 12 -2 9 -2 43 -14 12 -3z"/>
<path fill="#d6d6ff" d="M956 79l15 -1 16 2 16 4 43 13 9 2 13 2 25 2 62 0 36 2 8 0 8 2 6 2 4 2 2 2 2 4 0 14 2 10 2 16 1 6 3 8 11 26 2 8 1 8 -1 24 0 18 -1 10 -2 10 -4 10 -4 8 -4 7 -6 6 -8 5 -8 3 -10 2 -22 1 -90 1 -30 1 -26 3 -42 7 -18 1 -10 0 -10 -1 -12 -3 -36 -7 -14 -2 -18 -2 -38 -1 -78 1 -16 -1 -8 -1 -8 -3 -6 -4 -6 -5 -5 -6 -5 -8 -3 -10 -3 -10 -1 -12 0 -18 -1 -24 1 -8 3 -8 3 -8 7 -18 4 -10 3 -20 2 -12 -1 -10 0 -2 1 -2 2 -2 3 -2 6 -3 6 -1 8 -1 18 -1 78 0 16 -1 14 -1 11 -2 11 -3 38 -12 12 -4 12 -2z"/>
<path fill="#d2d2ff" d="M948 81l9 -1 10 -1 10 1 10 1 18 5 40 12 12 3 12 1 22 2 62 1 38 1 8 1 8 2 5 2 3 2 2 2 1 2 0 2 -1 10 3 12 2 14 1 6 3 10 9 18 3 8 2 8 1 8 0 8 -1 16 1 18 -1 10 -2 8 -3 9 -4 8 -4 6 -6 7 -4 3 -4 2 -8 3 -10 2 -22 2 -90 1 -30 1 -26 3 -42 7 -18 1 -10 0 -12 -2 -46 -10 -14 -2 -16 -1 -38 -2 -80 1 -16 -1 -8 -1 -8 -3 -6 -4 -6 -5 -5 -7 -4 -8 -4 -10 -2 -8 -1 -10 1 -18 -1 -24 1 -8 2 -8 4 -10 9 -18 3 -8 1 -6 2 -14 3 -12 -1 -10 0 -2 1 -2 2 -2 4 -2 5 -2 6 -1 8 0 92 -1 14 -1 14 -1 11 -2 11 -3 44 -14 12 -3z"/>
<path fill="#cfcfff" d="M957 81l8 -1 8 1 8 0 10 2 16 4 36 12 12 3 12 2 24 1 56 1 40 2 10 1 6 1 4 1 4 2 2 3 1 3 -1 10 3 12 2 14 2 6 3 8 13 26 2 8 2 8 0 8 -1 18 0 18 -1 10 -2 8 -3 9 -4 8 -4 6 -6 6 -6 4 -8 3 -10 2 -22 1 -92 1 -30 2 -24 2 -42 8 -10 1 -8 1 -10 -1 -10 -1 -12 -3 -36 -8 -14 -2 -16 -2 -18 -1 -20 0 -80 0 -16 0 -8 -2 -8 -3 -6 -3 -6 -6 -4 -6 -4 -8 -3 -8 -2 -8 -1 -10 0 -18 -1 -18 0 -8 2 -8 3 -9 4 -9 9 -16 4 -10 4 -18 3 -12 0 -2 -1 -8 0 -2 2 -2 3 -2 6 -2 12 -1 30 -1 60 -1 14 0 14 -2 12 -2 12 -3 34 -12 14 -4 14 -3z"/>
<path fill="#cbcbff" d="M948 83l9 -1 10 -1 10 1 10 1 18 5 40 13 12 2 12 2 22 2 52 1 38 1 16 2 6 2 3 2 2 2 1 2 -2 8 0 2 4 12 5 18 4 10 9 15 5 11 3 8 1 8 1 8 -2 18 1 18 -1 8 -2 8 -3 8 -3 7 -4 7 -6 6 -6 4 -8 3 -10 3 -22 1 -92 1 -30 1 -24 3 -42 8 -10 2 -8 0 -10 -1 -10 -1 -12 -2 -34 -9 -14 -2 -16 -2 -18 -1 -22 -1 -80 1 -16 -1 -8 -1 -6 -2 -6 -4 -6 -5 -4 -5 -5 -8 -3 -8 -2 -8 -1 -10 1 -18 -1 -18 0 -8 1 -8 4 -10 4 -7 13 -23 4 -8 3 -14 6 -10 1 -2 0 -2 -3 -6 0 -2 1 -2 2 -2 5 -2 10 -1 34 -1 54 0 14 -1 12 -2 12 -2 12 -3 44 -15 10 -3z"/>
<path fill="#c7c7ff" d="M956 83l9 -1 8 1 10 1 8 1 16 4 38 13 12 3 10 2 10 1 12 1 50 0 33 2 19 2 7 2 3 2 0 2 0 2 -2 6 0 2 0 2 6 10 5 14 3 8 14 21 5 9 3 8 2 8 0 8 -1 18 0 20 0 8 -2 8 -3 8 -3 6 -4 6 -6 6 -7 5 -8 3 -8 1 -22 1 -92 2 -30 1 -14 1 -12 2 -40 9 -10 1 -8 0 -10 0 -10 -2 -11 -2 -35 -10 -14 -2 -16 -2 -18 -1 -22 0 -80 0 -16 0 -8 -2 -6 -2 -6 -4 -6 -5 -4 -6 -5 -8 -2 -8 -2 -8 0 -8 0 -18 -1 -18 1 -10 3 -10 4 -8 6 -9 14 -19 3 -6 5 -9 4 -5 3 -2 3 -1 6 -1 10 0 10 2 5 2 5 3 9 9 5 4 9 4 8 2 7 1 12 0 10 -2 4 -1 3 -2 2 -2 2 -4 -1 -4 -2 -8 0 -8 0 -2 -2 -2 -2 -2 -4 -1 -8 -2 -10 -1 -42 1 -20 -1 -6 -1 -6 -1 -3 -2 1 -1 2 -1 16 -2 28 -1 40 0 10 -1 14 -2 16 -3 12 -3 12 -4 26 -9 12 -4 14 -4z"/>
<path fill="#c3c3ff" d="M947 85l12 -2 10 0 10 1 10 2 16 4 42 14 14 3 12 2 18 2 40 0 24 1 10 1 14 2 7 2 2 2 -1 2 -2 2 -7 4 -2 2 0 2 4 2 11 5 3 3 2 2 9 16 16 20 6 8 5 10 3 10 1 10 -2 20 1 16 -1 8 -1 6 -2 8 -3 6 -4 6 -5 6 -6 5 -8 3 -10 3 -22 1 -94 1 -30 2 -12 1 -12 2 -40 9 -10 1 -8 0 -10 0 -10 -2 -10 -2 -24 -7 -12 -3 -14 -2 -16 -2 -18 -1 -22 -1 -80 1 -16 -1 -8 -1 -6 -3 -6 -3 -5 -5 -5 -6 -3 -6 -2 -6 -2 -8 -1 -8 1 -18 -1 -18 0 -8 2 -10 3 -6 3 -6 8 -11 6 -6 6 -6 6 -4 6 -4 4 -1 6 -1 10 1 31 8 10 2 13 2 10 0 10 0 8 -1 6 -2 6 -3 4 -3 2 -3 0 -2 1 -4 -1 -10 0 -8 0 -3 -2 -4 -6 -5 -2 -2 1 -2 5 -2 32 -10 42 -15 12 -3z"/>
<path fill="#bfbfff" d="M954 85l9 -1 10 0 10 1 10 2 16 5 40 14 14 3 12 3 18 1 32 0 14 1 11 1 10 2 3 2 -3 2 -7 2 -16 3 -32 3 -2 0 -4 2 1 2 3 2 8 2 12 3 40 7 12 3 8 2 10 6 10 7 10 8 8 9 6 8 4 9 3 8 1 8 -2 22 0 16 0 8 -1 6 -3 8 -3 6 -3 5 -6 6 -6 4 -8 4 -10 2 -22 1 -92 1 -30 1 -13 2 -13 2 -38 9 -10 1 -8 0 -10 0 -10 -2 -10 -2 -22 -7 -12 -3 -14 -3 -16 -2 -18 -1 -22 0 -32 0 -50 1 -16 -1 -8 -2 -6 -2 -6 -4 -4 -4 -4 -6 -4 -6 -2 -7 -2 -7 0 -8 0 -16 -1 -18 0 -6 1 -6 1 -4 3 -8 4 -6 4 -5 8 -8 6 -4 6 -4 6 -2 8 -1 14 1 38 5 20 2 10 0 8 -1 8 -1 8 -2 6 -3 3 -3 4 -4 1 -4 1 -4 -1 -10 0 -10 -1 -4 -3 -6 -1 -2 1 -2 3 -2 4 -2 55 -21 16 -5z"/>
<path fill="#bbbbff" d="M946 87l11 -2 12 0 10 1 12 2 20 6 40 14 33 9 4 2 -2 2 -7 4 -2 2 -1 2 0 2 0 2 5 6 9 10 5 3 6 3 9 2 9 1 50 4 16 2 8 2 6 2 10 6 8 7 4 4 4 6 5 10 2 4 1 6 0 8 -2 18 1 16 -1 8 -1 6 -2 6 -3 6 -3 4 -5 6 -6 5 -8 3 -10 2 -22 1 -92 2 -30 1 -14 2 -12 2 -38 9 -10 1 -8 1 -10 -1 -10 -2 -10 -2 -22 -7 -12 -3 -14 -3 -16 -2 -18 -1 -22 -1 -32 0 -50 1 -16 -1 -8 -2 -6 -2 -6 -4 -4 -4 -4 -5 -3 -6 -2 -6 -1 -6 -1 -8 1 -16 -2 -18 1 -6 1 -8 4 -9 6 -9 6 -6 6 -4 6 -3 6 -2 8 -1 16 0 42 4 20 1 10 0 10 -1 8 -2 7 -2 5 -3 5 -3 3 -4 2 -4 1 -6 0 -20 -1 -4 -2 -6 -1 -2 1 -2 2 -2 4 -2 8 -4 32 -13 18 -6z"/>
<path fill="#b7b7ff" d="M951 87l10 -1 12 0 12 1 10 3 20 6 49 19 3 2 2 2 0 2 -3 6 -1 4 1 4 5 14 3 4 3 3 4 3 4 2 8 2 14 2 18 1 46 2 16 1 12 3 6 3 6 4 8 7 7 9 4 8 1 4 1 6 0 8 -2 16 0 16 0 8 -3 10 -3 6 -3 5 -6 6 -6 4 -8 3 -8 2 -22 1 -94 2 -30 1 -12 1 -12 2 -30 8 -10 2 -8 1 -8 1 -10 -1 -10 -2 -10 -2 -20 -7 -12 -3 -14 -3 -16 -2 -20 -2 -22 0 -32 0 -50 1 -16 -1 -8 -2 -6 -3 -6 -4 -4 -4 -3 -4 -3 -6 -2 -6 -1 -6 0 -6 0 -16 -1 -18 0 -6 2 -8 3 -8 5 -7 6 -6 6 -4 6 -3 6 -1 6 -1 16 0 46 3 20 1 12 -1 10 -1 8 -2 7 -2 7 -4 4 -3 4 -5 2 -4 1 -6 -1 -20 -3 -10 0 -2 1 -2 2 -2 3 -2 7 -4 30 -13 18 -6z"/>
<path fill="#b2b2ff" d="M958 87l11 0 10 0 10 2 10 2 12 4 12 5 26 11 8 4 2 2 1 2 0 2 -2 6 0 4 3 18 1 4 3 4 2 2 4 3 5 3 11 3 16 2 18 1 52 1 16 2 8 1 6 2 6 3 4 3 6 5 6 9 4 8 1 8 0 8 -2 16 1 16 -1 6 -2 10 -3 6 -3 4 -5 6 -6 4 -8 4 -8 1 -22 2 -94 1 -30 2 -14 1 -12 2 -38 10 -8 1 -8 1 -8 -1 -10 -1 -10 -3 -22 -8 -12 -3 -14 -3 -16 -2 -20 -1 -22 -1 -32 0 -50 1 -16 -1 -6 -1 -6 -3 -6 -4 -5 -4 -2 -4 -3 -6 -2 -4 -1 -6 -1 -6 1 -16 -1 -22 1 -8 3 -8 4 -6 6 -6 4 -3 6 -3 6 -2 8 -1 14 0 48 3 24 0 12 0 10 -2 8 -2 7 -2 7 -4 5 -4 3 -4 3 -6 0 -6 -1 -18 0 -4 -2 -8 0 -2 1 -2 1 -2 6 -4 7 -4 15 -7 12 -5 10 -3 10 -3 10 -1z"/>
<path fill="#aeaeff" d="M948 89l11 -1 10 -1 10 1 12 2 12 3 14 5 20 9 12 6 2 2 2 2 1 2 0 2 -2 10 2 18 1 6 2 4 4 4 6 4 5 2 7 2 6 1 18 2 20 1 50 1 14 1 8 1 6 2 6 2 4 2 6 5 6 8 4 8 2 8 0 8 -2 16 0 16 0 6 -2 6 -1 4 -5 8 -4 5 -6 5 -8 3 -8 2 -8 1 -14 0 -96 2 -30 1 -12 2 -12 2 -38 10 -8 1 -8 1 -8 -1 -10 -1 -10 -3 -20 -7 -10 -3 -12 -3 -12 -2 -22 -3 -26 -1 -34 0 -50 1 -14 0 -8 -1 -6 -2 -6 -4 -5 -5 -5 -8 -2 -5 -1 -5 -1 -6 1 -16 -2 -16 0 -6 1 -8 3 -6 4 -6 5 -5 4 -3 6 -3 6 -2 8 -1 14 0 48 3 24 0 14 -1 10 -1 8 -2 8 -3 6 -3 6 -5 3 -4 3 -6 1 -4 0 -6 -1 -18 -2 -10 1 -4 1 -2 2 -2 6 -4 10 -5 10 -5 10 -4 10 -3z"/>
<path fill="#a9a9ff" d="M953 89l10 -1 10 0 12 2 10 2 12 3 12 5 15 7 11 6 2 2 2 2 0 2 1 2 -2 8 0 4 0 18 2 6 2 4 3 4 6 4 6 2 12 4 20 2 26 1 52 1 12 1 8 1 6 2 6 3 4 2 6 6 4 5 3 6 1 8 0 8 -2 16 0 16 0 6 -2 8 -4 7 -6 7 -6 4 -8 3 -8 2 -22 1 -94 2 -30 1 -14 2 -12 2 -36 10 -8 1 -8 1 -8 -1 -10 -1 -8 -3 -22 -8 -10 -3 -12 -3 -14 -2 -22 -2 -26 -1 -32 0 -50 1 -12 0 -8 -2 -8 -2 -6 -4 -4 -4 -3 -4 -2 -4 -3 -8 0 -6 1 -16 -2 -16 0 -6 1 -6 2 -6 4 -6 6 -6 4 -2 6 -3 6 -1 6 -1 16 0 50 2 22 0 14 -1 10 -1 8 -2 8 -2 8 -5 5 -4 5 -6 2 -6 1 -4 0 -6 -1 -18 -3 -10 1 -4 1 -2 5 -4 6 -4 10 -5 10 -4 18 -6z"/>
<path fill="#a5a5ff" d="M962 89l9 0 10 1 10 2 10 2 10 4 12 5 12 6 6 4 2 2 2 2 1 2 0 2 -2 12 -1 16 0 4 1 4 3 6 4 4 6 4 6 3 6 2 8 2 8 1 12 1 22 1 56 1 14 0 8 2 6 1 6 3 4 3 4 4 5 6 3 6 1 8 0 6 -3 16 1 16 -1 6 -2 8 -4 6 -4 5 -6 4 -8 4 -8 1 -22 2 -94 1 -30 2 -14 1 -12 3 -30 8 -8 2 -8 1 -6 1 -8 -1 -10 -2 -38 -13 -12 -3 -14 -3 -22 -2 -26 -1 -34 0 -50 1 -12 0 -8 -1 -8 -3 -6 -4 -4 -5 -4 -6 -2 -8 0 -6 1 -14 -2 -16 0 -6 1 -6 2 -6 4 -6 4 -3 4 -3 6 -2 6 -2 6 -1 16 0 49 3 23 0 12 -1 12 -1 10 -2 8 -3 8 -5 6 -4 4 -6 3 -6 2 -6 0 -6 -2 -16 -2 -10 -1 -4 2 -4 2 -2 5 -4 7 -4 10 -5 10 -4 8 -2 10 -3 10 -2z"/>
<path fill="#a0a0ff" d="M949 91l10 -1 10 -1 10 1 12 2 12 4 12 4 11 5 10 6 4 4 2 2 0 2 0 4 -2 8 -1 16 0 6 2 6 3 6 3 4 6 4 8 4 7 2 9 2 20 2 26 1 52 0 14 1 6 0 6 2 6 2 4 3 6 5 3 4 3 6 1 6 0 8 -3 16 0 20 -1 6 -3 7 -4 5 -6 4 -8 4 -8 2 -10 1 -14 0 -92 2 -30 1 -14 2 -12 2 -38 11 -8 1 -6 0 -8 0 -10 -2 -38 -13 -14 -4 -14 -3 -22 -2 -26 -1 -32 0 -50 1 -12 0 -8 -1 -6 -2 -6 -4 -4 -4 -4 -7 -2 -6 0 -6 1 -14 -2 -16 0 -6 0 -6 2 -4 3 -5 4 -4 4 -2 6 -3 6 -2 6 0 16 -1 48 3 26 0 14 -1 12 -1 10 -3 8 -3 7 -4 7 -6 4 -6 3 -6 1 -6 0 -6 -2 -16 -2 -10 -1 -4 2 -4 1 -2 2 -2 6 -4 14 -7 18 -6z"/>
<path fill="#9b9bff" d="M953 91l10 -1 10 0 10 1 10 2 14 5 10 4 10 5 7 4 4 4 1 4 0 4 -2 10 -2 14 0 6 2 6 2 6 6 6 6 4 7 4 7 2 10 2 10 2 12 1 28 0 50 0 14 1 6 1 6 1 6 2 4 3 4 3 4 6 3 6 1 6 -1 6 -3 16 0 6 1 10 -1 4 -1 6 -3 6 -4 4 -6 5 -8 3 -8 1 -24 2 -92 1 -28 2 -12 1 -10 2 -12 3 -28 8 -8 2 -8 0 -8 0 -8 -2 -8 -3 -22 -8 -12 -4 -14 -3 -14 -3 -22 -2 -26 -1 -32 0 -48 1 -12 0 -8 -1 -6 -2 -6 -4 -3 -4 -3 -6 -1 -4 -1 -6 2 -14 -3 -16 0 -6 1 -6 1 -4 3 -4 4 -3 4 -3 4 -2 6 -1 6 -1 16 0 48 3 26 0 14 -1 12 -2 10 -2 8 -3 9 -5 7 -6 4 -6 4 -8 1 -6 0 -6 -2 -16 -3 -10 0 -4 1 -4 1 -2 2 -2 6 -4 7 -4 9 -4 16 -5 8 -2z"/>
<path fill="#9696ff" d="M960 91l9 0 10 0 10 2 10 3 12 4 10 4 8 5 5 4 1 2 2 4 -1 4 -2 10 -2 14 0 6 1 6 3 6 5 7 6 4 8 4 6 3 10 2 10 2 14 1 32 1 48 -1 14 1 6 1 6 1 6 3 4 2 4 4 3 5 2 4 1 6 -1 6 -3 16 0 6 0 10 0 4 -2 6 -2 4 -4 5 -6 4 -6 2 -8 1 -24 2 -92 2 -28 1 -14 2 -12 2 -38 11 -8 1 -6 1 -8 -1 -8 -2 -8 -2 -22 -8 -12 -4 -14 -4 -16 -3 -22 -2 -26 -1 -30 0 -48 1 -10 0 -8 -1 -6 -2 -6 -3 -3 -4 -3 -4 -1 -6 1 -18 -3 -16 0 -6 1 -6 2 -4 2 -3 4 -3 4 -2 6 -3 6 -1 8 0 14 0 30 2 16 1 18 0 16 0 12 -2 8 -1 8 -2 8 -3 8 -5 8 -7 5 -7 4 -8 1 -6 -1 -8 -2 -14 -3 -10 0 -4 1 -4 1 -2 5 -4 6 -4 7 -3 10 -4 16 -5 8 -1z"/>
<path fill="#9191ff" d="M948 93l11 -2 10 0 10 1 10 2 14 4 10 3 11 6 5 4 4 4 1 4 0 4 -3 10 -2 14 0 8 1 6 3 6 6 7 7 5 7 4 8 2 10 3 10 1 14 1 32 1 48 0 14 0 6 1 6 1 4 2 4 2 4 3 3 5 2 4 1 6 0 6 -4 12 -1 6 1 14 0 4 -2 4 -2 4 -4 5 -5 3 -7 2 -8 2 -24 1 -90 2 -28 2 -14 2 -12 2 -38 11 -8 1 -6 0 -8 0 -8 -2 -8 -2 -24 -9 -14 -5 -16 -4 -14 -2 -20 -2 -26 -1 -30 0 -44 1 -12 0 -6 -1 -6 -1 -5 -3 -4 -4 -2 -4 -1 -4 0 -4 2 -10 0 -4 -1 -4 -3 -12 -1 -6 1 -4 1 -4 3 -3 3 -3 5 -3 4 -1 6 -1 8 -1 14 0 30 3 14 1 16 0 18 -1 12 -1 10 -1 8 -2 8 -3 10 -6 7 -6 6 -8 4 -8 1 -6 0 -8 -2 -14 -4 -12 0 -4 1 -4 1 -2 4 -4 3 -2 11 -6 14 -5z"/>
<path fill="#8c8cff" d="M951 93l10 -1 10 0 12 1 10 2 10 3 10 4 9 5 6 4 3 4 1 4 0 4 -3 10 -3 14 0 8 1 6 4 7 5 7 7 5 9 5 7 2 8 2 10 2 10 1 18 1 22 1 46 -1 12 0 8 1 6 1 4 1 5 3 4 4 3 3 2 5 0 4 0 4 -1 4 -4 14 -1 4 1 14 -1 4 -2 4 -3 4 -5 3 -6 2 -8 2 -10 1 -18 1 -86 2 -26 1 -14 2 -12 2 -40 11 -8 1 -6 1 -8 -1 -8 -2 -10 -3 -24 -9 -14 -4 -16 -4 -16 -3 -20 -2 -24 -1 -28 0 -44 2 -10 0 -6 -1 -6 -2 -4 -2 -4 -3 -2 -4 0 -4 2 -12 0 -4 -1 -4 -5 -12 0 -6 1 -4 1 -3 2 -3 3 -2 3 -2 6 -2 6 -1 8 -1 14 1 30 3 12 1 16 0 18 -1 14 -1 10 -2 8 -2 8 -3 10 -6 8 -8 6 -8 3 -8 2 -8 -1 -8 -2 -13 -4 -11 0 -4 1 -4 1 -2 2 -2 5 -4 5 -3 8 -4 14 -4z"/>
<path fill="#8787ff" d="M956 93l9 -1 8 1 10 1 10 2 8 2 10 4 9 5 6 4 3 4 1 4 0 4 -4 10 -2 14 -1 8 2 6 3 8 3 4 4 4 7 6 8 4 9 3 8 2 10 2 10 1 18 1 24 0 44 -1 12 0 12 1 6 2 4 3 2 2 4 4 1 4 1 4 0 4 -1 4 -5 12 -1 4 0 4 1 10 -1 4 -2 4 -3 4 -4 2 -6 3 -8 1 -30 2 -84 2 -24 1 -14 2 -12 3 -40 11 -8 1 -6 0 -8 0 -10 -2 -10 -4 -28 -10 -14 -5 -18 -5 -16 -3 -20 -1 -18 -1 -68 3 -10 0 -6 -1 -5 -1 -4 -2 -2 -2 -2 -2 0 -4 0 -4 2 -8 0 -4 -1 -4 -6 -10 -1 -6 0 -4 1 -2 2 -4 3 -2 3 -2 6 -2 6 -1 8 0 14 1 26 3 12 1 14 1 16 -1 16 -1 10 -1 10 -3 8 -3 10 -6 5 -4 5 -5 4 -4 3 -5 3 -5 2 -5 1 -8 0 -8 -3 -12 -4 -12 -1 -4 1 -4 1 -2 2 -2 5 -4 6 -3 8 -4 16 -5 8 -1z"/>
<path fill="#8181ff" d="M946 95l11 -2 10 0 10 0 12 2 10 3 10 4 10 5 5 4 3 4 1 4 0 4 -4 12 -3 12 0 8 2 8 3 8 7 7 8 7 10 5 8 2 10 3 10 1 12 2 18 1 22 0 42 -2 12 0 6 0 6 2 4 1 4 2 3 3 3 4 1 4 1 4 -2 7 -6 11 -1 4 -1 4 2 10 -1 4 -1 2 -4 4 -4 2 -6 2 -10 1 -48 3 -66 1 -24 2 -10 2 -12 3 -36 10 -8 1 -8 1 -10 -1 -12 -3 -44 -17 -41 -13 -5 -2 -1 -2 2 -2 9 -5 4 -2 2 -3 1 -2 0 -2 -1 -2 -2 -2 -2 -2 -6 -3 -8 -2 -12 -1 -10 0 -8 2 -4 2 -2 2 -1 2 0 4 3 6 4 6 1 2 -3 2 -4 1 -6 1 -14 2 -42 2 -8 0 -4 -1 -4 -1 -2 -2 -1 -2 0 -2 4 -8 0 -4 -2 -4 -9 -11 -2 -3 -1 -4 0 -4 1 -2 3 -4 4 -2 5 -2 4 0 6 -1 8 0 16 3 30 5 14 2 12 -1 18 -2 8 -1 8 -2 6 -2 8 -4 12 -8 8 -6 6 -7 4 -6 2 -4 2 -8 1 -8 -1 -8 -2 -12 -4 -10 -1 -4 1 -4 1 -2 4 -4 3 -2 8 -4 12 -5z"/>
<path fill="#7c7cff" d="M949 95l10 -1 10 -1 10 1 10 2 10 3 10 3 9 5 5 4 3 4 1 4 -1 4 -5 12 -2 12 -1 8 2 8 3 6 2 3 6 8 8 6 10 5 10 4 10 2 10 2 12 1 20 1 20 1 14 -1 28 -2 10 0 6 0 6 1 4 2 4 1 4 4 1 2 2 4 0 4 -1 4 -2 4 -7 10 -3 4 0 4 2 10 -2 4 -1 2 -3 2 -4 1 -6 2 -9 1 -49 3 -62 1 -20 2 -12 2 -10 3 -36 10 -10 2 -8 1 -12 -2 -14 -4 -46 -18 -11 -6 -3 -2 -2 -2 0 -2 0 -2 2 -6 1 -4 0 -2 -1 -4 -2 -4 -2 -2 -11 -10 -2 -2 0 -2 1 -2 2 -2 20 -14 10 -8 4 -5 4 -5 6 -10 2 -5 1 -5 0 -8 0 -6 -3 -10 -5 -14 0 -4 1 -4 4 -4 3 -2 9 -5 12 -4zM739 207l4 -1 6 -1 6 1 8 1 9 2 6 2 4 2 3 2 1 2 1 2 0 2 -5 8 0 2 0 2 4 6 1 2 -2 2 -4 1 -4 -1 -2 -1 -3 -5 -2 -2 -6 -2 -17 -4 -6 -2 -4 -2 -4 -4 -2 -4 0 -2 0 -2 2 -3 2 -1z"/>
<path fill="#7676ff" d="M952 95l9 -1 10 0 10 1 8 1 12 4 8 3 7 4 5 4 3 4 1 4 -1 4 -5 12 -2 12 -1 8 2 8 2 6 2 4 7 8 8 6 10 6 10 4 12 3 12 2 14 2 20 1 16 0 14 -1 28 -2 10 -1 10 1 4 1 4 2 4 4 1 2 1 4 -1 4 -1 3 -2 3 -4 4 -6 5 -9 5 -2 2 0 2 4 6 1 2 0 2 -1 2 -2 2 -6 2 -12 2 -19 2 -32 2 -52 1 -18 2 -10 2 -12 3 -38 11 -8 2 -8 0 -6 0 -8 -1 -14 -4 -25 -10 -13 -6 -7 -4 -5 -4 -1 -2 -2 -4 1 -8 -1 -6 -3 -6 -8 -12 -1 -4 1 -4 3 -4 17 -16 8 -8 6 -9 4 -9 1 -8 0 -8 -3 -14 -6 -14 0 -4 1 -2 2 -4 3 -2 4 -3 6 -3 14 -5 8 -2zM744 211l7 -1 6 1 5 2 3 2 0 2 -2 2 -5 2 -5 1 -7 -1 -5 -2 -1 -2 -1 -2 1 -2z"/>
<path fill="#7171ff" d="M956 95l9 -1 8 1 10 1 10 2 8 2 8 4 6 3 5 4 3 4 1 4 -1 4 -6 12 -2 12 -1 8 1 8 2 4 3 6 6 8 4 4 5 4 10 5 12 5 16 5 18 3 18 2 12 1 12 -1 12 -1 28 -4 8 0 8 0 4 1 4 2 4 3 2 3 0 2 -1 4 -2 4 -3 2 -6 4 -6 1 -12 1 -28 -2 -6 0 -6 2 -2 2 1 2 2 2 16 10 3 2 2 2 0 2 -2 2 -6 2 -9 2 -13 2 -12 1 -46 0 -18 2 -10 2 -12 3 -40 12 -10 2 -8 1 -12 -1 -12 -3 -14 -5 -17 -8 -11 -6 -4 -4 -2 -2 -2 -4 -1 -10 -1 -4 -2 -5 -8 -13 -1 -4 0 -2 2 -4 2 -4 16 -16 7 -8 6 -10 2 -8 2 -8 -1 -6 -3 -14 -6 -14 0 -4 1 -4 4 -4 3 -2 10 -5 14 -5 8 -1z"/>
<path fill="#6b6bff" d="M946 97l9 -2 10 0 10 0 8 1 10 2 10 4 7 3 6 4 4 4 2 2 0 4 -1 4 -4 8 -2 6 -3 10 0 8 1 6 2 6 3 6 4 6 3 4 6 5 6 4 6 4 16 7 26 10 4 2 2 2 1 2 -2 2 -9 6 -5 4 -1 2 0 2 5 2 23 2 6 1 8 3 6 2 2 2 2 2 1 2 -1 2 -6 2 -12 2 -14 1 -28 0 -8 0 -8 1 -20 5 -42 15 -10 2 -10 1 -6 0 -8 -1 -14 -4 -10 -5 -12 -5 -7 -4 -5 -4 -4 -4 -2 -4 -4 -14 -9 -18 -1 -4 0 -4 2 -4 3 -4 13 -14 6 -8 6 -10 2 -8 2 -8 -1 -6 -3 -14 -7 -14 0 -4 1 -4 2 -2 4 -3 8 -5 10 -4zM1167 209l14 -2 6 0 4 1 4 2 2 2 1 3 0 2 -1 2 -2 2 -4 2 -6 2 -6 0 -8 -1 -8 -1 -6 -2 -4 -2 -2 -2 1 -2 3 -2 5 -2z"/>
<path fill="#6565ff" d="M948 97l11 -2 10 0 10 1 10 2 12 3 8 4 6 4 4 4 2 4 -1 4 -6 14 -3 10 -1 6 0 4 1 6 3 10 3 4 4 6 8 8 12 8 24 14 2 2 1 2 1 2 -1 2 -1 2 -10 10 -3 4 -2 2 -1 4 1 6 -1 2 -1 2 -2 2 -13 6 -40 15 -14 4 -8 1 -6 1 -8 -1 -8 -1 -8 -3 -8 -3 -11 -5 -7 -5 -7 -5 -3 -4 -2 -4 -5 -12 -8 -16 -1 -4 0 -4 1 -4 2 -4 15 -18 6 -9 4 -9 3 -8 1 -8 -2 -8 -3 -10 -6 -14 -1 -4 1 -2 2 -4 2 -2 7 -4 12 -5zM1178 215l3 -1 2 0 2 1 -2 2 -2 0 -2 -1z"/>
<path fill="#5f5fff" d="M951 97l8 -1 10 0 8 0 10 2 8 2 10 4 6 3 5 4 3 4 0 4 -1 4 -4 8 -3 6 -2 8 -1 6 0 8 2 8 5 10 4 4 5 6 9 8 20 14 4 4 1 2 0 2 -2 4 -12 14 -3 6 -3 8 -3 4 -3 2 -10 6 -18 8 -15 5 -12 3 -12 1 -6 -1 -8 -2 -8 -2 -8 -4 -9 -4 -7 -4 -5 -4 -4 -6 -6 -14 -7 -14 -3 -6 0 -4 2 -6 4 -6 11 -14 6 -8 4 -9 3 -9 0 -8 -1 -8 -3 -10 -7 -14 -1 -4 1 -2 2 -4 2 -2 8 -5 12 -4z"/>
<path fill="#5959ff" d="M954 97l9 -1 8 0 16 2 10 3 8 3 5 3 5 4 3 4 0 4 -1 4 -7 12 -3 12 -1 8 0 4 2 6 4 10 7 9 8 8 18 15 3 4 2 4 0 2 -1 4 -11 14 -3 4 -5 10 -3 4 -3 2 -9 6 -14 7 -14 5 -12 2 -6 1 -6 -1 -8 -1 -6 -1 -8 -3 -7 -3 -7 -4 -6 -4 -4 -4 -5 -6 -13 -26 -1 -4 -1 -4 0 -4 3 -6 4 -6 11 -14 6 -10 3 -8 2 -8 0 -8 -2 -10 -3 -8 -6 -10 -1 -4 0 -4 1 -2 1 -2 5 -4 8 -4 12 -4z"/>
<path fill="#5353ff" d="M959 97l8 0 10 0 8 1 8 2 8 3 6 3 5 3 4 4 1 4 -1 4 -7 14 -4 12 -1 8 1 8 4 10 6 10 8 8 17 16 3 4 1 4 0 4 -2 4 -11 14 -7 12 -6 6 -9 6 -14 7 -12 3 -12 2 -6 0 -6 0 -12 -3 -8 -3 -6 -3 -5 -3 -5 -4 -6 -6 -3 -6 -12 -22 -1 -4 -1 -4 0 -4 2 -6 4 -6 11 -14 3 -6 5 -10 3 -10 0 -8 -2 -10 -4 -8 -6 -10 -1 -4 0 -4 1 -2 4 -4 3 -2 10 -5 14 -4z"/>
<path fill="#4d4dff" d="M946 99l9 -1 10 -1 10 0 8 1 8 2 10 3 7 4 5 4 2 4 1 4 -2 4 -7 12 -4 10 -1 6 0 4 1 8 4 10 6 9 7 9 14 14 3 4 2 4 0 4 -2 6 -10 14 -8 12 -4 4 -6 5 -9 5 -11 5 -10 2 -6 1 -6 0 -6 0 -6 -1 -8 -2 -6 -3 -6 -3 -6 -3 -7 -6 -4 -6 -12 -22 -3 -8 0 -6 2 -6 3 -6 11 -14 4 -7 4 -9 3 -10 0 -8 -2 -8 -3 -8 -8 -14 -1 -4 0 -2 3 -4 4 -4 4 -2 8 -3z"/>
<path fill="#4646ff" d="M949 99l8 -1 10 -1 10 1 10 2 8 2 8 3 7 4 3 4 2 4 -1 4 -9 14 -2 6 -2 6 -1 8 1 6 3 10 6 10 7 9 14 15 3 4 1 4 0 4 -2 6 -17 24 -5 6 -8 6 -8 4 -8 3 -10 3 -6 0 -6 0 -6 0 -6 -1 -6 -2 -6 -3 -10 -6 -6 -5 -5 -7 -11 -18 -3 -6 -1 -4 0 -6 2 -6 4 -6 10 -14 4 -7 5 -11 2 -8 0 -8 -2 -8 -3 -8 -9 -14 -1 -4 0 -2 3 -4 2 -2 5 -3 10 -4z"/>
<path fill="#4040ff" d="M951 99l8 -1 10 0 8 0 10 2 8 2 8 3 5 4 4 4 2 4 -1 4 -9 14 -4 10 -2 8 1 8 3 10 5 8 6 9 15 17 2 4 1 4 1 2 -1 4 -3 6 -15 21 -6 7 -6 4 -8 4 -9 4 -9 2 -6 0 -6 0 -10 -2 -10 -3 -6 -3 -4 -3 -6 -6 -6 -8 -10 -15 -2 -6 -1 -4 -1 -6 2 -6 4 -6 10 -15 4 -7 5 -10 1 -6 1 -4 -1 -8 -2 -8 -4 -8 -8 -12 -1 -4 0 -2 3 -4 4 -3 4 -3 10 -4z"/>
<path fill="#3a3aff" d="M954 99l9 -1 8 0 8 1 8 1 8 3 8 3 4 3 4 4 1 4 0 4 -10 14 -4 10 -2 8 0 6 1 4 2 6 5 10 7 9 14 17 2 4 1 4 0 2 0 4 -3 6 -14 19 -6 7 -6 5 -8 4 -8 3 -10 2 -10 0 -10 -2 -10 -4 -8 -5 -4 -3 -4 -4 -10 -14 -5 -10 -2 -4 0 -4 0 -4 1 -6 4 -6 9 -14 5 -8 4 -10 2 -6 1 -4 0 -4 -1 -4 -2 -8 -4 -8 -9 -12 -1 -4 0 -2 3 -4 2 -2 7 -4 10 -4z"/>
<path fill="#3333ff" d="M958 99l9 -1 8 1 8 1 8 2 6 2 6 3 4 2 3 4 1 4 -1 4 -10 14 -4 10 -2 8 0 6 2 8 5 10 7 10 14 18 2 4 1 4 0 6 -3 6 -12 16 -7 8 -6 5 -8 5 -8 2 -10 2 -10 0 -10 -2 -8 -4 -8 -5 -4 -4 -4 -5 -9 -12 -4 -8 -2 -4 0 -4 0 -4 1 -6 4 -6 10 -16 5 -8 4 -10 2 -8 0 -4 -1 -4 -3 -8 -4 -8 -6 -8 -3 -4 -1 -4 0 -2 3 -4 2 -2 8 -5 12 -3z"/>
<path fill="#2c2cff" d="M946 101l11 -2 10 0 10 0 10 2 8 3 7 3 6 4 2 4 0 2 -1 4 -2 4 -7 8 -5 8 -2 8 -1 4 0 4 2 8 5 12 5 8 13 16 4 6 1 6 0 4 -2 6 -4 6 -9 12 -7 8 -5 4 -6 3 -7 3 -7 2 -10 0 -8 -1 -10 -3 -8 -5 -8 -7 -8 -11 -6 -9 -2 -4 -1 -4 0 -6 1 -6 4 -6 9 -14 6 -10 4 -10 2 -8 0 -4 -1 -4 -3 -8 -4 -8 -7 -8 -3 -4 -1 -4 0 -2 3 -4 5 -4 8 -4z"/>
<path fill="#2626ff" d="M948 101l9 -1 10 -1 10 1 10 2 8 2 6 3 6 4 2 4 0 2 -1 4 -3 4 -7 8 -4 8 -4 8 0 4 0 4 2 8 5 12 6 8 12 16 3 6 2 6 0 4 -3 6 -3 6 -8 10 -7 7 -6 5 -6 4 -6 2 -6 2 -10 0 -8 -1 -8 -2 -8 -5 -8 -7 -8 -10 -6 -9 -2 -4 -1 -4 0 -6 1 -6 3 -6 11 -16 5 -8 4 -10 2 -8 0 -4 -1 -4 -3 -8 -5 -8 -7 -8 -3 -4 -1 -4 0 -2 3 -4 5 -4 9 -4z"/>
<path fill="#1f1fff" d="M950 101l9 -1 10 0 8 0 10 2 8 2 6 3 5 4 1 2 1 2 0 4 -1 3 -10 11 -5 8 -4 8 -1 4 0 4 2 8 6 12 6 8 10 14 4 6 2 6 0 6 -2 6 -4 6 -8 10 -6 6 -6 5 -6 3 -6 3 -6 1 -8 0 -8 -1 -8 -3 -8 -4 -8 -8 -8 -10 -5 -8 -2 -4 0 -4 0 -6 2 -6 4 -6 9 -14 5 -8 4 -10 2 -8 0 -4 -1 -4 -3 -8 -5 -8 -10 -11 -2 -3 0 -4 1 -2 2 -2 5 -4 8 -3z"/>
<path fill="#1818ff" d="M952 101l9 -1 8 0 8 1 10 1 8 3 6 3 4 3 1 2 1 2 0 2 -1 4 -3 4 -9 10 -5 8 -4 8 0 6 1 4 1 4 5 10 5 8 12 16 4 6 1 4 1 4 -1 6 -2 6 -5 6 -6 8 -7 6 -5 4 -6 3 -6 2 -6 1 -8 0 -8 -1 -8 -4 -6 -4 -8 -8 -8 -9 -4 -8 -1 -6 0 -6 2 -6 3 -6 11 -16 5 -8 4 -10 2 -6 -1 -6 -3 -8 -5 -8 -10 -10 -3 -4 -1 -4 0 -2 1 -2 1 -2 3 -2 4 -2 8 -4z"/>
<path fill="#1111ff" d="M955 101l10 -1 8 0 8 1 8 2 8 3 4 3 3 2 1 2 1 2 1 2 -1 2 -1 2 -3 4 -10 10 -6 8 -3 8 -1 6 1 4 2 4 5 10 7 10 10 14 4 6 2 6 0 6 -3 6 -3 5 -6 8 -6 6 -6 4 -6 4 -6 2 -6 1 -8 0 -6 -1 -8 -3 -7 -4 -7 -7 -8 -9 -4 -8 -2 -6 1 -6 2 -6 3 -6 11 -16 6 -10 4 -10 1 -6 -1 -6 -4 -8 -4 -6 -12 -12 -3 -4 0 -4 1 -2 1 -2 3 -2 5 -3 10 -3z"/>
<path fill="#0a0aff" d="M959 101l8 0 8 0 8 1 8 2 6 3 6 4 2 2 0 2 1 2 -1 2 -2 4 -13 12 -5 6 -4 8 -2 6 1 6 5 10 8 12 12 16 4 6 1 4 1 4 -1 6 -3 6 -4 6 -6 6 -6 6 -4 2 -6 3 -6 2 -6 1 -8 0 -6 -2 -8 -3 -6 -5 -7 -6 -6 -8 -3 -6 -2 -6 0 -6 3 -6 3 -6 11 -16 7 -12 4 -8 1 -6 -1 -6 -4 -6 -6 -8 -12 -12 -3 -4 0 -2 0 -2 1 -2 2 -3 4 -2 4 -2 10 -3z"/>
<path fill="#0303ff" d="M947 103l8 -1 10 -1 10 0 8 2 8 2 6 2 5 4 2 2 0 2 1 2 -2 4 -3 4 -10 8 -5 6 -8 10 -1 4 -1 2 1 4 4 8 10 14 12 16 4 6 2 4 1 4 -1 6 -1 4 -3 6 -5 6 -6 6 -4 3 -6 3 -4 2 -6 2 -8 0 -6 -1 -8 -2 -6 -4 -8 -7 -6 -6 -3 -6 -3 -6 0 -4 0 -4 1 -4 2 -4 23 -34 4 -6 1 -4 0 -4 -1 -2 -5 -8 -7 -8 -13 -12 -3 -4 0 -2 0 -2 1 -2 1 -2 3 -2 7 -4z"/>
<path fill="#0500fa" d="M949 103l8 -1 10 -1 8 1 8 1 8 2 6 3 4 3 2 2 1 2 0 2 -1 2 -2 4 -17 14 -13 14 -3 4 0 2 2 2 11 13 18 23 4 6 2 4 1 4 1 4 -1 4 -1 4 -4 6 -4 5 -5 5 -5 4 -6 3 -4 2 -6 1 -8 0 -6 -1 -6 -2 -6 -4 -8 -7 -5 -6 -4 -6 -1 -6 0 -4 1 -4 3 -8 20 -27 11 -13 1 -2 1 -2 -2 -2 -13 -14 -6 -6 -10 -8 -4 -4 -1 -2 0 -2 0 -2 1 -2 1 -2 3 -2 8 -4z"/>
<path fill="#0c00f3" d="M951 103l10 -1 10 0 10 1 8 2 6 2 5 4 2 2 1 2 0 2 -1 2 -3 4 -2 2 -24 19 -4 2 -2 1 -4 -1 -6 -3 -10 -8 -12 -9 -5 -5 -2 -4 1 -2 0 -2 2 -2 3 -2 7 -4zM960 167l3 -2 2 0 4 0 4 3 4 3 8 9 13 17 5 8 2 6 0 4 -2 6 -4 6 -4 5 -6 5 -6 4 -6 3 -6 1 -8 0 -6 -1 -6 -2 -6 -4 -6 -5 -5 -6 -4 -6 -1 -6 0 -4 0 -4 2 -4 3 -6 17 -21 6 -7z"/>
<path fill="#1300ec" d="M953 103l8 -1 10 0 10 1 8 2 6 3 4 3 2 2 1 2 0 2 -1 2 -2 3 -4 4 -20 14 -4 2 -4 1 -4 -1 -2 0 -6 -3 -18 -13 -6 -5 -2 -4 0 -2 1 -2 2 -2 3 -2 8 -4zM961 171l4 -1 4 0 4 2 6 5 10 11 9 11 3 6 2 6 0 4 -2 6 -2 4 -5 6 -5 4 -6 4 -6 3 -6 1 -6 1 -6 -1 -6 -2 -6 -4 -6 -5 -5 -5 -4 -6 -2 -6 0 -4 1 -4 2 -4 3 -6 7 -9 8 -9 6 -6z"/>
<path fill="#1b00e4" d="M955 103l10 -1 8 0 8 2 8 2 6 2 3 3 2 2 1 2 0 2 -1 2 -3 4 -4 4 -18 10 -4 2 -4 1 -4 0 -4 -2 -12 -6 -10 -7 -5 -4 -2 -4 0 -2 1 -2 2 -2 3 -2 3 -2 6 -2zM960 175l5 -2 4 1 4 2 6 4 10 10 7 9 3 6 2 6 0 4 -2 6 -3 4 -3 4 -4 4 -6 4 -6 3 -6 1 -6 1 -6 -1 -6 -2 -6 -4 -6 -5 -5 -5 -3 -6 -1 -4 0 -4 1 -4 1 -4 4 -6 7 -9 6 -6 6 -5z"/>
<path fill="#2200dd" d="M959 103l8 0 8 0 8 1 8 3 4 2 2 2 2 2 1 2 0 2 -1 2 -2 3 -4 4 -10 6 -8 4 -6 1 -4 1 -4 -1 -4 -1 -12 -6 -8 -6 -4 -3 -1 -2 -1 -2 0 -2 1 -2 2 -2 3 -2 4 -2 8 -3zM959 179l4 -2 4 0 4 1 6 3 8 7 7 9 4 6 3 6 0 4 -1 4 -1 4 -4 6 -4 4 -6 4 -4 2 -6 2 -6 1 -6 -1 -6 -1 -4 -2 -6 -4 -5 -5 -3 -5 -3 -5 0 -4 0 -4 1 -4 4 -6 4 -6 6 -6 6 -6z"/>
<path fill="#2a00d5" d="M948 105l9 -2 8 0 10 0 8 2 8 2 5 4 2 2 1 2 0 2 0 2 -2 2 -2 2 -6 4 -8 5 -6 2 -6 2 -4 0 -4 -1 -10 -3 -8 -4 -7 -5 -3 -4 -1 -2 0 -2 1 -2 2 -2 6 -4zM961 181l4 -1 4 0 4 2 6 4 6 5 6 7 3 5 3 6 0 4 -1 4 -1 4 -4 5 -5 5 -5 3 -4 2 -6 2 -6 0 -6 -1 -6 -2 -4 -3 -5 -3 -4 -4 -2 -4 -2 -6 0 -4 0 -4 3 -5 3 -5 5 -6 6 -5 4 -3z"/>
<path fill="#3200cd" d="M950 105l9 -2 8 0 8 1 8 1 8 3 5 3 1 2 1 2 0 2 0 2 -2 2 -3 3 -6 4 -8 3 -6 2 -4 1 -6 0 -4 -1 -10 -3 -8 -5 -6 -4 -1 -2 -1 -2 0 -2 1 -2 3 -3 6 -3zM958 185l5 -2 4 0 4 1 6 3 6 4 5 6 4 6 2 4 1 4 0 4 -1 4 -3 4 -3 4 -3 3 -5 3 -5 2 -6 1 -6 0 -6 -1 -4 -2 -6 -4 -4 -4 -3 -4 -2 -4 -1 -4 1 -4 1 -4 2 -4 4 -5 4 -4 4 -4z"/>
<path fill="#3a00c5" d="M951 105l8 -1 8 -1 8 1 8 2 6 1 6 4 1 2 1 2 0 2 0 2 -2 2 -2 2 -6 4 -8 3 -6 2 -6 1 -4 0 -6 -1 -10 -4 -6 -3 -5 -4 -1 -2 -1 -2 0 -2 1 -2 2 -2 2 -2 5 -2zM960 187l5 -1 4 0 4 1 4 2 6 5 4 4 3 5 2 4 1 4 0 4 -3 6 -3 4 -4 4 -4 2 -4 2 -4 1 -6 0 -6 -1 -4 -1 -6 -3 -4 -4 -3 -4 -2 -4 -1 -4 1 -4 1 -4 2 -4 4 -5 4 -4 4 -3z"/>
<path fill="#4200bd" d="M953 105l8 -1 8 0 8 1 6 1 6 2 5 3 2 2 0 2 0 2 0 2 -2 2 -3 3 -6 3 -8 3 -6 2 -6 0 -4 0 -6 -2 -8 -3 -6 -3 -4 -3 -2 -2 0 -2 0 -2 1 -2 3 -3 6 -3zM961 189l6 -1 4 1 4 2 4 2 4 3 4 5 2 4 2 4 0 4 -1 4 -3 6 -6 5 -4 2 -4 2 -4 0 -6 0 -4 -1 -4 -1 -4 -2 -4 -4 -3 -3 -2 -4 -1 -4 1 -4 1 -4 2 -4 4 -4 4 -4 4 -2z"/>
<path fill="#4a00b5" d="M955 105l8 -1 8 0 8 1 6 2 5 2 3 2 2 2 1 2 0 2 -1 2 -4 4 -6 3 -8 3 -6 2 -6 0 -6 -1 -4 -1 -8 -3 -7 -3 -4 -4 0 -2 0 -2 0 -2 2 -2 4 -2 5 -2zM963 191l4 0 4 0 4 2 4 2 6 6 2 4 1 4 1 4 0 2 -2 4 -2 3 -3 3 -3 2 -4 2 -4 1 -6 1 -4 -1 -4 -1 -4 -2 -3 -2 -3 -4 -2 -2 -1 -4 0 -6 1 -4 3 -4 3 -4 4 -3 4 -2z"/>
<path fill="#5200ad" d="M958 105l13 0 6 0 6 2 6 2 3 2 2 2 1 2 0 2 -1 2 -2 2 -3 2 -4 3 -10 3 -8 1 -8 0 -8 -3 -8 -3 -4 -3 -2 -2 -1 -2 0 -2 1 -2 2 -2 4 -2 5 -2zM958 195l3 -1 4 -1 6 1 6 3 4 3 2 3 2 2 1 4 1 4 -1 2 -1 4 -2 2 -4 4 -4 2 -4 1 -4 1 -4 -1 -4 -1 -4 -1 -4 -3 -2 -2 -2 -4 -1 -2 0 -4 1 -4 2 -4 2 -3 4 -3z"/>
<path fill="#5a00a5" d="M963 105l12 0 10 3 6 3 2 2 1 2 0 2 -1 2 -2 2 -6 4 -8 3 -10 1 -8 0 -8 -2 -8 -4 -5 -4 -1 -2 0 -2 1 -2 2 -2 3 -2 8 -3zM959 197l6 -2 6 1 5 3 5 4 2 3 1 3 0 4 -1 4 -1 2 -4 4 -3 2 -4 1 -4 1 -4 -1 -4 -1 -4 -2 -5 -4 -1 -3 -1 -3 0 -4 1 -2 2 -3 2 -3 4 -3z"/>
<path fill="#62009d" d="M951 107l6 -1 8 -1 8 0 7 2 6 2 4 2 2 2 1 2 0 2 -1 2 -3 3 -4 2 -6 3 -4 1 -6 1 -6 0 -6 -1 -6 -2 -7 -3 -3 -3 -2 -1 -1 -2 0 -2 1 -2 2 -2 4 -2zM961 199l6 -1 4 1 4 2 2 1 3 5 1 4 0 4 -2 4 -4 3 -6 2 -6 0 -4 -1 -2 -1 -4 -3 -1 -2 -1 -4 0 -3 1 -3 3 -4 2 -2z"/>
<path fill="#6a0095" d="M952 107l7 -1 6 -1 8 1 6 1 6 2 4 2 2 2 1 2 0 2 -1 2 -4 3 -4 2 -6 3 -6 1 -6 0 -10 -1 -6 -2 -4 -2 -4 -4 -2 -2 0 -2 1 -2 2 -2 4 -2zM959 203l4 -2 4 0 4 1 4 2 2 3 1 4 0 4 -1 2 -2 2 -2 1 -2 1 -4 1 -6 -1 -4 -2 -2 -2 -1 -2 0 -4 1 -4 2 -2z"/>
<path fill="#73008c" d="M954 107l7 -1 8 0 6 0 6 2 4 1 4 3 1 1 1 2 0 2 -1 2 -3 3 -4 2 -6 2 -6 1 -6 0 -10 -1 -6 -2 -6 -3 -2 -3 -1 -1 0 -2 1 -2 2 -2 4 -2zM963 205l4 -1 2 1 3 2 2 2 0 2 0 2 -1 2 -2 2 -2 1 -4 0 -4 -1 -2 -2 -1 -2 0 -2 0 -2 3 -3z"/>
<path fill="#7b0084" d="M956 107l7 -1 6 0 6 1 6 1 6 3 2 2 1 2 0 2 -1 2 -2 2 -4 2 -8 3 -8 1 -8 -1 -6 -1 -6 -3 -5 -3 -1 -2 0 -2 2 -3 1 -1 4 -2z"/>
<path fill="#84007b" d="M959 107l12 0 10 2 5 2 2 2 1 2 0 2 -1 2 -2 2 -5 2 -6 2 -8 1 -8 0 -6 -2 -6 -2 -4 -3 -1 -2 0 -2 1 -2 2 -2 6 -3z"/>
<path fill="#8d0072" d="M964 107l11 1 8 2 4 3 1 2 0 2 -1 2 -3 2 -5 2 -6 2 -8 1 -8 -1 -6 -2 -4 -2 -3 -2 -1 -2 0 -2 1 -2 3 -2 4 -2 4 -1z"/>
<path fill="#95006a" d="M953 109l6 -1 6 -1 6 0 6 1 6 2 3 3 1 2 0 2 -1 2 -3 2 -4 2 -4 1 -8 1 -10 -1 -5 -1 -4 -2 -3 -2 -1 -2 0 -2 1 -2 3 -2z"/>
<path fill="#9e0061" d="M954 109l11 -1 6 0 6 1 5 2 3 2 1 2 0 2 -1 2 -3 2 -7 2 -8 1 -6 0 -4 -1 -8 -2 -2 -2 -2 -2 0 -2 1 -2 3 -2z"/>
<path fill="#a70058" d="M956 109l11 -1 6 0 4 1 4 2 3 2 1 2 0 2 -2 2 -3 2 -7 2 -4 1 -6 0 -8 -2 -4 -1 -3 -2 -2 -2 0 -2 1 -2 3 -2z"/>
<path fill="#b0004f" d="M959 109l10 -1 8 2 3 1 3 2 1 2 0 2 -2 2 -3 2 -6 2 -6 0 -6 0 -4 -1 -5 -1 -3 -2 -2 -2 0 -2 1 -2 3 -2z"/>
<path fill="#b90046" d="M963 109l8 0 7 2 4 2 1 2 0 2 -2 2 -4 2 -6 1 -6 1 -6 -1 -5 -1 -4 -2 -2 -2 0 -2 1 -2 2 -1 4 -2z"/>
<path fill="#c2003d" d="M955 111l4 -1 6 -1 6 1 4 0 5 3 2 2 -1 2 -2 2 -6 2 -6 1 -8 -1 -6 -2 -3 -2 -1 -2 2 -2z"/>
<path fill="#cb0034" d="M956 111l9 -1 4 0 6 1 4 2 1 2 0 2 -3 2 -6 2 -6 1 -6 -1 -6 -2 -2 -2 0 -2 1 -2z"/>
<path fill="#d4002b" d="M959 111l8 -1 6 1 4 2 2 2 0 2 -4 2 -6 2 -6 0 -6 -1 -2 -1 -3 -2 0 -2 2 -2z"/>
<path fill="#de0021" d="M963 111l6 0 6 1 1 1 2 2 -1 2 -4 2 -4 1 -4 0 -4 0 -4 -1 -3 -2 -1 -2 2 -2z"/>
<path fill="#e70018" d="M957 113l6 -1 6 0 5 1 2 2 -1 2 -4 2 -4 0 -4 0 -3 0 -4 -2 -1 -2z"/>
<path fill="#f1000e" d="M960 113l5 -1 4 0 2 1 3 2 -1 2 -2 1 -4 1 -4 0 -5 -2 -1 -2z"/>
<path fill="#fa0005" d="M960 115l3 -2 2 0 4 1 2 1 -1 2 -5 1 -4 -1z"/>
</g>
<path d="M851.5 47V581M1048.5 47V581" stroke="#fff" stroke-width="1" fill="none"/>
</g>
<g clip-path="url(#c1)">
<path d="M699.76 245.58H1232.19" stroke="#d62020" stroke-width="1.5" stroke-dasharray="6 6" stroke-linecap="round" fill="none"/>
<path d="M919.54 580.24V47.81" stroke="#006400" stroke-width="1.5" stroke-dasharray="6 6" stroke-linecap="round" fill="none"/>
<path d="M1011.33 580.24V47.81" stroke="#006400" stroke-width="1.5" stroke-dasharray="6 6" stroke-linecap="round" fill="none"/>
</g>
<rect x="699.76" y="47.81" width="532.43" height="532.43" fill="none" stroke="#000" stroke-width="0.75"/>
<path d="M749.44 580.24H1181.43M749.44 580.24v5.98M857.44 580.24v5.98M965.44 580.24v5.98M1073.43 580.24v5.98M1181.43 580.24v5.98" stroke="#000" stroke-width="0.75" stroke-linecap="round" fill="none"/>
<text x="738.94" y="601.75" font-size="10.0" textLength="21" lengthAdjust="spacing">-400</text>
<text x="846.94" y="601.75" font-size="10.0" textLength="21" lengthAdjust="spacing">-200</text>
<text x="962.44" y="601.75" font-size="10.0" textLength="6" lengthAdjust="spacing">0</text>
<text x="1064.43" y="601.75" font-size="10.0" textLength="18" lengthAdjust="spacing">200</text>
<text x="1172.43" y="601.75" font-size="10.0" textLength="18" lengthAdjust="spacing">400</text>
<path d="M699.76 568.27V47.81M699.76 568.27h-5.98M699.76 481.53h-5.98M699.76 394.78h-5.98M699.76 308.04h-5.98M699.76 221.30h-5.98M699.76 134.55h-5.98M699.76 47.81h-5.98" stroke="#000" stroke-width="0.75" stroke-linecap="round" fill="none"/>
<text transform="translate(685.42 574.27) rotate(-90)" font-size="10.0" textLength="12" lengthAdjust="spacing">70</text>
<text transform="translate(685.42 487.53) rotate(-90)" font-size="10.0" textLength="12" lengthAdjust="spacing">75</text>
<text transform="translate(685.42 400.78) rotate(-90)" font-size="10.0" textLength="12" lengthAdjust="spacing">80</text>
<text transform="translate(685.42 314.04) rotate(-90)" font-size="10.0" textLength="12" lengthAdjust="spacing">85</text>
<text transform="translate(685.42 227.30) rotate(-90)" font-size="10.0" textLength="12" lengthAdjust="spacing">90</text>
<text transform="translate(685.42 140.55) rotate(-90)" font-size="10.0" textLength="12" lengthAdjust="spacing">95</text>
<text transform="translate(685.42 56.81) rotate(-90)" font-size="10.0" textLength="18" lengthAdjust="spacing">100</text>
<text x="799.67" y="32.01" font-size="21.6" font-weight="bold" textLength="333.6" lengthAdjust="spacingAndGlyphs">Density heat map for the top hits</text>
<text x="879.67" y="625.66" font-size="15.9" textLength="173.4" lengthAdjust="spacingAndGlyphs">Distance to peak summit</text>
<text transform="translate(661.51 352.17) rotate(-90)" font-size="15.9" textLength="75.5" lengthAdjust="spacingAndGlyphs">Motif score</text>
<path d="M79.4 1200.4L80.4 1200.4L81.4 1200.4L82.4 1200.4L83.4 1200.4L84.4 1200.4L85.4 1200.4L86.4 1200.4L87.4 1200.4L88.4 1200.4L89.4 1200.4L90.4 1200.4L91.4 1200.4L92.4 1200.4L93.4 1200.4L94.4 1200.4L95.4 1200.4L96.4 1200.4L97.4 1200.4L98.4 1200.4L99.4 1200.4L100.4 1200.4L101.4 1200.4L102.4 1200.4L103.4 1200.4L104.4 1200.4L105.4 1200.4L106.4 1200.4L107.4 1200.4L108.4 1200.4L109.4 1200.4L110.4 1200.4L111.4 1200.4L112.4 1200.4L113.4 1200.4L114.4 1200.4L115.4 1200.4L116.4 1200.4L117.4 1200.4L118.4 1200.4L119.4 1200.4L120.4 1200.4L121.4 1200.4L122.4 1200.4L123.4 1200.4L124.4 1200.4L125.4 1200.4L126.4 1200.3L127.4 1200.3L128.4 1200.3L129.4 1200.3L130.4 1200.3L131.4 1200.3L132.4 1200.3L133.4 1200.3L134.4 1200.3L135.4 1200.3L136.4 1200.3L137.4 1200.3L138.4 1200.3L139.4 1200.3L140.4 1200.3L141.4 1200.3L142.4 1200.3L143.4 1200.3L144.4 1200.3L145.4 1200.3L146.4 1200.3L147.4 1200.3L148.4 1200.3L149.4 1200.3L150.4 1200.3L151.4 1200.3L152.4 1200.3L153.4 1200.3L154.4 1200.3L155.4 1200.3L156.4 1200.3L157.4 1200.3L158.4 1200.3L159.4 1200.3L160.4 1200.3L161.4 1200.3L162.4 1200.3L163.4 1200.3L164.4 1200.3L165.4 1200.3L166.4 1200.3L167.4 1200.3L168.4 1200.2L169.4 1200.2L170.4 1200.2L171.4 1200.2L172.4 1200.2L173.4 1200.2L174.4 1200.2L175.4 1200.2L176.4 1200.2L177.4 1200.2L178.4 1200.2L179.4 1200.2L180.4 1200.2L181.4 1200.2L182.4 1200.2L183.4 1200.2L184.4 1200.2L185.4 1200.2L186.4 1200.2L187.4 1200.2L188.4 1200.2L189.4 1200.2L190.4 1200.2L191.4 1200.1L192.4 1200.1L193.4 1200.1L194.4 1200.1L195.4 1200.1L196.4 1200.1L197.4 1200.1L198.4 1200.1L199.4 1200.1L200.4 1200.1L201.4 1200.1L202.4 1200.1L203.4 1200.1L204.4 1200.1L205.4 1200.1L206.4 1200.1L207.4 1200.1L208.4 1200.0L209.4 1200.0L210.4 1200.0L211.4 1200.0L212.4 1200.0L213.4 1200.0L214.4 1200.0L215.4 1200.0L216.4 1200.0L217.4 1200.0L218.4 1200.0L219.4 1200.0L220.4 1200.0L221.4 1199.9L222.4 1199.9L223.4 1199.9L224.4 1199.9L225.4 1199.9L226.4 1199.9L227.4 1199.9L228.4 1199.9L229.4 1199.8L230.4 1199.8L231.4 1199.8L232.4 1199.8L233.4 1199.8L234.4 1199.7L235.4 1199.7L236.4 1199.7L237.4 1199.7L238.4 1199.6L239.4 1199.6L240.4 1199.6L241.4 1199.6L242.4 1199.5L243.4 1199.5L244.4 1199.4L245.4 1199.4L246.4 1199.3L247.4 1199.3L248.4 1199.2L249.4 1199.2L250.4 1199.1L251.4 1199.0L252.4 1198.9L253.4 1198.9L254.4 1198.8L255.4 1198.7L256.4 1198.6L257.4 1198.4L258.4 1198.3L259.4 1198.0L260.4 1197.7L261.4 1197.4L262.4 1197.0L263.4 1196.6L264.4 1196.2L265.4 1195.8L266.4 1195.4L267.4 1195.0L268.4 1194.7L269.4 1194.4L270.4 1194.1L271.4 1193.8L272.4 1193.5L273.4 1193.2L274.4 1192.8L275.4 1192.5L276.4 1192.1L277.4 1191.7L278.4 1191.2L279.4 1190.7L280.4 1190.0L281.4 1189.2L282.4 1188.3L283.4 1187.2L284.4 1186.0L285.4 1184.8L286.4 1183.6L287.4 1182.3L288.4 1180.9L289.4 1179.4L290.4 1177.8L291.4 1176.1L292.4 1174.4L293.4 1172.6L294.4 1170.8L295.4 1168.9L296.4 1166.9L297.4 1164.8L298.4 1162.7L299.4 1160.4L300.4 1158.1L301.4 1155.7L302.4 1153.1L303.4 1150.5L304.4 1147.7L305.4 1144.9L306.4 1141.9L307.4 1138.7L308.4 1135.4L309.4 1131.9L310.4 1128.3L311.4 1124.6L312.4 1121.0L313.4 1117.4L314.4 1113.9L315.4 1110.3L316.4 1106.6L317.4 1102.9L318.4 1099.0L319.4 1095.0L320.4 1090.8L321.4 1086.5L322.4 1082.1L323.4 1077.5L324.4 1072.7L325.4 1067.7L326.4 1062.5L327.4 1057.2L328.4 1051.6L329.4 1045.7L330.4 1039.4L331.4 1032.5L332.4 1025.0L333.4 1017.1L334.4 1009.3L335.4 1001.8L336.4 994.5L337.4 987.0L338.4 979.4L339.4 971.3L340.4 963.5L341.4 956.8L342.4 950.8L343.4 945.1L344.4 939.4L345.4 933.5L346.4 927.6L347.4 921.8L348.4 916.1L349.4 910.5L350.4 905.2L351.4 900.0L352.4 894.9L353.4 889.9L354.4 885.0L355.4 880.3L356.4 875.7L357.4 871.2L358.4 866.9L359.4 862.7L360.4 858.6L361.4 854.5L362.4 850.4L363.4 846.3L364.4 842.2L365.4 838.2L366.4 834.2L367.4 830.2L368.4 826.3L369.4 822.5L370.4 818.8L371.4 815.0L372.4 811.4L373.4 807.7L374.4 804.1L375.4 800.5L376.4 797.0L377.4 793.4L378.4 789.9L379.4 786.5L380.4 783.0L381.4 779.5L382.4 776.0L383.4 772.5L384.4 768.8L385.4 765.0L386.4 761.2L387.4 757.8L388.4 754.9L389.4 752.3L390.4 749.8L391.4 747.5L392.4 745.2L393.4 743.1L394.4 741.1L395.4 739.2L396.4 737.3L397.4 735.3L398.4 733.3L399.4 731.0L400.4 728.5L401.4 725.9L402.4 723.3L403.4 720.8L404.4 718.5L405.4 716.0L406.4 713.8L407.4 712.0L408.4 710.6L409.4 709.3L410.4 708.3L411.4 707.9L412.4 708.2L413.4 709.1L414.4 710.4L415.4 711.9L416.4 714.3L417.4 717.5L418.4 721.2L419.4 725.3L420.4 730.3L421.4 736.0L422.4 741.9L423.4 748.1L424.4 754.7L425.4 761.6L426.4 768.6L427.4 775.9L428.4 783.5L429.4 790.9L430.4 797.6L431.4 804.0L432.4 810.1L433.4 815.7L434.4 820.7L435.4 825.1L436.4 829.3L437.4 833.3L438.4 837.3L439.4 840.9L440.4 844.5L441.4 848.2L442.4 852.1L443.4 856.3L444.4 860.8L445.4 865.3L446.4 870.0L447.4 874.5L448.4 879.1L449.4 883.9L450.4 888.6L451.4 893.0L452.4 897.1L453.4 900.8L454.4 904.3L455.4 907.6L456.4 910.7L457.4 913.5L458.4 916.0L459.4 918.3L460.4 920.4L461.4 922.4L462.4 924.3L463.4 926.4L464.4 928.6L465.4 931.0L466.4 933.6L467.4 936.3L468.4 939.1L469.4 942.0L470.4 945.0L471.4 948.3L472.4 951.8L473.4 955.2L474.4 958.3L475.4 961.1L476.4 963.7L477.4 966.2L478.4 967.9L479.4 968.8L480.4 969.2L481.4 968.5L482.4 966.5L483.4 963.7L484.4 958.6L485.4 951.7L486.4 943.8L487.4 933.6L488.4 921.7L489.4 909.2L490.4 895.6L491.4 883.3L492.4 871.6L493.4 862.1L494.4 856.9L495.4 853.2L496.4 852.0L497.4 854.1L498.4 858.3L499.4 864.7L500.4 876.1L501.4 889.5L502.4 905.2L503.4 923.4L504.4 940.9L505.4 963.9L506.4 1000.8L507.4 1012.1L508.4 1024.7L509.4 1037.0L510.4 1049.5L511.4 1062.4L512.4 1074.2L513.4 1084.7L514.4 1094.4L515.4 1103.1L516.4 1111.4L517.4 1119.0L518.4 1125.5L519.4 1130.6L520.4 1134.9L521.4 1138.6L522.4 1142.0L523.4 1145.1L524.4 1148.0L525.4 1151.0L526.4 1153.9L527.4 1156.7L528.4 1159.4L529.4 1162.0L530.4 1164.5L531.4 1166.9L532.4 1169.3L533.4 1171.5L534.4 1173.8L535.4 1176.0L536.4 1178.1L537.4 1180.0L538.4 1181.8L539.4 1183.4L540.4 1184.9L541.4 1186.3L542.4 1187.6L543.4 1188.8L544.4 1189.9L545.4 1190.9L546.4 1191.8L547.4 1192.7L548.4 1193.5L549.4 1194.2L550.4 1194.9L551.4 1195.6L552.4 1196.2L553.4 1196.7L554.4 1197.2L555.4 1197.7L556.4 1198.1L557.4 1198.5L558.4 1198.9L559.4 1199.2L560.4 1199.4L561.4 1199.5L562.4 1199.6L563.4 1199.8L564.4 1199.9L565.4 1200.0L566.4 1200.1L567.4 1200.2L568.4 1200.3L569.4 1200.3L570.4 1200.4L571.4 1200.4L572.4 1200.4L572.7 1200.4Z" fill="#f5deb3" stroke="#000" stroke-width="1.15" stroke-linejoin="round"/>
<g clip-path="url(#c2)">
<path d="M384.45 1220.24V687.81" stroke="#d62020" stroke-width="1.5" stroke-dasharray="6 6" stroke-linecap="round" fill="none"/>
</g>
<rect x="59.76" y="687.81" width="532.43" height="532.43" fill="none" stroke="#000" stroke-width="0.75"/>
<path d="M109.09 1220.24H553.22M109.09 1220.24v5.98M183.11 1220.24v5.98M257.13 1220.24v5.98M331.16 1220.24v5.98M405.18 1220.24v5.98M479.20 1220.24v5.98M553.22 1220.24v5.98" stroke="#000" stroke-width="0.75" stroke-linecap="round" fill="none"/>
<text x="103.09" y="1241.75" font-size="10.0" textLength="12" lengthAdjust="spacing">70</text>
<text x="177.11" y="1241.75" font-size="10.0" textLength="12" lengthAdjust="spacing">75</text>
<text x="251.13" y="1241.75" font-size="10.0" textLength="12" lengthAdjust="spacing">80</text>
<text x="325.16" y="1241.75" font-size="10.0" textLength="12" lengthAdjust="spacing">85</text>
<text x="399.18" y="1241.75" font-size="10.0" textLength="12" lengthAdjust="spacing">90</text>
<text x="473.20" y="1241.75" font-size="10.0" textLength="12" lengthAdjust="spacing">95</text>
<text x="544.22" y="1241.75" font-size="10.0" textLength="18" lengthAdjust="spacing">100</text>
<path d="M59.76 1200.52V749.52M59.76 1200.52h-5.98M59.76 1110.32h-5.98M59.76 1020.12h-5.98M59.76 929.92h-5.98M59.76 839.72h-5.98M59.76 749.52h-5.98" stroke="#000" stroke-width="0.75" stroke-linecap="round" fill="none"/>
<text transform="translate(45.42 1211.02) rotate(-90)" font-size="10.0" textLength="21" lengthAdjust="spacing">0.00</text>
<text transform="translate(45.42 1120.82) rotate(-90)" font-size="10.0" textLength="21" lengthAdjust="spacing">0.02</text>
<text transform="translate(45.42 1030.62) rotate(-90)" font-size="10.0" textLength="21" lengthAdjust="spacing">0.04</text>
<text transform="translate(45.42 940.42) rotate(-90)" font-size="10.0" textLength="21" lengthAdjust="spacing">0.06</text>
<text transform="translate(45.42 850.22) rotate(-90)" font-size="10.0" textLength="21" lengthAdjust="spacing">0.08</text>
<text transform="translate(45.42 760.02) rotate(-90)" font-size="10.0" textLength="21" lengthAdjust="spacing">0.10</text>
<text x="177.28" y="672.01" font-size="21.6" font-weight="bold" textLength="297.4" lengthAdjust="spacingAndGlyphs">Motif score threshold: 88.600</text>
<text x="287.83" y="1265.66" font-size="15.9" textLength="75.5" lengthAdjust="spacingAndGlyphs">Motif score</text>
<text transform="translate(21.51 980.82) rotate(-90)" font-size="15.9" textLength="52.8" lengthAdjust="spacingAndGlyphs">Density</text>
<path d="M719.5 1200.4L720.5 1200.4L721.5 1200.3L722.5 1200.2L723.5 1200.0L724.5 1199.8L725.5 1199.5L726.5 1199.3L727.5 1199.0L728.5 1198.7L729.5 1198.2L730.5 1197.6L731.5 1196.9L732.5 1196.1L733.5 1195.2L734.5 1194.3L735.5 1193.2L736.5 1191.9L737.5 1190.2L738.5 1188.4L739.5 1186.4L740.5 1184.2L741.5 1181.9L742.5 1179.4L743.5 1176.5L744.5 1173.4L745.5 1170.1L746.5 1166.6L747.5 1163.0L748.5 1159.1L749.5 1155.1L750.5 1150.8L751.5 1146.4L752.5 1141.6L753.5 1136.5L754.5 1131.3L755.5 1126.2L756.5 1121.3L757.5 1116.6L758.5 1112.0L759.5 1107.5L760.5 1103.1L761.5 1099.0L762.5 1094.9L763.5 1090.9L764.5 1087.1L765.5 1083.6L766.5 1080.5L767.5 1077.6L768.5 1074.9L769.5 1072.4L770.5 1070.2L771.5 1068.3L772.5 1066.5L773.5 1064.9L774.5 1063.5L775.5 1062.3L776.5 1061.6L777.5 1061.0L778.5 1060.4L779.5 1059.9L780.5 1059.6L781.5 1059.3L782.5 1059.2L783.5 1059.3L784.5 1059.4L785.5 1059.7L786.5 1059.9L787.5 1060.2L788.5 1060.4L789.5 1060.7L790.5 1060.8L791.5 1061.0L792.5 1061.2L793.5 1061.4L794.5 1061.6L795.5 1061.8L796.5 1062.0L797.5 1062.1L798.5 1062.2L799.5 1062.2L800.5 1062.2L801.5 1062.2L802.5 1062.1L803.5 1061.9L804.5 1061.8L805.5 1061.6L806.5 1061.4L807.5 1061.2L808.5 1061.0L809.5 1060.8L810.5 1060.7L811.5 1060.5L812.5 1060.4L813.5 1060.2L814.5 1060.1L815.5 1060.0L816.5 1059.9L817.5 1059.8L818.5 1059.8L819.5 1059.8L820.5 1059.8L821.5 1059.9L822.5 1060.0L823.5 1060.1L824.5 1060.3L825.5 1060.4L826.5 1060.6L827.5 1060.8L828.5 1060.9L829.5 1061.2L830.5 1061.4L831.5 1061.7L832.5 1062.0L833.5 1062.3L834.5 1062.5L835.5 1062.8L836.5 1063.0L837.5 1063.2L838.5 1063.4L839.5 1063.6L840.5 1063.8L841.5 1064.0L842.5 1064.2L843.5 1064.4L844.5 1064.5L845.5 1064.7L846.5 1064.8L847.5 1064.9L848.5 1065.0L849.5 1065.0L850.5 1065.0L851.5 1065.0L852.5 1065.0L853.5 1065.0L854.5 1065.0L855.5 1065.0L856.5 1065.0L857.5 1065.0L858.5 1065.0L859.5 1065.0L860.5 1065.0L861.5 1064.9L862.5 1064.8L863.5 1064.6L864.5 1064.4L865.5 1064.1L866.5 1063.8L867.5 1063.4L868.5 1063.1L869.5 1062.7L870.5 1062.2L871.5 1061.5L872.5 1060.8L873.5 1060.0L874.5 1059.2L875.5 1058.3L876.5 1057.3L877.5 1056.2L878.5 1054.9L879.5 1053.6L880.5 1052.3L881.5 1050.9L882.5 1049.5L883.5 1047.9L884.5 1046.3L885.5 1044.6L886.5 1042.9L887.5 1041.2L888.5 1039.5L889.5 1037.8L890.5 1035.9L891.5 1034.1L892.5 1032.3L893.5 1030.5L894.5 1028.7L895.5 1027.0L896.5 1025.3L897.5 1023.5L898.5 1021.6L899.5 1019.4L900.5 1016.7L901.5 1014.3L902.5 1012.0L903.5 1009.7L904.5 1007.5L905.5 1005.4L906.5 1003.2L907.5 1001.0L908.5 998.7L909.5 996.4L910.5 993.9L911.5 991.2L912.5 988.5L913.5 985.7L914.5 982.8L915.5 979.9L916.5 976.8L917.5 973.6L918.5 970.2L919.5 966.8L920.5 963.2L921.5 959.3L922.5 955.3L923.5 951.1L924.5 946.7L925.5 942.1L926.5 937.2L927.5 932.0L928.5 926.5L929.5 920.7L930.5 914.4L931.5 907.6L932.5 900.6L933.5 893.7L934.5 887.2L935.5 880.8L936.5 874.4L937.5 867.7L938.5 860.6L939.5 853.0L940.5 845.1L941.5 837.0L942.5 828.9L943.5 820.5L944.5 812.1L945.5 804.0L946.5 796.0L947.5 788.1L948.5 780.4L949.5 773.0L950.5 765.5L951.5 758.2L952.5 751.5L953.5 745.5L954.5 739.7L955.5 734.3L956.5 729.3L957.5 724.8L958.5 721.1L959.5 717.7L960.5 714.7L961.5 712.1L962.5 710.3L963.5 709.1L964.5 708.1L965.5 707.4L966.5 707.4L967.5 707.9L968.5 709.0L969.5 710.2L970.5 711.8L971.5 714.2L972.5 717.2L973.5 720.7L974.5 724.3L975.5 728.6L976.5 733.6L977.5 739.1L978.5 744.9L979.5 751.3L980.5 758.4L981.5 765.9L982.5 773.6L983.5 781.3L984.5 789.3L985.5 797.5L986.5 805.7L987.5 813.8L988.5 821.9L989.5 830.0L990.5 838.1L991.5 846.1L992.5 854.1L993.5 862.1L994.5 870.0L995.5 877.7L996.5 885.4L997.5 893.1L998.5 900.6L999.5 907.8L1000.5 914.6L1001.5 920.9L1002.5 927.0L1003.5 932.7L1004.5 938.1L1005.5 943.2L1006.5 948.1L1007.5 952.8L1008.5 957.3L1009.5 961.5L1010.5 965.3L1011.5 969.0L1012.5 972.4L1013.5 975.7L1014.5 978.8L1015.5 981.8L1016.5 984.7L1017.5 987.5L1018.5 990.3L1019.5 992.9L1020.5 995.4L1021.5 997.9L1022.5 1000.3L1023.5 1002.7L1024.5 1005.1L1025.5 1007.5L1026.5 1009.7L1027.5 1011.9L1028.5 1014.0L1029.5 1016.1L1030.5 1018.0L1031.5 1019.8L1032.5 1021.6L1033.5 1023.3L1034.5 1024.9L1035.5 1026.4L1036.5 1027.9L1037.5 1029.2L1038.5 1030.5L1039.5 1031.7L1040.5 1032.9L1041.5 1034.0L1042.5 1035.1L1043.5 1036.2L1044.5 1037.2L1045.5 1038.1L1046.5 1039.0L1047.5 1039.7L1048.5 1040.5L1049.5 1041.2L1050.5 1041.8L1051.5 1042.3L1052.5 1042.8L1053.5 1043.3L1054.5 1043.7L1055.5 1044.0L1056.5 1044.3L1057.5 1044.5L1058.5 1044.7L1059.5 1044.9L1060.5 1045.0L1061.5 1045.1L1062.5 1045.2L1063.5 1045.2L1064.5 1045.3L1065.5 1045.4L1066.5 1045.4L1067.5 1045.5L1068.5 1045.5L1069.5 1045.6L1070.5 1045.7L1071.5 1045.8L1072.5 1046.0L1073.5 1046.3L1074.5 1046.6L1075.5 1047.0L1076.5 1047.3L1077.5 1047.6L1078.5 1047.9L1079.5 1048.3L1080.5 1048.6L1081.5 1049.0L1082.5 1049.3L1083.5 1049.7L1084.5 1050.0L1085.5 1050.4L1086.5 1050.7L1087.5 1051.0L1088.5 1051.3L1089.5 1051.6L1090.5 1051.9L1091.5 1052.0L1092.5 1052.2L1093.5 1052.4L1094.5 1052.5L1095.5 1052.6L1096.5 1052.8L1097.5 1052.9L1098.5 1053.1L1099.5 1053.3L1100.5 1053.5L1101.5 1053.7L1102.5 1053.9L1103.5 1054.2L1104.5 1054.4L1105.5 1054.7L1106.5 1054.9L1107.5 1055.2L1108.5 1055.4L1109.5 1055.7L1110.5 1056.0L1111.5 1056.2L1112.5 1056.5L1113.5 1056.8L1114.5 1057.1L1115.5 1057.3L1116.5 1057.6L1117.5 1057.8L1118.5 1058.0L1119.5 1058.1L1120.5 1058.3L1121.5 1058.5L1122.5 1058.7L1123.5 1058.8L1124.5 1058.9L1125.5 1059.0L1126.5 1059.1L1127.5 1059.1L1128.5 1059.1L1129.5 1059.1L1130.5 1059.0L1131.5 1058.9L1132.5 1058.9L1133.5 1058.8L1134.5 1058.7L1135.5 1058.7L1136.5 1058.6L1137.5 1058.4L1138.5 1058.3L1139.5 1058.2L1140.5 1058.1L1141.5 1058.0L1142.5 1057.9L1143.5 1057.9L1144.5 1058.0L1145.5 1058.1L1146.5 1058.4L1147.5 1058.7L1148.5 1059.0L1149.5 1059.4L1150.5 1059.8L1151.5 1060.5L1152.5 1061.3L1153.5 1062.3L1154.5 1063.4L1155.5 1064.6L1156.5 1065.8L1157.5 1067.3L1158.5 1069.0L1159.5 1070.7L1160.5 1072.6L1161.5 1074.6L1162.5 1076.7L1163.5 1079.0L1164.5 1081.5L1165.5 1084.1L1166.5 1086.9L1167.5 1089.9L1168.5 1093.3L1169.5 1096.9L1170.5 1100.7L1171.5 1104.7L1172.5 1108.8L1173.5 1113.1L1174.5 1117.8L1175.5 1122.6L1176.5 1127.5L1177.5 1132.2L1178.5 1136.8L1179.5 1141.3L1180.5 1145.8L1181.5 1150.2L1182.5 1154.5L1183.5 1158.5L1184.5 1162.2L1185.5 1165.8L1186.5 1169.2L1187.5 1172.5L1188.5 1175.5L1189.5 1178.4L1190.5 1181.1L1191.5 1183.7L1192.5 1186.2L1193.5 1188.5L1194.5 1190.4L1195.5 1192.0L1196.5 1193.5L1197.5 1194.8L1198.5 1196.0L1199.5 1197.0L1200.5 1197.7L1201.5 1198.4L1202.5 1198.9L1203.5 1199.5L1204.5 1199.9L1205.5 1200.1L1206.5 1200.3L1207.5 1200.3L1208.5 1200.4L1209.5 1200.4L1210.5 1200.5L1211.5 1200.5L1212.5 1200.5L1212.8 1200.5Z" fill="#f5deb3" stroke="#000" stroke-width="1.15" stroke-linejoin="round"/>
<g clip-path="url(#c3)">
<path d="M929.24 1220.24V687.81" stroke="#006400" stroke-width="1.5" stroke-dasharray="6 6" stroke-linecap="round" fill="none"/>
<path d="M1001.85 1220.24V687.81" stroke="#006400" stroke-width="1.5" stroke-dasharray="6 6" stroke-linecap="round" fill="none"/>
</g>
<rect x="699.76" y="687.81" width="532.43" height="532.43" fill="none" stroke="#000" stroke-width="0.75"/>
<path d="M709.27 1220.24H1221.82M709.27 1220.24v5.98M794.70 1220.24v5.98M880.12 1220.24v5.98M965.55 1220.24v5.98M1050.97 1220.24v5.98M1136.40 1220.24v5.98M1221.82 1220.24v5.98" stroke="#000" stroke-width="0.75" stroke-linecap="round" fill="none"/>
<text x="698.77" y="1241.75" font-size="10.0" textLength="21" lengthAdjust="spacing">-600</text>
<text x="784.20" y="1241.75" font-size="10.0" textLength="21" lengthAdjust="spacing">-400</text>
<text x="869.62" y="1241.75" font-size="10.0" textLength="21" lengthAdjust="spacing">-200</text>
<text x="962.55" y="1241.75" font-size="10.0" textLength="6" lengthAdjust="spacing">0</text>
<text x="1041.97" y="1241.75" font-size="10.0" textLength="18" lengthAdjust="spacing">200</text>
<text x="1127.40" y="1241.75" font-size="10.0" textLength="18" lengthAdjust="spacing">400</text>
<text x="1212.82" y="1241.75" font-size="10.0" textLength="18" lengthAdjust="spacing">600</text>
<path d="M699.76 1200.52V707.02M699.76 1200.52h-5.98M699.76 1101.82h-5.98M699.76 1003.12h-5.98M699.76 904.42h-5.98M699.76 805.72h-5.98M699.76 707.02h-5.98" stroke="#000" stroke-width="0.75" stroke-linecap="round" fill="none"/>
<text transform="translate(685.42 1217.02) rotate(-90)" font-size="10.0" textLength="33" lengthAdjust="spacing">0.0000</text>
<text transform="translate(685.42 1118.32) rotate(-90)" font-size="10.0" textLength="33" lengthAdjust="spacing">0.0005</text>
<text transform="translate(685.42 1019.62) rotate(-90)" font-size="10.0" textLength="33" lengthAdjust="spacing">0.0010</text>
<text transform="translate(685.42 920.92) rotate(-90)" font-size="10.0" textLength="33" lengthAdjust="spacing">0.0015</text>
<text transform="translate(685.42 822.22) rotate(-90)" font-size="10.0" textLength="33" lengthAdjust="spacing">0.0020</text>
<text transform="translate(685.42 723.52) rotate(-90)" font-size="10.0" textLength="33" lengthAdjust="spacing">0.0025</text>
<text x="846.33" y="672.01" font-size="21.6" font-weight="bold" textLength="239.3" lengthAdjust="spacingAndGlyphs">Enrichment zone: 85.00</text>
<text x="879.67" y="1265.66" font-size="15.9" textLength="173.4" lengthAdjust="spacingAndGlyphs">Distance to peak summit</text>
<text transform="translate(661.51 980.82) rotate(-90)" font-size="15.9" textLength="52.8" lengthAdjust="spacingAndGlyphs">Density</text>
<path d="M1017.4 703.4H1041.2" stroke="#006400" stroke-width="1.05" stroke-dasharray="1.125 3.375" stroke-linecap="round" fill="none"/>
<text x="1052.1" y="707.80" font-size="12.9">enrichment zone = 85</text>
<path d="M1017.4 718.8H1041.2" stroke="#d62020" stroke-width="1.05" stroke-dasharray="1.125 3.375" stroke-linecap="round" fill="none"/>
<text x="1052.1" y="723.20" font-size="12.9">motif score threshold = 88.600</text>
<circle cx="1028.90" cy="734.6" r="2.6" fill="#0000ff"/>
<text x="1052.1" y="739.00" font-size="12.9">centrality p-val = -0.0627</text>
</svg></body></html>
